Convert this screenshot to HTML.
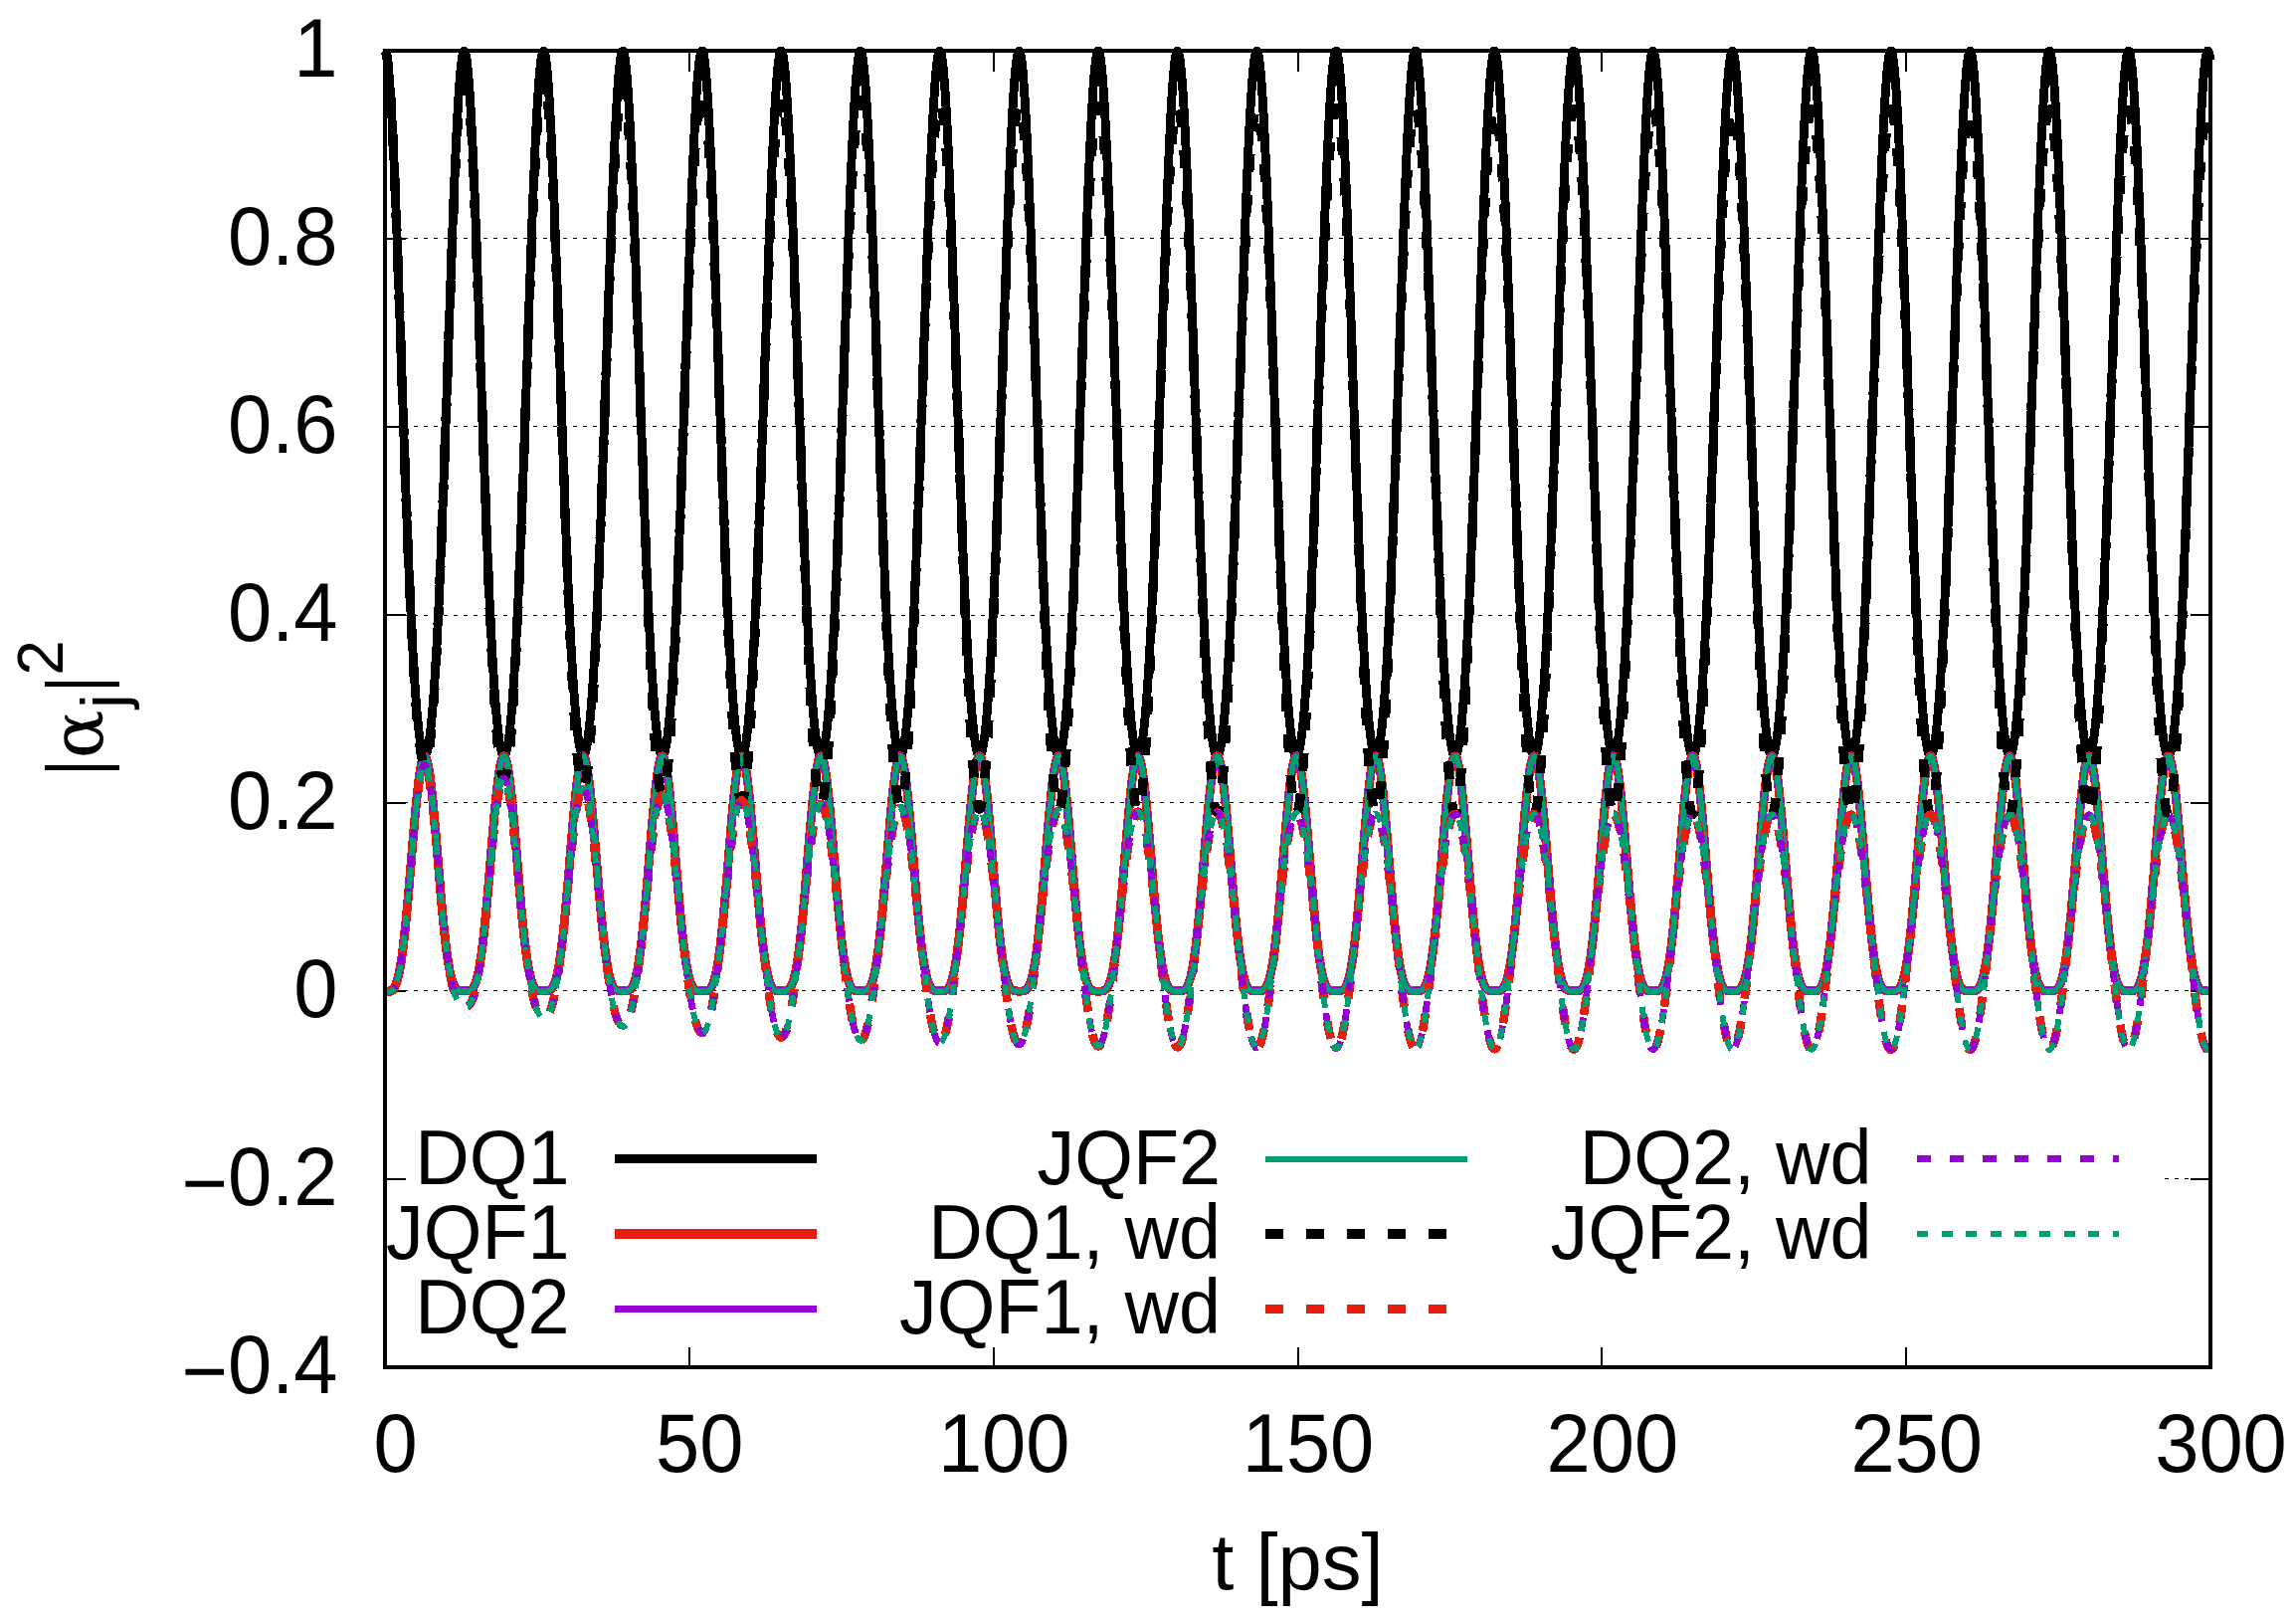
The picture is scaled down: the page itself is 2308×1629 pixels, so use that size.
<!DOCTYPE html>
<html lang="en">
<head>
<meta charset="utf-8">
<title>|alpha_j|^2 vs t [ps]</title>
<style>
html,body{margin:0;padding:0;background:#fff;overflow:hidden}
svg{display:block}
text{font-family:"Liberation Sans",sans-serif;fill:#000}
.ax{font-size:79.5px}
.lg{font-size:75.5px}
.c{fill:none;stroke-linejoin:round;stroke-linecap:butt}
</style>
</head>
<body>
<svg width="2308" height="1629" viewBox="0 0 2308 1629">
<rect x="0" y="0" width="2308" height="1629" fill="#fff"/>
<g stroke="#000" stroke-width="1" stroke-dasharray="4 6" stroke-dashoffset="1" fill="none" shape-rendering="crispEdges">
<line x1="387.0" y1="239.5" x2="2222.0" y2="239.5"/>
<line x1="387.0" y1="428.5" x2="2222.0" y2="428.5"/>
<line x1="387.0" y1="618.5" x2="2222.0" y2="618.5"/>
<line x1="387.0" y1="806.5" x2="2222.0" y2="806.5"/>
<line x1="387.0" y1="995.5" x2="2222.0" y2="995.5"/>
<line x1="2174" y1="1184.5" x2="2201" y2="1184.5" stroke-dashoffset="8"/>
</g>
<g stroke="#000" stroke-width="2" fill="none" shape-rendering="crispEdges">
<line x1="692.8" y1="1374.0" x2="692.8" y2="1353.5"/><line x1="692.8" y1="51.0" x2="692.8" y2="71.5"/>
<line x1="998.7" y1="1374.0" x2="998.7" y2="1353.5"/><line x1="998.7" y1="51.0" x2="998.7" y2="71.5"/>
<line x1="1304.5" y1="1374.0" x2="1304.5" y2="1353.5"/><line x1="1304.5" y1="51.0" x2="1304.5" y2="71.5"/>
<line x1="1610.3" y1="1374.0" x2="1610.3" y2="1353.5"/><line x1="1610.3" y1="51.0" x2="1610.3" y2="71.5"/>
<line x1="1916.2" y1="1374.0" x2="1916.2" y2="1353.5"/><line x1="1916.2" y1="51.0" x2="1916.2" y2="71.5"/>
<line x1="387.0" y1="240.0" x2="407.5" y2="240.0"/><line x1="2222.0" y1="240.0" x2="2201.5" y2="240.0"/>
<line x1="387.0" y1="429.0" x2="407.5" y2="429.0"/><line x1="2222.0" y1="429.0" x2="2201.5" y2="429.0"/>
<line x1="387.0" y1="618.0" x2="407.5" y2="618.0"/><line x1="2222.0" y1="618.0" x2="2201.5" y2="618.0"/>
<line x1="387.0" y1="807.0" x2="407.5" y2="807.0"/><line x1="2222.0" y1="807.0" x2="2201.5" y2="807.0"/>
<line x1="387.0" y1="996.0" x2="407.5" y2="996.0"/><line x1="2222.0" y1="996.0" x2="2201.5" y2="996.0"/>
<line x1="387.0" y1="1185.0" x2="407.5" y2="1185.0"/><line x1="2222.0" y1="1185.0" x2="2201.5" y2="1185.0"/>
</g>
<g class="c" shape-rendering="crispEdges">
<path d="M387.0 51.0l1 1.5 1 4.3 1 7.2 1 10 1 12.7 1 15.2 1 17.6 1 19.8 1 21.8 1 23.6 1 25.1 1 26.4 1 27.5 1 28.2 1 28.9 1 29.2 1 29.2 1 29.1 .9 28.7 1 28.2 1 27.5 1 26.5 1 25.6 1 24.3 1 23.1 1 21.7 1 20.3 1 18.8 1 17.4 1 15.7 1 14.2 1 12.7 1 11.1 1 9.6 1 8.1 1 6.5 1 5.1 1 3.6 1 2.1 1 .6 1-.8 1-2.2 1-3.8 1-5.2 1-6.7 1-8.3 1-9.7 1-11.3 1-12.9 1-14.4 1-15.9 1-17.5 1-19 1-20.5 1-21.9 .9-23.2 1-24.5 1-25.6 1-26.7 1-27.5 1-28.3 1-28.8 1-29.1 1-29.3 1-29.1 1-28.8 1-28.2 1-27.4 1-26.2 1-25 1-23.4 1-21.5 1-19.6 1-17.3 1-14.9 1-12.4 1-9.7 1-6.9 1-4.1 1-1.1 1 1.8 1 4.7 1 7.5 1 10.4 1 12.9 1 15.5 1 17.9 1 20 1 22 1 23.7 1 25.3 1 26.6 .9 27.5 1 28.4 1 28.9 1 29.2 1 29.2 1 29.1 1 28.7 1 28.1 1 27.3 1 26.5 1 25.4 1 24.2 1 22.9 1 21.6 1 20.1 1 18.7 1 17.1 1 15.6 1 14.1 1 12.5 1 10.9 1 9.4 1 7.9 1 6.4 1 4.9 1 3.4 1 1.9 1 .5 1-1 1-2.4 1-3.9 1-5.4 1-6.9 1-8.4 1-9.9 1-11.5 .9-13 1-14.6 1-16.1 1-17.7 1-19.2 1-20.6 1-22 1-23.4 1-24.6 1-25.8 1-26.8 1-27.6 1-28.3 1-28.9 1-29.1 1-29.3 1-29.1 1-28.7 1-28.1 1-27.3 1-26.1 1-24.8 1-23.2 1-21.3 1-19.4 1-17 1-14.7 1-12.1 1-9.3 1-6.6 1-3.7 1-.8 1 2.1 1 5 1 7.9 1 10.6 1 13.3 .9 15.7 1 18.1 1 20.3 1 22.2 1 23.9 1 25.5 1 26.6 1 27.7 1 28.4 1 29 1 29.2 1 29.2 1 29 1 28.7 1 28 1 27.3 1 26.3 1 25.3 1 24.1 1 22.7 1 21.5 1 19.9 1 18.5 1 17 1 15.4 1 13.9 1 12.3 1 10.7 1 9.3 1 7.7 1 6.2 1 4.7 1 3.3 1 1.8 1 .3 1-1.2 1-2.6 .9-4 1-5.6 1-7.1 1-8.6 1-10.1 1-11.6 1-13.2 1-14.8 1-16.3 1-17.8 1-19.3 1-20.8 1-22.2 1-23.5 1-24.8 1-25.9 1-26.9 1-27.7 1-28.4 1-28.9 1-29.1 1-29.3 1-29.1 1-28.6 1-28.1 1-27.1 1-26 1-24.6 1-23 1-21.1 1-19.1 1-16.8 1-14.4 1-11.8 1-9 1-6.3 1-3.4 .9-.4 1 2.4 1 5.4 1 8.1 1 11 1 13.5 1 16.1 1 18.3 1 20.5 1 22.4 1 24.1 1 25.6 1 26.8 1 27.8 1 28.5 1 29 1 29.2 1 29.2 1 29 1 28.6 1 28 1 27.1 1 26.2 1 25.2 1 23.9 1 22.6 1 21.3 1 19.8 1 18.3 1 16.8 1 15.2 1 13.7 1 12.2 1 10.6 1 9 1 7.6 .9 6 1 4.6 1 3.1 1 1.6 1 .1 1-1.3 1-2.8 1-4.2 1-5.7 1-7.3 1-8.7 1-10.3 1-11.8 1-13.4 1-14.9 1-16.5 1-18 1-19.5 1-21 1-22.3 1-23.7 1-24.9 1-26 1-27 1-27.8 1-28.4 1-29 1-29.2 1-29.2 1-29 1-28.7 1-27.9 1-27 1-25.9 1-24.4 1-22.8 1-20.9 .9-18.8 1-16.6 1-14 1-11.5 1-8.8 1-5.9 1-3.1 1-.1 1 2.8 1 5.6 1 8.5 1 11.3 1 13.8 1 16.3 1 18.6 1 20.8 1 22.6 1 24.3 1 25.7 1 26.9 1 27.9 1 28.6 1 29 1 29.2 1 29.2 1 29 1 28.5 1 27.9 1 27 1 26.1 1 25.1 1 23.7 1 22.5 1 21.1 1 19.6 1 18.2 1 16.6 .9 15.1 1 13.5 1 12 1 10.4 1 8.9 1 7.3 1 5.9 1 4.4 1 2.9 1 1.5 1 0 1-1.5 1-3 1-4.4 1-5.9 1-7.4 1-8.9 1-10.5 1-12 1-13.5 1-15.1 1-16.7 1-18.1 1-19.7 1-21.1 1-22.5 1-23.8 1-25.1 1-26.1 1-27.1 1-27.9 1-28.5 1-29 1-29.2 1-29.2 1-29 1-28.6 .9-27.8 1-26.9 1-25.7 1-24.3 1-22.6 1-20.7 1-18.5 1-16.3 1-13.8 1-11.2 1-8.4 1-5.6 1-2.7 1 .2 1 3.1 1 6 1 8.8 1 11.5 1 14.1 1 16.6 1 18.9 1 20.9 1 22.9 1 24.4 1 25.9 1 27 1 28 1 28.6 1 29.1 1 29.2 1 29.2 1 28.9 1 28.5 1 27.8 1 27 1 25.9 1 24.9 .9 23.7 1 22.3 1 20.9 1 19.5 1 17.9 1 16.5 1 14.9 1 13.3 1 11.8 1 10.3 1 8.7 1 7.2 1 5.7 1 4.2 1 2.8 1 1.2 1-.1 1-1.7 1-3.1 1-4.6 1-6.1 1-7.5 1-9.1 1-10.7 1-12.1 1-13.8 1-15.2 1-16.8 1-18.4 1-19.8 1-21.3 1-22.7 1-23.9 1-25.2 1-26.2 1-27.2 1-28 .9-28.6 1-29 1-29.2 1-29.2 1-29 1-28.5 1-27.7 1-26.8 1-25.6 1-24 1-22.4 1-20.5 1-18.3 1-16 1-13.5 1-10.9 1-8.1 1-5.3 1-2.4 1 .6 1 3.4 1 6.3 1 9.2 1 11.8 1 14.4 1 16.9 1 19.1 1 21.1 1 23.1 1 24.6 1 26 1 27.2 1 28 1 28.7 1 29.1 1 29.2 .9 29.2 1 28.9 1 28.4 1 27.7 1 26.8 1 25.9 1 24.8 1 23.5 1 22.1 1 20.8 1 19.3 1 17.8 1 16.2 1 14.8 1 13.1 1 11.6 1 10.1 1 8.6 1 7 1 5.5 1 4.1 1 2.6 1 1.1 1-.3 1-1.9 1-3.2 1-4.8 1-6.2 1-7.8 1-9.3 1-10.8 1-12.3 1-13.9 1-15.5 1-17 1-18.5 1-20 .9-21.4 1-22.8 1-24.1 1-25.3 1-26.4 1-27.2 1-28.1 1-28.6 1-29.1 1-29.2 1-29.2 1-28.9 1-28.4 1-27.7 1-26.7 1-25.4 1-23.9 1-22.1 1-20.3 1-18 1-15.7 1-13.2 1-10.6 1-7.8 1-5 1-2 1 .8 1 3.8 1 6.6 1 9.5 1 12.1 1 14.7 1 17.1 1 19.4 1 21.4 1 23.2 1 24.8 .9 26.1 1 27.3 1 28.1 1 28.8 1 29.1 1 29.3 1 29.1 1 28.8 1 28.4 1 27.6 1 26.7 1 25.8 1 24.6 1 23.3 1 22 1 20.6 1 19.2 1 17.6 1 16.1 1 14.5 1 13 1 11.5 1 9.9 1 8.3 1 6.9 1 5.4 1 3.9 1 2.4 1 .9 1-.5 1-2 1-3.4 1-4.9 1-6.4 1-8 1-9.4 1-11 .9-12.5 1-14.1 1-15.6 1-17.2 1-18.7 1-20.1 1-21.6 1-23 1-24.2 1-25.4 1-26.5 1-27.4 1-28.1 1-28.7 1-29.1 1-29.2 1-29.2 1-28.9 1-28.3 1-27.6 1-26.5 1-25.2 1-23.8 1-21.9 1-20 1-17.8 1-15.5 1-12.9 1-10.2 1-7.5 1-4.7 1-1.7 1 1.2 1 4.1 1 7 1 9.7 .9 12.4 1 15 1 17.4 1 19.6 1 21.6 1 23.4 1 25 1 26.3 1 27.4 1 28.2 1 28.8 1 29.1 1 29.3 1 29.1 1 28.8 1 28.2 1 27.6 1 26.6 1 25.6 1 24.5 1 23.2 1 21.9 1 20.4 1 19 1 17.4 1 15.9 1 14.4 1 12.8 1 11.3 1 9.7 1 8.2 1 6.7 1 5.2 1 3.7 1 2.3 1 .7 1-.6 .9-2.2 1-3.6 1-5.1 1-6.6 1-8.1 1-9.6 1-11.1 1-12.7 1-14.3 1-15.8 1-17.3 1-18.9 1-20.3 1-21.8 1-23.1 1-24.3 1-25.6 1-26.6 1-27.4 1-28.2 1-28.8 1-29.1 1-29.2 1-29.2 1-28.8 1-28.3 1-27.4 1-26.4 1-25.1 1-23.5 1-21.8 1-19.7 1-17.6 1-15.2 1-12.6 1-9.9 1-7.2 .9-4.3 1-1.4 1 1.5 1 4.4 1 7.3 1 10.1 1 12.7 1 15.3 1 17.6 1 19.8 1 21.9 1 23.6 1 25.1 1 26.4 1 27.5 1 28.3 1 28.9 1 29.1 1 29.3 1 29.1 1 28.7 1 28.2 1 27.4 1 26.6 1 25.5 1 24.3 1 23 1 21.7 1 20.3 1 18.8 1 17.3 1 15.7 1 14.2 1 12.7 1 11 1 9.6 1 8 .9 6.6 1 5 1 3.5 1 2.1 1 .6 1-.8 1-2.3 1-3.8 1-5.2 1-6.8 1-8.3 1-9.8 1-11.3 1-12.9 1-14.4 1-16 1-17.5 1-19 1-20.5 1-21.9 1-23.3 1-24.5 1-25.6 1-26.7 1-27.6 1-28.3 1-28.8 1-29.1 1-29.2 1-29.2 1-28.8 1-28.1 1-27.4 1-26.2 1-25 1-23.3 1-21.5 .9-19.5 1-17.3 1-14.9 1-12.3 1-9.7 1-6.8 1-4 1-1.1 1 1.9 1 4.7 1 7.6 1 10.4 1 13 1 15.5 1 17.9 1 20.1 1 22.1 1 23.7 1 25.3 1 26.6 1 27.6 1 28.4 1 28.9 1 29.2 1 29.2 1 29.1 1 28.6 1 28.1 1 27.4 1 26.4 1 25.4 1 24.2 1 22.9 1 21.5 1 20.1 1 18.6 1 17.1 .9 15.6 1 14 1 12.5 1 10.9 1 9.4 1 7.8 1 6.4 1 4.9 1 3.4 1 1.9 1 .4 1-1 1-2.5 1-3.9 1-5.4 1-7 1-8.4 1-10 1-11.5 1-13 1-14.6 1-16.2 1-17.7 1-19.1 1-20.7 1-22.1 1-23.4 1-24.6 1-25.8 1-26.8 1-27.7 1-28.3 1-28.9 1-29.1 1-29.3 1-29.1 .9-28.7 1-28.1 1-27.2 1-26.1 1-24.8 1-23.1 1-21.4 1-19.2 1-17 1-14.6 1-12.1 1-9.3 1-6.5 1-3.7 1-.7 1 2.2 1 5 1 8 1 10.6 1 13.3 1 15.9 1 18.1 1 20.3 1 22.3 1 23.9 1 25.5 1 26.7 1 27.7 1 28.4 1 29 1 29.2 1 29.2 1 29 1 28.6 1 28.1 1 27.2 1 26.3 .9 25.3 1 24 1 22.8 1 21.4 1 19.9 1 18.5 1 16.9 1 15.4 1 13.8 1 12.3 1 10.7 1 9.3 1 7.6 1 6.2 1 4.7 1 3.2 1 1.8 1 .3 1-1.2 1-2.6 1-4.1 1-5.6 1-7.1 1-8.6 1-10.2 1-11.7 1-13.2 1-14.8 1-16.3 1-17.9 1-19.3 1-20.8 1-22.3 1-23.5 1-24.8 1-25.9 1-26.9 .9-27.7 1-28.5 1-28.9 1-29.1 1-29.3 1-29 1-28.7 1-28 1-27.1 1-26 1-24.6 1-23 1-21 1-19.1 1-16.7 1-14.3 1-11.8 1-9 1-6.2 1-3.3 1-.4 1 2.5 1 5.4 1 8.2 1 11 1 13.6 1 16.1 1 18.4 1 20.5 1 22.5 1 24.1 1 25.7 1 26.8 1 27.8 1 28.5 1 29 1 29.2 .9 29.2 1 29 1 28.6 1 27.9 1 27.2 1 26.2 1 25.1 1 23.9 1 22.6 1 21.2 1 19.8 1 18.3 1 16.7 1 15.2 1 13.7 1 12.1 1 10.6 1 9 1 7.5 1 6 1 4.6 1 3 1 1.6 1 .1 1-1.3 1-2.8 1-4.3 1-5.8 1-7.2 1-8.8 1-10.3 1-11.9 1-13.4 1-14.9 1-16.5 1-18.1 .9-19.5 1-21 1-22.4 1-23.7 1-24.9 1-26 1-27 1-27.8 1-28.5 1-28.9 1-29.2 1-29.3 1-29 1-28.6 1-28 1-27 1-25.8 1-24.4 1-22.7 1-20.9 1-18.8 1-16.5 1-14 1-11.4 1-8.7 1-5.9 1-3 1-.1 1 2.9 1 5.7 1 8.5 1 11.3 1 13.9 1 16.4 1 18.6 1 20.8 1 22.7 .9 24.3 1 25.7 1 27 1 27.9 1 28.5 1 29.1 1 29.2 1 29.2 1 29 1 28.5 1 27.8 1 27.1 1 26.1 1 24.9 1 23.8 1 22.5 1 21 1 19.6 1 18.1 1 16.6 1 15.1 1 13.4 1 12 1 10.4 1 8.8 1 7.4 1 5.8 1 4.4 1 2.9 1 1.4 1-.1 1-1.5 1-2.9 1-4.5 1-5.9 1-7.5 1-8.9 .9-10.5 1-12 1-13.6 1-15.1 1-16.7 1-18.2 1-19.7 1-21.2 1-22.5 1-23.8 1-25.1 1-26.1 1-27.1 1-27.9 1-28.6 1-28.9 1-29.3 1-29.2 1-29 1-28.5 1-27.9 1-26.8 1-25.7 1-24.3 1-22.5 1-20.6 1-18.6 1-16.2 1-13.7 1-11.2 1-8.3 1-5.6 1-2.7 1 .3 1 3.2 1 6 1 8.9 .9 11.6 1 14.2 1 16.6 1 18.9 1 21 1 22.8 1 24.5 1 25.9 1 27.1 1 28 1 28.6 1 29.1 1 29.2 1 29.2 1 28.9 1 28.5 1 27.7 1 27 1 25.9 1 24.9 1 23.6 1 22.3 1 20.9 1 19.4 1 18 1 16.4 1 14.9 1 13.3 1 11.7 1 10.2 1 8.7 1 7.2 1 5.7 1 4.2 1 2.7 1 1.3 1-.3 .9-1.6 1-3.2 1-4.6 1-6.1 1-7.6 1-9.1 1-10.7 1-12.2 1-13.7 1-15.4 1-16.8 1-18.4 1-19.8 1-21.3 1-22.7 1-24 1-25.2 1-26.2 1-27.3 1-27.9 1-28.6 1-29.1 1-29.2 1-29.2 1-28.9 1-28.5 1-27.8 1-26.7 1-25.5 1-24.1 1-22.3 1-20.5 1-18.2 1-16 1-13.4 1-10.8 1-8.1 .9-5.2 1-2.4 1 .6 1 3.5 1 6.4 1 9.2 1 11.8 1 14.5 1 16.9 1 19.2 1 21.2 1 23 1 24.7 1 26 1 27.2 1 28.1 1 28.7 1 29.1 1 29.2 1 29.2 1 28.9 1 28.3 1 27.7 1 26.9 1 25.8 1 24.7 1 23.5 1 22.2 1 20.7 1 19.3 1 17.7 1 16.3 1 14.6 1 13.2 1 11.6 1 10 .9 8.5 1 7 1 5.5 1 4.1 1 2.5 1 1.1 1-.4 1-1.8 1-3.3 1-4.8 1-6.3 1-7.8 1-9.3 1-10.8 1-12.4 1-13.9 1-15.5 1-17 1-18.5 1-20.1 1-21.4 1-22.9 1-24.1 1-25.3 1-26.4 1-27.3 1-28.1 1-28.6 1-29.1 1-29.2 1-29.2 1-28.9 1-28.4 1-27.7 1-26.6 1-25.4 1-23.8 .9-22.2 1-20.1 1-18.1 1-15.6 1-13.2 1-10.5 1-7.7 1-4.9 1-2 1 .9 1 3.8 1 6.7 1 9.5 1 12.2 1 14.7 1 17.2 1 19.4 1 21.4 1 23.2 1 24.9 1 26.2 1 27.3 1 28.1 1 28.8 1 29.1 1 29.2 1 29.2 1 28.8 1 28.3 1 27.6 1 26.8 1 25.7 1 24.6 1 23.3 1 22 1 20.5 1 19.1 .9 17.6 1 16.1 1 14.5 1 13 1 11.4 1 9.9 1 8.3 1 6.8 1 5.4 1 3.8 1 2.4 1 .9 1-.5 1-2 1-3.5 1-4.9 1-6.5 1-7.9 1-9.5 1-11 1-12.6 1-14.1 1-15.6 1-17.2 1-18.7 1-20.2 1-21.7 1-22.9 1-24.3 1-25.5 1-26.4 1-27.4 1-28.2 1-28.7 1-29.1 1-29.2 1-29.2 .9-28.9 1-28.3 1-27.5 1-26.5 1-25.2 1-23.7 1-21.9 1-20 1-17.8 1-15.3 1-12.9 1-10.2 1-7.4 1-4.6 1-1.7 1 1.3 1 4.1 1 7 1 9.8 1 12.5 1 15 1 17.5 1 19.6 1 21.6 1 23.5 1 25 1 26.3 1 27.4 1 28.3 1 28.8 1 29.1 1 29.3 1 29.1 1 28.7 1 28.3 1 27.5 .9 26.6 1 25.6 1 24.5 1 23.1 1 21.9 1 20.4 1 18.9 1 17.4 1 15.9 1 14.4 1 12.7 1 11.3 1 9.7 1 8.1 1 6.7 1 5.2 1 3.7 1 2.2 1 .7 1-.7 1-2.1 1-3.7 1-5.1 1-6.6 1-8.1 1-9.7 1-11.2 1-12.7 1-14.3 1-15.8 1-17.4 1-18.9 1-20.3 1-21.8 1-23.1 1-24.4 1-25.6 .9-26.6 1-27.5 1-28.2 1-28.8 1-29.1 1-29.2 1-29.2 1-28.8 1-28.2 1-27.5 1-26.4 1-25 1-23.5 1-21.7 1-19.7 1-17.5 1-15.1 1-12.6 1-9.9 1-7.1 1-4.3 1-1.3 1 1.6 1 4.5 1 7.3 1 10.1 1 12.8 1 15.3 1 17.7 1 19.9 1 21.8 1 23.6 1 25.2 1 26.5 1 27.5 1 28.3 1 28.9 .9 29.1 1 29.3 1 29.1 1 28.7 1 28.1 1 27.5 1 26.5 1 25.5 1 24.3 1 23 1 21.7 1 20.2 1 18.8 1 17.2 1 15.7 1 14.2 1 12.6 1 11.1 1 9.5 1 8 1 6.5 1 5 1 3.5 1 2.1 1 .5 1-.8 1-2.4 1-3.8 1-5.3 1-6.7 1-8.3 1-9.9 1-11.3 1-12.9 1-14.5 1-16 1-17.5 .9-19.1 1-20.5 1-22 1-23.2 1-24.6 1-25.7 1-26.7 1-27.6 1-28.2 1-28.8 1-29.2 1-29.2 1-29.2 1-28.7 1-28.2 1-27.3 1-26.3 1-24.8 1-23.4 1-21.4 1-19.5 1-17.3 1-14.8 1-12.3 1-9.5 1-6.8 1-4 1-1 1 1.9 1 4.8 1 7.7 1 10.4 1 13.1 1 15.6 1 17.9 1 20.1 1 22.1 .9 23.8 1 25.4 1 26.5 1 27.7 1 28.3 1 28.9 1 29.2 1 29.3 1 29 1 28.7 1 28.1 1 27.3 1 26.4 1 25.4 1 24.1 1 22.9 1 21.5 1 20.1 1 18.6 1 17.1 1 15.5 1 14 1 12.4 1 10.9 1 9.4 1 7.8 1 6.3 1 4.9 1 3.3 1 1.9 1 .4 1-1 1-2.5 1-4 1-5.5 1-6.9 1-8.5 .9-10 1-11.5 1-13.1 1-14.6 1-16.2 1-17.7 1-19.2 1-20.7 1-22.1 1-23.5 1-24.6 1-25.8 1-26.9 1-27.6 1-28.4 1-28.8 1-29.2 1-29.2 1-29.1 1-28.8 1-28 1-27.3 1-26.1 1-24.7 1-23.1 1-21.3 1-19.2 1-17 1-14.5 1-12 1-9.3 1-6.4 1-3.6 1-.7 1 2.2 1 5.2 .9 7.9 1 10.8 1 13.3 1 15.9 1 18.2 1 20.3 1 22.3 1 24 1 25.5 1 26.7 1 27.7 1 28.5 1 28.9 1 29.3 1 29.2 1 29 1 28.6 1 28 1 27.3 1 26.3 1 25.2 1 24 1 22.7 1 21.4 1 19.9 1 18.4 1 16.9 1 15.4 1 13.8 1 12.2 1 10.7 1 9.2 1 7.7 1 6.1 1 4.7 1 3.2 1 1.7 .9 .3 1-1.2 1-2.7 1-4.1 1-5.7 1-7.1 1-8.6 1-10.2 1-11.7 1-13.3 1-14.8 1-16.3 1-17.9 1-19.4 1-20.9 1-22.2 1-23.6 1-24.8 1-25.9 1-27 1-27.7 1-28.4 1-28.9 1-29.2 1-29.3 1-29 1-28.7 1-28 1-27.1 1-25.9 1-24.6 1-22.9 1-21 1-19 1-16.7 1-14.3 1-11.7 .9-8.9 1-6.2 1-3.2 1-.4 1 2.6 1 5.4 1 8.3 1 11.1 1 13.6 1 16.2 1 18.4 1 20.6 1 22.5 1 24.1 1 25.7 1 26.8 1 27.8 1 28.6 1 28.9 1 29.3 1 29.2 1 29 1 28.5 1 28 1 27.1 1 26.2 1 25.1 1 23.8 1 22.6 1 21.2 1 19.8 1 18.2 1 16.7 1 15.2 1 13.6 1 12.1 1 10.6 .9 9 1 7.5 1 5.9 1 4.5 1 3.1 1 1.5 1 .1 1-1.4 1-2.8 1-4.3 1-5.8 1-7.3 1-8.8 1-10.4 1-11.8 1-13.5 1-15 1-16.5 1-18.1 1-19.5 1-21 1-22.4 1-23.7 1-25 1-26 1-27.1 1-27.8 1-28.5 1-28.9 1-29.2 1-29.3 1-29 1-28.6 1-27.9 1-27 1-25.8 .9-24.4 1-22.7 1-20.8 1-18.7 1-16.5 1-14 1-11.3 1-8.7 1-5.8 1-2.9 1 0 1 2.9 1 5.7 1 8.6 1 11.4 1 13.9 1 16.4 1 18.7 1 20.8 1 22.7 1 24.4 1 25.8 1 26.9 1 27.9 1 28.6 1 29.1 1 29.2 1 29.2 1 28.9 1 28.5 1 27.9 1 27 1 26.1 1 24.9 1 23.8 1 22.4 1 21 .9 19.6 1 18.1 1 16.5 1 15 1 13.5 1 11.9 1 10.4 1 8.8 1 7.3 1 5.8 1 4.4 1 2.8 1 1.4 1-.1 1-1.5 1-3 1-4.5 1-6 1-7.4 1-9 1-10.5 1-12.1 1-13.6 1-15.2 1-16.7 1-18.2 1-19.7 1-21.2 1-22.6 1-23.8 1-25.1 1-26.2 1-27.1 1-27.9 1-28.5 1-29 1-29.2 .9-29.3 1-29 1-28.5 1-27.8 1-26.9 1-25.6 1-24.2 1-22.5 1-20.6 1-18.5 1-16.2 1-13.7 1-11 1-8.4 1-5.5 1-2.6 1 .3 1 3.3 1 6.1" stroke="#000" stroke-width="8.9"/>
<path d="M387.0 996.0l1 0 1 0 1 0 1-.1 1-.2 1-.4 1-.6 1-.9 1-1.2 1-1.7 1-2.2 1-2.8 1-3.4 1-4.2 1-4.9 1-5.7 1-6.6 1-7.3 .9-8.2 1-8.9 1-9.7 1-10.3 1-10.9 1-11.4 1-11.7 1-12 1-12.1 1-12 1-11.8 1-11.4 1-10.9 1-10.2 1-9.4 1-8.5 1-7.3 1-6.2 1-4.9 1-3.5 1-2.1 1-.6 1 .8 1 2.2 1 3.7 1 5 1 6.3 1 7.5 1 8.6 1 9.5 1 10.3 1 11 1 11.5 1 11.8 1 12 1 12.1 1 11.9 .9 11.7 1 11.3 1 10.9 1 10.2 1 9.6 1 8.9 1 8 1 7.3 1 6.5 1 5.6 1 4.8 1 4.1 1 3.4 1 2.7 1 2.1 1 1.7 1 1.2 1 .8 1 .5 1 .4 1 .2 1 .1 1 0 1 0 1 0 1 0 1 0 1-.1 1-.1 1-.2 1-.4 1-.6 1-.9 1-1.3 1-1.7 1-2.3 1-2.8 .9-3.6 1-4.2 1-5 1-5.8 1-6.7 1-7.4 1-8.3 1-9 1-9.7 1-10.4 1-11 1-11.4 1-11.8 1-12 1-12 1-12 1-11.8 1-11.4 1-10.8 1-10.1 1-9.3 1-8.4 1-7.2 1-6 1-4.8 1-3.3 1-1.9 1-.5 1 .9 1 2.5 1 3.8 1 5.2 1 6.4 1 7.6 1 8.7 1 9.6 .9 10.4 1 11.1 1 11.5 1 11.8 1 12.1 1 12 1 11.9 1 11.7 1 11.3 1 10.8 1 10.2 1 9.5 1 8.7 1 8 1 7.2 1 6.3 1 5.6 1 4.7 1 4 1 3.3 1 2.7 1 2 1 1.6 1 1.2 1 .8 1 .5 1 .3 1 .2 1 .1 1 0 1 0 1 0 1 0 1 0 1-.1 1-.1 1-.2 .9-.4 1-.7 1-.9 1-1.3 1-1.8 1-2.4 1-2.9 1-3.6 1-4.3 1-5.1 1-5.9 1-6.8 1-7.5 1-8.3 1-9.2 1-9.8 1-10.4 1-11.1 1-11.4 1-11.8 1-12 1-12.1 1-12 1-11.7 1-11.3 1-10.8 1-10 1-9.2 1-8.3 1-7.1 1-5.8 1-4.6 1-3.2 1-1.8 1-.3 1 1.2 1 2.5 .9 4 1 5.3 1 6.6 1 7.8 1 8.8 1 9.7 1 10.4 1 11.1 1 11.6 1 11.9 1 12 1 12.1 1 11.9 1 11.6 1 11.2 1 10.8 1 10.1 1 9.4 1 8.7 1 7.9 1 7 1 6.3 1 5.4 1 4.7 1 3.9 1 3.2 1 2.6 1 2 1 1.6 1 1.1 1 .7 1 .5 1 .3 1 .2 1 .1 1 0 1 0 .9 0 1 0 1 0 1-.1 1-.1 1-.2 1-.5 1-.7 1-.9 1-1.4 1-1.9 1-2.4 1-3 1-3.7 1-4.4 1-5.2 1-6 1-6.8 1-7.6 1-8.4 1-9.2 1-9.9 1-10.6 1-11 1-11.6 1-11.8 1-12 1-12.1 1-11.9 1-11.7 1-11.3 1-10.7 1-9.9 1-9.1 1-8.1 1-7 .9-5.7 1-4.4 1-3.1 1-1.6 1-.1 1 1.3 1 2.7 1 4.2 1 5.4 1 6.7 1 7.9 1 8.9 1 9.8 1 10.6 1 11.1 1 11.6 1 12 1 12 1 12 1 11.9 1 11.6 1 11.2 1 10.6 1 10.1 1 9.3 1 8.6 1 7.8 1 7 1 6.2 1 5.3 1 4.6 1 3.8 1 3.2 1 2.5 1 1.9 1 1.5 1 1.1 .9 .7 1 .5 1 .3 1 .1 1 .1 1 0 1 0 1 0 1 0 1 0 1-.1 1-.1 1-.3 1-.4 1-.7 1-1.1 1-1.4 1-1.9 1-2.5 1-3.1 1-3.7 1-4.5 1-5.3 1-6.1 1-6.9 1-7.7 1-8.5 1-9.3 1-10 1-10.6 1-11.1 1-11.6 1-11.8 1-12.1 1-12 1-12 1-11.6 .9-11.2 1-10.6 1-9.9 1-9 1-8 1-6.8 1-5.6 1-4.3 1-2.8 1-1.5 1 0 1 1.5 1 2.9 1 4.3 1 5.6 1 6.9 1 8 1 9 1 9.9 1 10.6 1 11.2 1 11.7 1 11.9 1 12.1 1 12 1 11.9 1 11.5 1 11.1 1 10.6 1 10 1 9.2 1 8.5 1 7.7 1 6.9 1 6.1 1 5.3 1 4.5 .9 3.7 1 3.1 1 2.4 1 1.9 1 1.4 1 1.1 1 .7 1 .4 1 .3 1 .1 1 .1 1 0 1 0 1 0 1 0 1 0 1-.1 1-.1 1-.3 1-.5 1-.7 1-1.1 1-1.5 1-2 1-2.5 1-3.2 1-3.8 1-4.6 1-5.4 1-6.1 1-7 1-7.9 1-8.6 1-9.3 1-10.1 1-10.6 1-11.2 .9-11.6 1-11.9 1-12 1-12.1 1-11.9 1-11.6 1-11.2 1-10.5 1-9.8 1-8.9 1-7.8 1-6.7 1-5.4 1-4.2 1-2.7 1-1.2 1 .1 1 1.7 1 3 1 4.5 1 5.7 1 7 1 8.1 1 9.2 1 9.9 1 10.7 1 11.3 1 11.7 1 12 1 12 1 12.1 1 11.8 1 11.5 1 11.1 1 10.5 1 9.9 1 9.1 .9 8.4 1 7.7 1 6.8 1 5.9 1 5.2 1 4.4 1 3.7 1 3 1 2.4 1 1.8 1 1.4 1 1 1 .6 1 .5 1 .2 1 .1 1 .1 1 0 1 0 1 0 1 0 1 0 1-.1 1-.2 1-.3 1-.5 1-.7 1-1.2 1-1.5 1-2 1-2.6 1-3.3 1-3.9 1-4.7 1-5.4 1-6.3 .9-7.1 1-7.9 1-8.7 1-9.4 1-10.1 1-10.8 1-11.2 1-11.6 1-12 1-12 1-12 1-11.9 1-11.6 1-11.1 1-10.4 1-9.7 1-8.8 1-7.7 1-6.6 1-5.3 1-3.9 1-2.6 1-1.1 1 .3 1 1.8 1 3.3 1 4.6 1 5.9 1 7.1 1 8.2 1 9.3 1 10 1 10.8 1 11.3 1 11.8 1 11.9 1 12.1 .9 12 1 11.8 1 11.5 1 11 1 10.4 1 9.8 1 9.1 1 8.4 1 7.5 1 6.7 1 5.9 1 5 1 4.4 1 3.6 1 2.9 1 2.3 1 1.8 1 1.3 1 1 1 .6 1 .4 1 .2 1 .1 1 .1 1 0 1 0 1 0 1 0 1 0 1-.1 1-.2 1-.3 1-.5 1-.9 1-1.1 1-1.6 1-2.1 .9-2.7 1-3.3 1-4 1-4.7 1-5.6 1-6.4 1-7.1 1-8 1-8.8 1-9.5 1-10.2 1-10.8 1-11.3 1-11.7 1-11.9 1-12.1 1-12 1-11.9 1-11.5 1-11 1-10.4 1-9.6 1-8.6 1-7.6 1-6.4 1-5.2 1-3.8 1-2.4 1-.9 1 .5 1 1.9 1 3.4 1 4.8 1 6 1 7.3 1 8.3 1 9.4 .9 10.1 1 10.9 1 11.3 1 11.8 1 12 1 12.1 1 12 1 11.7 1 11.4 1 11 1 10.4 1 9.7 1 9 1 8.2 1 7.5 1 6.6 1 5.8 1 5 1 4.2 1 3.5 1 2.9 1 2.2 1 1.8 1 1.2 1 .9 1 .7 1 .3 1 .2 1 .1 1 .1 1 0 1 0 1 0 1 0 1 0 1-.1 .9-.2 1-.4 1-.5 1-.9 1-1.2 1-1.6 1-2.2 1-2.7 1-3.4 1-4.1 1-4.8 1-5.7 1-6.4 1-7.3 1-8.1 1-8.9 1-9.6 1-10.2 1-10.9 1-11.3 1-11.7 1-12 1-12 1-12.1 1-11.8 1-11.4 1-11 1-10.3 1-9.5 1-8.5 1-7.5 1-6.3 1-5 1-3.6 1-2.3 1-.7 1 .6 .9 2.2 1 3.5 1 4.9 1 6.2 1 7.4 1 8.4 1 9.5 1 10.2 1 10.9 1 11.5 1 11.8 1 12 1 12 1 12 1 11.7 1 11.4 1 10.9 1 10.3 1 9.7 1 8.9 1 8.1 1 7.4 1 6.5 1 5.7 1 4.9 1 4.1 1 3.5 1 2.8 1 2.1 1 1.7 1 1.3 1 .8 1 .6 1 .4 1 .2 1 .1 1 0 .9 0 1 0 1 0 1 0 1 0 1-.1 1-.2 1-.4 1-.6 1-.9 1-1.2 1-1.7 1-2.2 1-2.9 1-3.4 1-4.2 1-4.9 1-5.8 1-6.5 1-7.4 1-8.2 1-8.9 1-9.7 1-10.3 1-10.9 1-11.4 1-11.8 1-11.9 1-12.1 1-12 1-11.8 1-11.4 1-10.9 1-10.2 1-9.4 1-8.4 1-7.4 .9-6.1 1-4.9 1-3.5 1-2 1-.6 1 .8 1 2.3 1 3.7 1 5 1 6.4 1 7.5 1 8.6 1 9.5 1 10.3 1 11 1 11.5 1 11.8 1 12 1 12.1 1 11.9 1 11.7 1 11.4 1 10.8 1 10.2 1 9.6 1 8.8 1 8.1 1 7.2 1 6.5 1 5.6 1 4.8 1 4.1 1 3.3 1 2.7 1 2.2 1 1.6 1 1.2 .9 .8 1 .6 1 .3 1 .2 1 .1 1 0 1 0 1 0 1 0 1 0 1-.1 1-.1 1-.2 1-.4 1-.6 1-.9 1-1.3 1-1.8 1-2.2 1-2.9 1-3.5 1-4.3 1-5 1-5.9 1-6.6 1-7.5 1-8.2 1-9.1 1-9.7 1-10.4 1-11 1-11.4 1-11.8 1-12 1-12.1 1-12 1-11.7 .9-11.4 1-10.8 1-10.1 1-9.3 1-8.3 1-7.2 1-6 1-4.7 1-3.4 1-1.9 1-.4 1 1 1 2.4 1 3.9 1 5.2 1 6.5 1 7.6 1 8.7 1 9.6 1 10.4 1 11.1 1 11.5 1 11.9 1 12 1 12.1 1 11.9 1 11.6 1 11.3 1 10.8 1 10.2 1 9.4 1 8.8 1 8 1 7.1 1 6.3 1 5.6 .9 4.7 1 4 1 3.3 1 2.6 1 2.1 1 1.5 1 1.2 1 .8 1 .5 1 .3 1 .2 1 .1 1 0 1 0 1 0 1 0 1 0 1-.1 1-.1 1-.2 1-.4 1-.7 1-.9 1-1.4 1-1.8 1-2.3 1-3 1-3.6 1-4.3 1-5.2 1-5.9 1-6.7 1-7.6 1-8.3 1-9.1 1-9.9 1-10.5 .9-11 1-11.5 1-11.8 1-12 1-12 1-12 1-11.7 1-11.3 1-10.8 1-10 1-9.2 1-8.2 1-7.1 1-5.8 1-4.6 1-3.2 1-1.7 1-.3 1 1.2 1 2.6 1 4 1 5.4 1 6.6 1 7.7 1 8.8 1 9.8 1 10.5 1 11.1 1 11.5 1 11.9 1 12.1 1 12 1 11.9 1 11.6 1 11.3 1 10.7 1 10.1 .9 9.4 1 8.6 1 7.9 1 7.1 1 6.2 1 5.4 1 4.7 1 3.9 1 3.2 1 2.6 1 2 1 1.5 1 1.1 1 .8 1 .4 1 .3 1 .2 1 .1 1 0 1 0 1 0 1 0 1 0 1-.1 1-.1 1-.3 1-.4 1-.7 1-1 1-1.4 1-1.8 1-2.4 1-3.1 1-3.6 1-4.5 1-5.2 1-6 .9-6.8 1-7.7 1-8.4 1-9.2 1-9.9 1-10.6 1-11.1 1-11.5 1-11.8 1-12 1-12.1 1-12 1-11.6 1-11.3 1-10.7 1-9.9 1-9.1 1-8.1 1-6.9 1-5.7 1-4.4 1-3 1-1.6 1-.1 1 1.3 1 2.8 1 4.2 1 5.5 1 6.7 1 7.9 1 8.9 1 9.8 1 10.6 1 11.2 1 11.6 1 11.9 .9 12 1 12.1 1 11.9 1 11.5 1 11.2 1 10.6 1 10.1 1 9.3 1 8.6 1 7.8 1 6.9 1 6.2 1 5.3 1 4.6 1 3.8 1 3.1 1 2.5 1 2 1 1.4 1 1.1 1 .7 1 .5 1 .3 1 .1 1 .1 1 0 1 0 1 0 1 0 1 0 1-.1 1-.1 1-.3 1-.5 1-.7 1-1 1-1.4 .9-2 1-2.4 1-3.1 1-3.8 1-4.5 1-5.3 1-6.1 1-7 1-7.7 1-8.5 1-9.3 1-10 1-10.6 1-11.2 1-11.5 1-11.9 1-12 1-12.1 1-11.9 1-11.6 1-11.2 1-10.6 1-9.9 1-9 1-7.9 1-6.8 1-5.6 1-4.2 1-2.9 1-1.4 1 .1 1 1.5 1 2.9 1 4.3 1 5.7 1 6.8 1 8 .9 9.1 1 9.9 1 10.6 1 11.3 1 11.6 1 12 1 12 1 12 1 11.9 1 11.5 1 11.1 1 10.6 1 10 1 9.2 1 8.5 1 7.7 1 6.9 1 6 1 5.3 1 4.4 1 3.8 1 3 1 2.5 1 1.9 1 1.4 1 1 1 .7 1 .4 1 .3 1 .1 1 .1 1 0 1 0 1 0 1 0 1 0 1-.1 .9-.1 1-.3 1-.5 1-.8 1-1 1-1.5 1-2 1-2.6 1-3.1 1-3.9 1-4.6 1-5.4 1-6.2 1-7 1-7.8 1-8.6 1-9.4 1-10.1 1-10.7 1-11.1 1-11.6 1-11.9 1-12.1 1-12 1-11.9 1-11.6 1-11.2 1-10.5 1-9.8 1-8.8 1-7.8 1-6.7 1-5.4 1-4.1 1-2.7 1-1.3 1 .3 .9 1.6 1 3.1 1 4.5 1 5.8 1 7 1 8.1 1 9.2 1 10 1 10.7 1 11.3 1 11.7 1 11.9 1 12.1 1 12 1 11.8 1 11.5 1 11.1 1 10.5 1 9.8 1 9.2 1 8.4 1 7.6 1 6.8 1 5.9 1 5.2 1 4.4 1 3.6 1 3 1 2.4 1 1.8 1 1.4 1 1 1 .6 1 .5 1 .2 1 .1 1 .1 .9 0 1 0 1 0 1 0 1 0 1-.1 1-.2 1-.3 1-.5 1-.8 1-1.1 1-1.5 1-2.1 1-2.6 1-3.2 1-4 1-4.7 1-5.4 1-6.3 1-7.1 1-8 1-8.7 1-9.4 1-10.2 1-10.7 1-11.2 1-11.7 1-11.9 1-12 1-12.1 1-11.9 1-11.5 1-11.1 1-10.4 1-9.7 1-8.8 .9-7.7 1-6.5 1-5.3 1-3.9 1-2.5 1-1.1 1 .4 1 1.8 1 3.2 1 4.7 1 5.9 1 7.2 1 8.2 1 9.2 1 10.1 1 10.8 1 11.4 1 11.7 1 12 1 12 1 12 1 11.8 1 11.5 1 11 1 10.4 1 9.8 1 9.1 1 8.3 1 7.5 1 6.7 1 5.9 1 5 1 4.3 1 3.6 1 2.9 1 2.3 1 1.8 .9 1.3 1 1 1 .6 1 .4 1 .2 1 .1 1 .1 1 0 1 0 1 0 1 0 1 0 1-.1 1-.2 1-.3 1-.6 1-.8 1-1.1 1-1.6 1-2.1 1-2.7 1-3.3 1-4.1 1-4.7 1-5.6 1-6.4 1-7.2 1-8 1-8.8 1-9.5 1-10.2 1-10.8 1-11.3 1-11.7 1-12 1-12 1-12 .9-11.9 1-11.5 1-11 1-10.4 1-9.6 1-8.6 1-7.6 1-6.4 1-5.1 1-3.8 1-2.3 1-.9 1 .5 1 2 1 3.4 1 4.8 1 6.1 1 7.2 1 8.4 1 9.3 1 10.2 1 10.9 1 11.4 1 11.8 1 11.9 1 12.1 1 12 1 11.8 1 11.4 1 10.9 1 10.4 1 9.7 1 9 1 8.2 1 7.4 1 6.6 1 5.8 .9 5 1 4.2 1 3.5 1 2.8 1 2.3 1 1.7 1 1.3 1 .9 1 .6 1 .3 1 .2 1 .2 1 0 1 0 1 0 1 0 1 0 1 0 1-.1 1-.2 1-.4 1-.5 1-.9 1-1.2 1-1.7 1-2.1 1-2.8 1-3.4 1-4.1 1-4.8 1-5.7 1-6.5 1-7.3 1-8.1 1-8.8 1-9.7 .9-10.2 1-10.9 1-11.4 1-11.7 1-11.9 1-12.1 1-12 1-11.8 1-11.5 1-10.9 1-10.3 1-9.5 1-8.5 1-7.4 1-6.3 1-5 1-3.6 1-2.2 1-.7 1 .7 1 2.1 1 3.6 1 4.9 1 6.2 1 7.4 1 8.5 1 9.5 1 10.2 1 11 1 11.4 1 11.8 1 12 1 12.1 1 11.9 1 11.8 1 11.3 1 10.9 .9 10.3 1 9.6 1 9 1 8.1 1 7.3 1 6.5 1 5.7 1 4.9 1 4.1 1 3.4 1 2.8 1 2.2 1 1.6 1 1.3 1 .8 1 .6 1 .4 1 .2 1 .1 1 0 1 0 1 0 1 0 1 0 1 0 1-.1 1-.3 1-.3 1-.6 1-.9 1-1.3 1-1.7 1-2.2 1-2.8 1-3.5 1-4.2 1-4.9 .9-5.8 1-6.6 1-7.3 1-8.2 1-9 1-9.7 1-10.3 1-11 1-11.4 1-11.7 1-12 1-12.1 1-12 1-11.7 1-11.4 1-10.9 1-10.2 1-9.4 1-8.4 1-7.3 1-6.1 1-4.9 1-3.4 1-2.1 1-.5 1 .8 1 2.3 1 3.8 1 5.1 1 6.3 1 7.5 1 8.6 1 9.6 1 10.3 1 11 1 11.5 1 11.9 .9 12 1 12 1 12 1 11.7 1 11.3 1 10.8 1 10.2 1 9.6 1 8.8 1 8.1 1 7.2 1 6.4 1 5.6 1 4.8 1 4 1 3.4 1 2.7 1 2.1 1 1.6 1 1.2 1 .8 1 .6 1 .3 1 .2 1 .1 1 0 1 0 1 0 1 0 1 0 1-.1 1-.1 1-.2 1-.4 1-.6 1-.9 1-1.3 .9-1.8 1-2.3 1-2.9 1-3.5 1-4.3 1-5 1-5.9 1-6.6 1-7.5 1-8.3 1-9.1 1-9.7 1-10.5 1-10.9 1-11.5 1-11.8 1-12 1-12 1-12 1-11.7 1-11.4 1-10.8 1-10.1 1-9.3 1-8.3 1-7.2 1-5.9 1-4.7 1-3.3 1-1.9 1-.4 1 1 1 2.5 1 3.9 1 5.2 1 6.5 1 7.7 .9 8.7 1 9.6 1 10.4 1 11.1 1 11.5 1 11.9 1 12 1 12.1 1 11.9 1 11.7 1 11.2 1 10.8 1 10.2 1 9.4 1 8.8 1 7.9 1 7.2 1 6.3 1 5.5 1 4.7 1 4 1 3.2 1 2.6 1 2.1 1 1.6 1 1.1 1 .8 1 .5 1 .3 1 .2 1 .1 1 0 1 0 1 0 1 0 1 0 .9-.1 1-.1 1-.2 1-.4 1-.7 1-1 1-1.3 1-1.8 1-2.4 1-2.9 1-3.7 1-4.3 1-5.2 1-5.9 1-6.8 1-7.5 1-8.4 1-9.1 1-9.9 1-10.5 1-11 1-11.5 1-11.8 1-12 1-12.1 1-11.9 1-11.8 1-11.3 1-10.7 1-10 1-9.2 1-8.2 1-7 1-5.8 1-4.6 1-3.1 1-1.7 .9-.3 1 1.2 1 2.7 1 4 1 5.4 1 6.6 1 7.8 1 8.8 1 9.8 1 10.5 1 11.1 1 11.6 1 11.9 1 12 1 12.1 1 11.9 1 11.6 1 11.2 1 10.7 1 10.1 1 9.4 1 8.6 1 7.9 1 7 1 6.2 1 5.4 1 4.7 1 3.9 1 3.1 1 2.6 1 2 1 1.5 1 1.1 1 .8 1 .5 1 .2 1 .2 .9 .1 1 0 1 0 1 0 1 0 1 0 1-.1 1-.1 1-.3 1-.4 1-.7 1-1 1-1.4 1-1.9 1-2.4 1-3 1-3.7 1-4.5 1-5.2 1-6 1-6.9 1-7.6 1-8.5 1-9.2 1-9.9 1-10.6 1-11.1 1-11.5 1-11.9 1-12 1-12 1-12 1-11.7 1-11.2 1-10.7 1-9.9 1-9.1 .9-8 1-6.9 1-5.7 1-4.4 1-3 1-1.5 1-.1 1 1.4 1 2.8 1 4.2 1 5.5 1 6.7 1 8 1 8.9 1 9.8 1 10.6 1 11.2 1 11.6 1 11.9 1 12.1 1 12 1 11.9 1 11.6 1 11.1 1 10.7 1 10 1 9.3 1 8.5 1 7.8 1 7 1 6.1 1 5.3 1 4.5 1 3.9 1 3.1 1 2.5 .9 1.9 1 1.5 1 1 1 .7 1 .5 1 .3 1 .1 1 .1 1 0 1 0 1 0 1 0 1 0 1-.1 1-.1 1-.3 1-.5 1-.7 1-1 1-1.5 1-1.9 1-2.5 1-3.1 1-3.8 1-4.5 1-5.3 1-6.2 1-6.9 1-7.8 1-8.5 1-9.3 1-10 1-10.6 1-11.2 1-11.6 1-11.8 1-12.1 .9-12 1-11.9 1-11.7 1-11.2 1-10.5 1-9.9 1-8.9 1-8 1-6.7 1-5.6 1-4.2 1-2.8 1-1.4 1 .1 1 1.5 1 3 1 4.3 1 5.7 1 6.9 1 8 1 9.1 1 9.9 1 10.6 1 11.3 1 11.7 1 11.9 1 12.1 1 12 1 11.8 1 11.6 1 11.1 1 10.5 1 10 1 9.2 1 8.5 1 7.6 1 6.9 .9 6 1 5.3 1 4.4 1 3.7 1 3.1 1 2.4 1 1.9 1 1.4 1 1 1 .7 1 .4 1 .3 1 .1 1 .1 1 0 1 0 1 0 1 0 1 0" stroke="#e51e10" stroke-width="9.0"/>
<path d="M387.0 996.0l1 0 1 0 1 0 1-.1 1-.2 1-.4 1-.6 1-.9 1-1.2 1-1.7 1-2.2 1-2.8 1-3.4 1-4.2 1-4.9 1-5.7 1-6.6 1-7.3 .9-8.2 1-8.9 1-9.7 1-10.3 1-10.9 1-11.4 1-11.7 1-12 1-12.1 1-12 1-11.8 1-11.4 1-10.9 1-10.2 1-9.4 1-8.5 1-7.3 1-6.2 1-4.9 1-3.5 1-2.1 1-.6 1 .8 1 2.2 1 3.7 1 5 1 6.3 1 7.5 1 8.6 1 9.5 1 10.3 1 11 1 11.5 1 11.8 1 12 1 12.1 1 11.9 .9 11.7 1 11.3 1 10.9 1 10.2 1 9.6 1 8.9 1 8 1 7.3 1 6.5 1 5.6 1 4.8 1 4.1 1 3.4 1 2.7 1 2.1 1 1.7 1 1.2 1 .8 1 .5 1 .4 1 .2 1 .1 1 0 1 0 1 0 1 0 1 0 1-.1 1-.1 1-.2 1-.4 1-.6 1-.9 1-1.3 1-1.7 1-2.3 1-2.8 .9-3.6 1-4.2 1-5 1-5.8 1-6.7 1-7.4 1-8.3 1-9 1-9.7 1-10.4 1-11 1-11.4 1-11.8 1-12 1-12 1-12 1-11.8 1-11.4 1-10.8 1-10.1 1-9.3 1-8.4 1-7.2 1-6 1-4.8 1-3.3 1-1.9 1-.5 1 .9 1 2.5 1 3.8 1 5.2 1 6.4 1 7.6 1 8.7 1 9.6 .9 10.4 1 11.1 1 11.5 1 11.8 1 12.1 1 12 1 11.9 1 11.7 1 11.3 1 10.8 1 10.2 1 9.5 1 8.7 1 8 1 7.2 1 6.3 1 5.6 1 4.7 1 4 1 3.3 1 2.7 1 2 1 1.6 1 1.2 1 .8 1 .5 1 .3 1 .2 1 .1 1 0 1 0 1 0 1 0 1 0 1-.1 1-.1 1-.2 .9-.4 1-.7 1-.9 1-1.3 1-1.8 1-2.4 1-2.9 1-3.6 1-4.3 1-5.1 1-5.9 1-6.8 1-7.5 1-8.3 1-9.2 1-9.8 1-10.4 1-11.1 1-11.4 1-11.8 1-12 1-12.1 1-12 1-11.7 1-11.3 1-10.8 1-10 1-9.2 1-8.3 1-7.1 1-5.8 1-4.6 1-3.2 1-1.8 1-.3 1 1.2 1 2.5 .9 4 1 5.3 1 6.6 1 7.8 1 8.8 1 9.7 1 10.4 1 11.1 1 11.6 1 11.9 1 12 1 12.1 1 11.9 1 11.6 1 11.2 1 10.8 1 10.1 1 9.4 1 8.7 1 7.9 1 7 1 6.3 1 5.4 1 4.7 1 3.9 1 3.2 1 2.6 1 2 1 1.6 1 1.1 1 .7 1 .5 1 .3 1 .2 1 .1 1 0 1 0 .9 0 1 0 1 0 1-.1 1-.1 1-.2 1-.5 1-.7 1-.9 1-1.4 1-1.9 1-2.4 1-3 1-3.7 1-4.4 1-5.2 1-6 1-6.8 1-7.6 1-8.4 1-9.2 1-9.9 1-10.6 1-11 1-11.6 1-11.8 1-12 1-12.1 1-11.9 1-11.7 1-11.3 1-10.7 1-9.9 1-9.1 1-8.1 1-7 .9-5.7 1-4.4 1-3.1 1-1.6 1-.1 1 1.3 1 2.7 1 4.2 1 5.4 1 6.7 1 7.9 1 8.9 1 9.8 1 10.6 1 11.1 1 11.6 1 12 1 12 1 12 1 11.9 1 11.6 1 11.2 1 10.6 1 10.1 1 9.3 1 8.6 1 7.8 1 7 1 6.2 1 5.3 1 4.6 1 3.8 1 3.2 1 2.5 1 1.9 1 1.5 1 1.1 .9 .7 1 .5 1 .3 1 .1 1 .1 1 0 1 0 1 0 1 0 1 0 1-.1 1-.1 1-.3 1-.4 1-.7 1-1.1 1-1.4 1-1.9 1-2.5 1-3.1 1-3.7 1-4.5 1-5.3 1-6.1 1-6.9 1-7.7 1-8.5 1-9.3 1-10 1-10.6 1-11.1 1-11.6 1-11.8 1-12.1 1-12 1-12 1-11.6 .9-11.2 1-10.6 1-9.9 1-9 1-8 1-6.8 1-5.6 1-4.3 1-2.8 1-1.5 1 0 1 1.5 1 2.9 1 4.3 1 5.6 1 6.9 1 8 1 9 1 9.9 1 10.6 1 11.2 1 11.7 1 11.9 1 12.1 1 12 1 11.9 1 11.5 1 11.1 1 10.6 1 10 1 9.2 1 8.5 1 7.7 1 6.9 1 6.1 1 5.3 1 4.5 .9 3.7 1 3.1 1 2.4 1 1.9 1 1.4 1 1.1 1 .7 1 .4 1 .3 1 .1 1 .1 1 0 1 0 1 0 1 0 1 0 1-.1 1-.1 1-.3 1-.5 1-.7 1-1.1 1-1.5 1-2 1-2.5 1-3.2 1-3.8 1-4.6 1-5.4 1-6.1 1-7 1-7.9 1-8.6 1-9.3 1-10.1 1-10.6 1-11.2 .9-11.6 1-11.9 1-12 1-12.1 1-11.9 1-11.6 1-11.2 1-10.5 1-9.8 1-8.9 1-7.8 1-6.7 1-5.4 1-4.2 1-2.7 1-1.2 1 .1 1 1.7 1 3 1 4.5 1 5.7 1 7 1 8.1 1 9.2 1 9.9 1 10.7 1 11.3 1 11.7 1 12 1 12 1 12.1 1 11.8 1 11.5 1 11.1 1 10.5 1 9.9 1 9.1 .9 8.4 1 7.7 1 6.8 1 5.9 1 5.2 1 4.4 1 3.7 1 3 1 2.4 1 1.8 1 1.4 1 1 1 .6 1 .5 1 .2 1 .1 1 .1 1 0 1 0 1 0 1 0 1 0 1-.1 1-.2 1-.3 1-.5 1-.7 1-1.2 1-1.5 1-2 1-2.6 1-3.3 1-3.9 1-4.7 1-5.4 1-6.3 .9-7.1 1-7.9 1-8.7 1-9.4 1-10.1 1-10.8 1-11.2 1-11.6 1-12 1-12 1-12 1-11.9 1-11.6 1-11.1 1-10.4 1-9.7 1-8.8 1-7.7 1-6.6 1-5.3 1-3.9 1-2.6 1-1.1 1 .3 1 1.8 1 3.3 1 4.6 1 5.9 1 7.1 1 8.2 1 9.3 1 10 1 10.8 1 11.3 1 11.8 1 11.9 1 12.1 .9 12 1 11.8 1 11.5 1 11 1 10.4 1 9.8 1 9.1 1 8.4 1 7.5 1 6.7 1 5.9 1 5 1 4.4 1 3.6 1 2.9 1 2.3 1 1.8 1 1.3 1 1 1 .6 1 .4 1 .2 1 .1 1 .1 1 0 1 0 1 0 1 0 1 0 1-.1 1-.2 1-.3 1-.5 1-.9 1-1.1 1-1.6 1-2.1 .9-2.7 1-3.3 1-4 1-4.7 1-5.6 1-6.4 1-7.1 1-8 1-8.8 1-9.5 1-10.2 1-10.8 1-11.3 1-11.7 1-11.9 1-12.1 1-12 1-11.9 1-11.5 1-11 1-10.4 1-9.6 1-8.6 1-7.6 1-6.4 1-5.2 1-3.8 1-2.4 1-.9 1 .5 1 1.9 1 3.4 1 4.8 1 6 1 7.3 1 8.3 1 9.4 .9 10.1 1 10.9 1 11.3 1 11.8 1 12 1 12.1 1 12 1 11.7 1 11.4 1 11 1 10.4 1 9.7 1 9 1 8.2 1 7.5 1 6.6 1 5.8 1 5 1 4.2 1 3.5 1 2.9 1 2.2 1 1.8 1 1.2 1 .9 1 .7 1 .3 1 .2 1 .1 1 .1 1 0 1 0 1 0 1 0 1 0 1-.1 .9-.2 1-.4 1-.5 1-.9 1-1.2 1-1.6 1-2.2 1-2.7 1-3.4 1-4.1 1-4.8 1-5.7 1-6.4 1-7.3 1-8.1 1-8.9 1-9.6 1-10.2 1-10.9 1-11.3 1-11.7 1-12 1-12 1-12.1 1-11.8 1-11.4 1-11 1-10.3 1-9.5 1-8.5 1-7.5 1-6.3 1-5 1-3.6 1-2.3 1-.7 1 .6 .9 2.2 1 3.5 1 4.9 1 6.2 1 7.4 1 8.4 1 9.5 1 10.2 1 10.9 1 11.5 1 11.8 1 12 1 12 1 12 1 11.7 1 11.4 1 10.9 1 10.3 1 9.7 1 8.9 1 8.1 1 7.4 1 6.5 1 5.7 1 4.9 1 4.1 1 3.5 1 2.8 1 2.1 1 1.7 1 1.3 1 .8 1 .6 1 .4 1 .2 1 .1 1 0 .9 0 1 0 1 0 1 0 1 0 1-.1 1-.2 1-.4 1-.6 1-.9 1-1.2 1-1.7 1-2.2 1-2.9 1-3.4 1-4.2 1-4.9 1-5.8 1-6.5 1-7.4 1-8.2 1-8.9 1-9.7 1-10.3 1-10.9 1-11.4 1-11.8 1-11.9 1-12.1 1-12 1-11.8 1-11.4 1-10.9 1-10.2 1-9.4 1-8.4 1-7.4 .9-6.1 1-4.9 1-3.5 1-2 1-.6 1 .8 1 2.3 1 3.7 1 5 1 6.4 1 7.5 1 8.6 1 9.5 1 10.3 1 11 1 11.5 1 11.8 1 12 1 12.1 1 11.9 1 11.7 1 11.4 1 10.8 1 10.2 1 9.6 1 8.8 1 8.1 1 7.2 1 6.5 1 5.6 1 4.8 1 4.1 1 3.3 1 2.7 1 2.2 1 1.6 1 1.2 .9 .8 1 .6 1 .3 1 .2 1 .1 1 0 1 0 1 0 1 0 1 0 1-.1 1-.1 1-.2 1-.4 1-.6 1-.9 1-1.3 1-1.8 1-2.2 1-2.9 1-3.5 1-4.3 1-5 1-5.9 1-6.6 1-7.5 1-8.2 1-9.1 1-9.7 1-10.4 1-11 1-11.4 1-11.8 1-12 1-12.1 1-12 1-11.7 .9-11.4 1-10.8 1-10.1 1-9.3 1-8.3 1-7.2 1-6 1-4.7 1-3.4 1-1.9 1-.4 1 1 1 2.4 1 3.9 1 5.2 1 6.5 1 7.6 1 8.7 1 9.6 1 10.4 1 11.1 1 11.5 1 11.9 1 12 1 12.1 1 11.9 1 11.6 1 11.3 1 10.8 1 10.2 1 9.4 1 8.8 1 8 1 7.1 1 6.3 1 5.6 .9 4.7 1 4 1 3.3 1 2.6 1 2.1 1 1.5 1 1.2 1 .8 1 .5 1 .3 1 .2 1 .1 1 0 1 0 1 0 1 0 1 0 1-.1 1-.1 1-.2 1-.4 1-.7 1-.9 1-1.4 1-1.8 1-2.3 1-3 1-3.6 1-4.3 1-5.2 1-5.9 1-6.7 1-7.6 1-8.3 1-9.1 1-9.9 1-10.5 .9-11 1-11.5 1-11.8 1-12 1-12 1-12 1-11.7 1-11.3 1-10.8 1-10 1-9.2 1-8.2 1-7.1 1-5.8 1-4.6 1-3.2 1-1.7 1-.3 1 1.2 1 2.6 1 4 1 5.4 1 6.6 1 7.7 1 8.8 1 9.8 1 10.5 1 11.1 1 11.5 1 11.9 1 12.1 1 12 1 11.9 1 11.6 1 11.3 1 10.7 1 10.1 .9 9.4 1 8.6 1 7.9 1 7.1 1 6.2 1 5.4 1 4.7 1 3.9 1 3.2 1 2.6 1 2 1 1.5 1 1.1 1 .8 1 .4 1 .3 1 .2 1 .1 1 0 1 0 1 0 1 0 1 0 1-.1 1-.1 1-.3 1-.4 1-.7 1-1 1-1.4 1-1.8 1-2.4 1-3.1 1-3.6 1-4.5 1-5.2 1-6 .9-6.8 1-7.7 1-8.4 1-9.2 1-9.9 1-10.6 1-11.1 1-11.5 1-11.8 1-12 1-12.1 1-12 1-11.6 1-11.3 1-10.7 1-9.9 1-9.1 1-8.1 1-6.9 1-5.7 1-4.4 1-3 1-1.6 1-.1 1 1.3 1 2.8 1 4.2 1 5.5 1 6.7 1 7.9 1 8.9 1 9.8 1 10.6 1 11.2 1 11.6 1 11.9 .9 12 1 12.1 1 11.9 1 11.5 1 11.2 1 10.6 1 10.1 1 9.3 1 8.6 1 7.8 1 6.9 1 6.2 1 5.3 1 4.6 1 3.8 1 3.1 1 2.5 1 2 1 1.4 1 1.1 1 .7 1 .5 1 .3 1 .1 1 .1 1 0 1 0 1 0 1 0 1 0 1-.1 1-.1 1-.3 1-.5 1-.7 1-1 1-1.4 .9-2 1-2.4 1-3.1 1-3.8 1-4.5 1-5.3 1-6.1 1-7 1-7.7 1-8.5 1-9.3 1-10 1-10.6 1-11.2 1-11.5 1-11.9 1-12 1-12.1 1-11.9 1-11.6 1-11.2 1-10.6 1-9.9 1-9 1-7.9 1-6.8 1-5.6 1-4.2 1-2.9 1-1.4 1 .1 1 1.5 1 2.9 1 4.3 1 5.7 1 6.8 1 8 .9 9.1 1 9.9 1 10.6 1 11.3 1 11.6 1 12 1 12 1 12 1 11.9 1 11.5 1 11.1 1 10.6 1 10 1 9.2 1 8.5 1 7.7 1 6.9 1 6 1 5.3 1 4.4 1 3.8 1 3 1 2.5 1 1.9 1 1.4 1 1 1 .7 1 .4 1 .3 1 .1 1 .1 1 0 1 0 1 0 1 0 1 0 1-.1 .9-.1 1-.3 1-.5 1-.8 1-1 1-1.5 1-2 1-2.6 1-3.1 1-3.9 1-4.6 1-5.4 1-6.2 1-7 1-7.8 1-8.6 1-9.4 1-10.1 1-10.7 1-11.1 1-11.6 1-11.9 1-12.1 1-12 1-11.9 1-11.6 1-11.2 1-10.5 1-9.8 1-8.8 1-7.8 1-6.7 1-5.4 1-4.1 1-2.7 1-1.3 1 .3 .9 1.6 1 3.1 1 4.5 1 5.8 1 7 1 8.1 1 9.2 1 10 1 10.7 1 11.3 1 11.7 1 11.9 1 12.1 1 12 1 11.8 1 11.5 1 11.1 1 10.5 1 9.8 1 9.2 1 8.4 1 7.6 1 6.8 1 5.9 1 5.2 1 4.4 1 3.6 1 3 1 2.4 1 1.8 1 1.4 1 1 1 .6 1 .5 1 .2 1 .1 1 .1 .9 0 1 0 1 0 1 0 1 0 1-.1 1-.2 1-.3 1-.5 1-.8 1-1.1 1-1.5 1-2.1 1-2.6 1-3.2 1-4 1-4.7 1-5.4 1-6.3 1-7.1 1-8 1-8.7 1-9.4 1-10.2 1-10.7 1-11.2 1-11.7 1-11.9 1-12 1-12.1 1-11.9 1-11.5 1-11.1 1-10.4 1-9.7 1-8.8 .9-7.7 1-6.5 1-5.3 1-3.9 1-2.5 1-1.1 1 .4 1 1.8 1 3.2 1 4.7 1 5.9 1 7.2 1 8.2 1 9.2 1 10.1 1 10.8 1 11.4 1 11.7 1 12 1 12 1 12 1 11.8 1 11.5 1 11 1 10.4 1 9.8 1 9.1 1 8.3 1 7.5 1 6.7 1 5.9 1 5 1 4.3 1 3.6 1 2.9 1 2.3 1 1.8 .9 1.3 1 1 1 .6 1 .4 1 .2 1 .1 1 .1 1 0 1 0 1 0 1 0 1 0 1-.1 1-.2 1-.3 1-.6 1-.8 1-1.1 1-1.6 1-2.1 1-2.7 1-3.3 1-4.1 1-4.7 1-5.6 1-6.4 1-7.2 1-8 1-8.8 1-9.5 1-10.2 1-10.8 1-11.3 1-11.7 1-12 1-12 1-12 .9-11.9 1-11.5 1-11 1-10.4 1-9.6 1-8.6 1-7.6 1-6.4 1-5.1 1-3.8 1-2.3 1-.9 1 .5 1 2 1 3.4 1 4.8 1 6.1 1 7.2 1 8.4 1 9.3 1 10.2 1 10.9 1 11.4 1 11.8 1 11.9 1 12.1 1 12 1 11.8 1 11.4 1 10.9 1 10.4 1 9.7 1 9 1 8.2 1 7.4 1 6.6 1 5.8 .9 5 1 4.2 1 3.5 1 2.8 1 2.3 1 1.7 1 1.3 1 .9 1 .6 1 .3 1 .2 1 .2 1 0 1 0 1 0 1 0 1 0 1 0 1-.1 1-.2 1-.4 1-.5 1-.9 1-1.2 1-1.7 1-2.1 1-2.8 1-3.4 1-4.1 1-4.8 1-5.7 1-6.5 1-7.3 1-8.1 1-8.8 1-9.7 .9-10.2 1-10.9 1-11.4 1-11.7 1-11.9 1-12.1 1-12 1-11.8 1-11.5 1-10.9 1-10.3 1-9.5 1-8.5 1-7.4 1-6.3 1-5 1-3.6 1-2.2 1-.7 1 .7 1 2.1 1 3.6 1 4.9 1 6.2 1 7.4 1 8.5 1 9.5 1 10.2 1 11 1 11.4 1 11.8 1 12 1 12.1 1 11.9 1 11.8 1 11.3 1 10.9 .9 10.3 1 9.6 1 9 1 8.1 1 7.3 1 6.5 1 5.7 1 4.9 1 4.1 1 3.4 1 2.8 1 2.2 1 1.6 1 1.3 1 .8 1 .6 1 .4 1 .2 1 .1 1 0 1 0 1 0 1 0 1 0 1 0 1-.1 1-.3 1-.3 1-.6 1-.9 1-1.3 1-1.7 1-2.2 1-2.8 1-3.5 1-4.2 1-4.9 .9-5.8 1-6.6 1-7.3 1-8.2 1-9 1-9.7 1-10.3 1-11 1-11.4 1-11.7 1-12 1-12.1 1-12 1-11.7 1-11.4 1-10.9 1-10.2 1-9.4 1-8.4 1-7.3 1-6.1 1-4.9 1-3.4 1-2.1 1-.5 1 .8 1 2.3 1 3.8 1 5.1 1 6.3 1 7.5 1 8.6 1 9.6 1 10.3 1 11 1 11.5 1 11.9 .9 12 1 12 1 12 1 11.7 1 11.3 1 10.8 1 10.2 1 9.6 1 8.8 1 8.1 1 7.2 1 6.4 1 5.6 1 4.8 1 4 1 3.4 1 2.7 1 2.1 1 1.6 1 1.2 1 .8 1 .6 1 .3 1 .2 1 .1 1 0 1 0 1 0 1 0 1 0 1-.1 1-.1 1-.2 1-.4 1-.6 1-.9 1-1.3 .9-1.8 1-2.3 1-2.9 1-3.5 1-4.3 1-5 1-5.9 1-6.6 1-7.5 1-8.3 1-9.1 1-9.7 1-10.5 1-10.9 1-11.5 1-11.8 1-12 1-12 1-12 1-11.7 1-11.4 1-10.8 1-10.1 1-9.3 1-8.3 1-7.2 1-5.9 1-4.7 1-3.3 1-1.9 1-.4 1 1 1 2.5 1 3.9 1 5.2 1 6.5 1 7.7 .9 8.7 1 9.6 1 10.4 1 11.1 1 11.5 1 11.9 1 12 1 12.1 1 11.9 1 11.7 1 11.2 1 10.8 1 10.2 1 9.4 1 8.8 1 7.9 1 7.2 1 6.3 1 5.5 1 4.7 1 4 1 3.2 1 2.6 1 2.1 1 1.6 1 1.1 1 .8 1 .5 1 .3 1 .2 1 .1 1 0 1 0 1 0 1 0 1 0 .9-.1 1-.1 1-.2 1-.4 1-.7 1-1 1-1.3 1-1.8 1-2.4 1-2.9 1-3.7 1-4.3 1-5.2 1-5.9 1-6.8 1-7.5 1-8.4 1-9.1 1-9.9 1-10.5 1-11 1-11.5 1-11.8 1-12 1-12.1 1-11.9 1-11.8 1-11.3 1-10.7 1-10 1-9.2 1-8.2 1-7 1-5.8 1-4.6 1-3.1 1-1.7 .9-.3 1 1.2 1 2.7 1 4 1 5.4 1 6.6 1 7.8 1 8.8 1 9.8 1 10.5 1 11.1 1 11.6 1 11.9 1 12 1 12.1 1 11.9 1 11.6 1 11.2 1 10.7 1 10.1 1 9.4 1 8.6 1 7.9 1 7 1 6.2 1 5.4 1 4.7 1 3.9 1 3.1 1 2.6 1 2 1 1.5 1 1.1 1 .8 1 .5 1 .2 1 .2 .9 .1 1 0 1 0 1 0 1 0 1 0 1-.1 1-.1 1-.3 1-.4 1-.7 1-1 1-1.4 1-1.9 1-2.4 1-3 1-3.7 1-4.5 1-5.2 1-6 1-6.9 1-7.6 1-8.5 1-9.2 1-9.9 1-10.6 1-11.1 1-11.5 1-11.9 1-12 1-12 1-12 1-11.7 1-11.2 1-10.7 1-9.9 1-9.1 .9-8 1-6.9 1-5.7 1-4.4 1-3 1-1.5 1-.1 1 1.4 1 2.8 1 4.2 1 5.5 1 6.7 1 8 1 8.9 1 9.8 1 10.6 1 11.2 1 11.6 1 11.9 1 12.1 1 12 1 11.9 1 11.6 1 11.1 1 10.7 1 10 1 9.3 1 8.5 1 7.8 1 7 1 6.1 1 5.3 1 4.5 1 3.9 1 3.1 1 2.5 .9 1.9 1 1.5 1 1 1 .7 1 .5 1 .3 1 .1 1 .1 1 0 1 0 1 0 1 0 1 0 1-.1 1-.1 1-.3 1-.5 1-.7 1-1 1-1.5 1-1.9 1-2.5 1-3.1 1-3.8 1-4.5 1-5.3 1-6.2 1-6.9 1-7.8 1-8.5 1-9.3 1-10 1-10.6 1-11.2 1-11.6 1-11.8 1-12.1 .9-12 1-11.9 1-11.7 1-11.2 1-10.5 1-9.9 1-8.9 1-8 1-6.7 1-5.6 1-4.2 1-2.8 1-1.4 1 .1 1 1.5 1 3 1 4.3 1 5.7 1 6.9 1 8 1 9.1 1 9.9 1 10.6 1 11.3 1 11.7 1 11.9 1 12.1 1 12 1 11.8 1 11.6 1 11.1 1 10.5 1 10 1 9.2 1 8.5 1 7.6 1 6.9 .9 6 1 5.3 1 4.4 1 3.7 1 3.1 1 2.4 1 1.9 1 1.4 1 1 1 .7 1 .4 1 .3 1 .1 1 .1 1 0 1 0 1 0 1 0 1 0" stroke="#9400d3" stroke-width="7.0"/>
<path d="M387.0 996.0l1 0 1 0 1 0 1-.1 1-.2 1-.4 1-.6 1-.9 1-1.2 1-1.7 1-2.2 1-2.8 1-3.4 1-4.2 1-4.9 1-5.7 1-6.6 1-7.3 .9-8.2 1-8.9 1-9.7 1-10.3 1-10.9 1-11.4 1-11.7 1-12 1-12.1 1-12 1-11.8 1-11.4 1-10.9 1-10.2 1-9.4 1-8.5 1-7.3 1-6.2 1-4.9 1-3.5 1-2.1 1-.6 1 .8 1 2.2 1 3.7 1 5 1 6.3 1 7.5 1 8.6 1 9.5 1 10.3 1 11 1 11.5 1 11.8 1 12 1 12.1 1 11.9 .9 11.7 1 11.3 1 10.9 1 10.2 1 9.6 1 8.9 1 8 1 7.3 1 6.5 1 5.6 1 4.8 1 4.1 1 3.4 1 2.7 1 2.1 1 1.7 1 1.2 1 .8 1 .5 1 .4 1 .2 1 .1 1 0 1 0 1 0 1 0 1 0 1-.1 1-.1 1-.2 1-.4 1-.6 1-.9 1-1.3 1-1.7 1-2.3 1-2.8 .9-3.6 1-4.2 1-5 1-5.8 1-6.7 1-7.4 1-8.3 1-9 1-9.7 1-10.4 1-11 1-11.4 1-11.8 1-12 1-12 1-12 1-11.8 1-11.4 1-10.8 1-10.1 1-9.3 1-8.4 1-7.2 1-6 1-4.8 1-3.3 1-1.9 1-.5 1 .9 1 2.5 1 3.8 1 5.2 1 6.4 1 7.6 1 8.7 1 9.6 .9 10.4 1 11.1 1 11.5 1 11.8 1 12.1 1 12 1 11.9 1 11.7 1 11.3 1 10.8 1 10.2 1 9.5 1 8.7 1 8 1 7.2 1 6.3 1 5.6 1 4.7 1 4 1 3.3 1 2.7 1 2 1 1.6 1 1.2 1 .8 1 .5 1 .3 1 .2 1 .1 1 0 1 0 1 0 1 0 1 0 1-.1 1-.1 1-.2 .9-.4 1-.7 1-.9 1-1.3 1-1.8 1-2.4 1-2.9 1-3.6 1-4.3 1-5.1 1-5.9 1-6.8 1-7.5 1-8.3 1-9.2 1-9.8 1-10.4 1-11.1 1-11.4 1-11.8 1-12 1-12.1 1-12 1-11.7 1-11.3 1-10.8 1-10 1-9.2 1-8.3 1-7.1 1-5.8 1-4.6 1-3.2 1-1.8 1-.3 1 1.2 1 2.5 .9 4 1 5.3 1 6.6 1 7.8 1 8.8 1 9.7 1 10.4 1 11.1 1 11.6 1 11.9 1 12 1 12.1 1 11.9 1 11.6 1 11.2 1 10.8 1 10.1 1 9.4 1 8.7 1 7.9 1 7 1 6.3 1 5.4 1 4.7 1 3.9 1 3.2 1 2.6 1 2 1 1.6 1 1.1 1 .7 1 .5 1 .3 1 .2 1 .1 1 0 1 0 .9 0 1 0 1 0 1-.1 1-.1 1-.2 1-.5 1-.7 1-.9 1-1.4 1-1.9 1-2.4 1-3 1-3.7 1-4.4 1-5.2 1-6 1-6.8 1-7.6 1-8.4 1-9.2 1-9.9 1-10.6 1-11 1-11.6 1-11.8 1-12 1-12.1 1-11.9 1-11.7 1-11.3 1-10.7 1-9.9 1-9.1 1-8.1 1-7 .9-5.7 1-4.4 1-3.1 1-1.6 1-.1 1 1.3 1 2.7 1 4.2 1 5.4 1 6.7 1 7.9 1 8.9 1 9.8 1 10.6 1 11.1 1 11.6 1 12 1 12 1 12 1 11.9 1 11.6 1 11.2 1 10.6 1 10.1 1 9.3 1 8.6 1 7.8 1 7 1 6.2 1 5.3 1 4.6 1 3.8 1 3.2 1 2.5 1 1.9 1 1.5 1 1.1 .9 .7 1 .5 1 .3 1 .1 1 .1 1 0 1 0 1 0 1 0 1 0 1-.1 1-.1 1-.3 1-.4 1-.7 1-1.1 1-1.4 1-1.9 1-2.5 1-3.1 1-3.7 1-4.5 1-5.3 1-6.1 1-6.9 1-7.7 1-8.5 1-9.3 1-10 1-10.6 1-11.1 1-11.6 1-11.8 1-12.1 1-12 1-12 1-11.6 .9-11.2 1-10.6 1-9.9 1-9 1-8 1-6.8 1-5.6 1-4.3 1-2.8 1-1.5 1 0 1 1.5 1 2.9 1 4.3 1 5.6 1 6.9 1 8 1 9 1 9.9 1 10.6 1 11.2 1 11.7 1 11.9 1 12.1 1 12 1 11.9 1 11.5 1 11.1 1 10.6 1 10 1 9.2 1 8.5 1 7.7 1 6.9 1 6.1 1 5.3 1 4.5 .9 3.7 1 3.1 1 2.4 1 1.9 1 1.4 1 1.1 1 .7 1 .4 1 .3 1 .1 1 .1 1 0 1 0 1 0 1 0 1 0 1-.1 1-.1 1-.3 1-.5 1-.7 1-1.1 1-1.5 1-2 1-2.5 1-3.2 1-3.8 1-4.6 1-5.4 1-6.1 1-7 1-7.9 1-8.6 1-9.3 1-10.1 1-10.6 1-11.2 .9-11.6 1-11.9 1-12 1-12.1 1-11.9 1-11.6 1-11.2 1-10.5 1-9.8 1-8.9 1-7.8 1-6.7 1-5.4 1-4.2 1-2.7 1-1.2 1 .1 1 1.7 1 3 1 4.5 1 5.7 1 7 1 8.1 1 9.2 1 9.9 1 10.7 1 11.3 1 11.7 1 12 1 12 1 12.1 1 11.8 1 11.5 1 11.1 1 10.5 1 9.9 1 9.1 .9 8.4 1 7.7 1 6.8 1 5.9 1 5.2 1 4.4 1 3.7 1 3 1 2.4 1 1.8 1 1.4 1 1 1 .6 1 .5 1 .2 1 .1 1 .1 1 0 1 0 1 0 1 0 1 0 1-.1 1-.2 1-.3 1-.5 1-.7 1-1.2 1-1.5 1-2 1-2.6 1-3.3 1-3.9 1-4.7 1-5.4 1-6.3 .9-7.1 1-7.9 1-8.7 1-9.4 1-10.1 1-10.8 1-11.2 1-11.6 1-12 1-12 1-12 1-11.9 1-11.6 1-11.1 1-10.4 1-9.7 1-8.8 1-7.7 1-6.6 1-5.3 1-3.9 1-2.6 1-1.1 1 .3 1 1.8 1 3.3 1 4.6 1 5.9 1 7.1 1 8.2 1 9.3 1 10 1 10.8 1 11.3 1 11.8 1 11.9 1 12.1 .9 12 1 11.8 1 11.5 1 11 1 10.4 1 9.8 1 9.1 1 8.4 1 7.5 1 6.7 1 5.9 1 5 1 4.4 1 3.6 1 2.9 1 2.3 1 1.8 1 1.3 1 1 1 .6 1 .4 1 .2 1 .1 1 .1 1 0 1 0 1 0 1 0 1 0 1-.1 1-.2 1-.3 1-.5 1-.9 1-1.1 1-1.6 1-2.1 .9-2.7 1-3.3 1-4 1-4.7 1-5.6 1-6.4 1-7.1 1-8 1-8.8 1-9.5 1-10.2 1-10.8 1-11.3 1-11.7 1-11.9 1-12.1 1-12 1-11.9 1-11.5 1-11 1-10.4 1-9.6 1-8.6 1-7.6 1-6.4 1-5.2 1-3.8 1-2.4 1-.9 1 .5 1 1.9 1 3.4 1 4.8 1 6 1 7.3 1 8.3 1 9.4 .9 10.1 1 10.9 1 11.3 1 11.8 1 12 1 12.1 1 12 1 11.7 1 11.4 1 11 1 10.4 1 9.7 1 9 1 8.2 1 7.5 1 6.6 1 5.8 1 5 1 4.2 1 3.5 1 2.9 1 2.2 1 1.8 1 1.2 1 .9 1 .7 1 .3 1 .2 1 .1 1 .1 1 0 1 0 1 0 1 0 1 0 1-.1 .9-.2 1-.4 1-.5 1-.9 1-1.2 1-1.6 1-2.2 1-2.7 1-3.4 1-4.1 1-4.8 1-5.7 1-6.4 1-7.3 1-8.1 1-8.9 1-9.6 1-10.2 1-10.9 1-11.3 1-11.7 1-12 1-12 1-12.1 1-11.8 1-11.4 1-11 1-10.3 1-9.5 1-8.5 1-7.5 1-6.3 1-5 1-3.6 1-2.3 1-.7 1 .6 .9 2.2 1 3.5 1 4.9 1 6.2 1 7.4 1 8.4 1 9.5 1 10.2 1 10.9 1 11.5 1 11.8 1 12 1 12 1 12 1 11.7 1 11.4 1 10.9 1 10.3 1 9.7 1 8.9 1 8.1 1 7.4 1 6.5 1 5.7 1 4.9 1 4.1 1 3.5 1 2.8 1 2.1 1 1.7 1 1.3 1 .8 1 .6 1 .4 1 .2 1 .1 1 0 .9 0 1 0 1 0 1 0 1 0 1-.1 1-.2 1-.4 1-.6 1-.9 1-1.2 1-1.7 1-2.2 1-2.9 1-3.4 1-4.2 1-4.9 1-5.8 1-6.5 1-7.4 1-8.2 1-8.9 1-9.7 1-10.3 1-10.9 1-11.4 1-11.8 1-11.9 1-12.1 1-12 1-11.8 1-11.4 1-10.9 1-10.2 1-9.4 1-8.4 1-7.4 .9-6.1 1-4.9 1-3.5 1-2 1-.6 1 .8 1 2.3 1 3.7 1 5 1 6.4 1 7.5 1 8.6 1 9.5 1 10.3 1 11 1 11.5 1 11.8 1 12 1 12.1 1 11.9 1 11.7 1 11.4 1 10.8 1 10.2 1 9.6 1 8.8 1 8.1 1 7.2 1 6.5 1 5.6 1 4.8 1 4.1 1 3.3 1 2.7 1 2.2 1 1.6 1 1.2 .9 .8 1 .6 1 .3 1 .2 1 .1 1 0 1 0 1 0 1 0 1 0 1-.1 1-.1 1-.2 1-.4 1-.6 1-.9 1-1.3 1-1.8 1-2.2 1-2.9 1-3.5 1-4.3 1-5 1-5.9 1-6.6 1-7.5 1-8.2 1-9.1 1-9.7 1-10.4 1-11 1-11.4 1-11.8 1-12 1-12.1 1-12 1-11.7 .9-11.4 1-10.8 1-10.1 1-9.3 1-8.3 1-7.2 1-6 1-4.7 1-3.4 1-1.9 1-.4 1 1 1 2.4 1 3.9 1 5.2 1 6.5 1 7.6 1 8.7 1 9.6 1 10.4 1 11.1 1 11.5 1 11.9 1 12 1 12.1 1 11.9 1 11.6 1 11.3 1 10.8 1 10.2 1 9.4 1 8.8 1 8 1 7.1 1 6.3 1 5.6 .9 4.7 1 4 1 3.3 1 2.6 1 2.1 1 1.5 1 1.2 1 .8 1 .5 1 .3 1 .2 1 .1 1 0 1 0 1 0 1 0 1 0 1-.1 1-.1 1-.2 1-.4 1-.7 1-.9 1-1.4 1-1.8 1-2.3 1-3 1-3.6 1-4.3 1-5.2 1-5.9 1-6.7 1-7.6 1-8.3 1-9.1 1-9.9 1-10.5 .9-11 1-11.5 1-11.8 1-12 1-12 1-12 1-11.7 1-11.3 1-10.8 1-10 1-9.2 1-8.2 1-7.1 1-5.8 1-4.6 1-3.2 1-1.7 1-.3 1 1.2 1 2.6 1 4 1 5.4 1 6.6 1 7.7 1 8.8 1 9.8 1 10.5 1 11.1 1 11.5 1 11.9 1 12.1 1 12 1 11.9 1 11.6 1 11.3 1 10.7 1 10.1 .9 9.4 1 8.6 1 7.9 1 7.1 1 6.2 1 5.4 1 4.7 1 3.9 1 3.2 1 2.6 1 2 1 1.5 1 1.1 1 .8 1 .4 1 .3 1 .2 1 .1 1 0 1 0 1 0 1 0 1 0 1-.1 1-.1 1-.3 1-.4 1-.7 1-1 1-1.4 1-1.8 1-2.4 1-3.1 1-3.6 1-4.5 1-5.2 1-6 .9-6.8 1-7.7 1-8.4 1-9.2 1-9.9 1-10.6 1-11.1 1-11.5 1-11.8 1-12 1-12.1 1-12 1-11.6 1-11.3 1-10.7 1-9.9 1-9.1 1-8.1 1-6.9 1-5.7 1-4.4 1-3 1-1.6 1-.1 1 1.3 1 2.8 1 4.2 1 5.5 1 6.7 1 7.9 1 8.9 1 9.8 1 10.6 1 11.2 1 11.6 1 11.9 .9 12 1 12.1 1 11.9 1 11.5 1 11.2 1 10.6 1 10.1 1 9.3 1 8.6 1 7.8 1 6.9 1 6.2 1 5.3 1 4.6 1 3.8 1 3.1 1 2.5 1 2 1 1.4 1 1.1 1 .7 1 .5 1 .3 1 .1 1 .1 1 0 1 0 1 0 1 0 1 0 1-.1 1-.1 1-.3 1-.5 1-.7 1-1 1-1.4 .9-2 1-2.4 1-3.1 1-3.8 1-4.5 1-5.3 1-6.1 1-7 1-7.7 1-8.5 1-9.3 1-10 1-10.6 1-11.2 1-11.5 1-11.9 1-12 1-12.1 1-11.9 1-11.6 1-11.2 1-10.6 1-9.9 1-9 1-7.9 1-6.8 1-5.6 1-4.2 1-2.9 1-1.4 1 .1 1 1.5 1 2.9 1 4.3 1 5.7 1 6.8 1 8 .9 9.1 1 9.9 1 10.6 1 11.3 1 11.6 1 12 1 12 1 12 1 11.9 1 11.5 1 11.1 1 10.6 1 10 1 9.2 1 8.5 1 7.7 1 6.9 1 6 1 5.3 1 4.4 1 3.8 1 3 1 2.5 1 1.9 1 1.4 1 1 1 .7 1 .4 1 .3 1 .1 1 .1 1 0 1 0 1 0 1 0 1 0 1-.1 .9-.1 1-.3 1-.5 1-.8 1-1 1-1.5 1-2 1-2.6 1-3.1 1-3.9 1-4.6 1-5.4 1-6.2 1-7 1-7.8 1-8.6 1-9.4 1-10.1 1-10.7 1-11.1 1-11.6 1-11.9 1-12.1 1-12 1-11.9 1-11.6 1-11.2 1-10.5 1-9.8 1-8.8 1-7.8 1-6.7 1-5.4 1-4.1 1-2.7 1-1.3 1 .3 .9 1.6 1 3.1 1 4.5 1 5.8 1 7 1 8.1 1 9.2 1 10 1 10.7 1 11.3 1 11.7 1 11.9 1 12.1 1 12 1 11.8 1 11.5 1 11.1 1 10.5 1 9.8 1 9.2 1 8.4 1 7.6 1 6.8 1 5.9 1 5.2 1 4.4 1 3.6 1 3 1 2.4 1 1.8 1 1.4 1 1 1 .6 1 .5 1 .2 1 .1 1 .1 .9 0 1 0 1 0 1 0 1 0 1-.1 1-.2 1-.3 1-.5 1-.8 1-1.1 1-1.5 1-2.1 1-2.6 1-3.2 1-4 1-4.7 1-5.4 1-6.3 1-7.1 1-8 1-8.7 1-9.4 1-10.2 1-10.7 1-11.2 1-11.7 1-11.9 1-12 1-12.1 1-11.9 1-11.5 1-11.1 1-10.4 1-9.7 1-8.8 .9-7.7 1-6.5 1-5.3 1-3.9 1-2.5 1-1.1 1 .4 1 1.8 1 3.2 1 4.7 1 5.9 1 7.2 1 8.2 1 9.2 1 10.1 1 10.8 1 11.4 1 11.7 1 12 1 12 1 12 1 11.8 1 11.5 1 11 1 10.4 1 9.8 1 9.1 1 8.3 1 7.5 1 6.7 1 5.9 1 5 1 4.3 1 3.6 1 2.9 1 2.3 1 1.8 .9 1.3 1 1 1 .6 1 .4 1 .2 1 .1 1 .1 1 0 1 0 1 0 1 0 1 0 1-.1 1-.2 1-.3 1-.6 1-.8 1-1.1 1-1.6 1-2.1 1-2.7 1-3.3 1-4.1 1-4.7 1-5.6 1-6.4 1-7.2 1-8 1-8.8 1-9.5 1-10.2 1-10.8 1-11.3 1-11.7 1-12 1-12 1-12 .9-11.9 1-11.5 1-11 1-10.4 1-9.6 1-8.6 1-7.6 1-6.4 1-5.1 1-3.8 1-2.3 1-.9 1 .5 1 2 1 3.4 1 4.8 1 6.1 1 7.2 1 8.4 1 9.3 1 10.2 1 10.9 1 11.4 1 11.8 1 11.9 1 12.1 1 12 1 11.8 1 11.4 1 10.9 1 10.4 1 9.7 1 9 1 8.2 1 7.4 1 6.6 1 5.8 .9 5 1 4.2 1 3.5 1 2.8 1 2.3 1 1.7 1 1.3 1 .9 1 .6 1 .3 1 .2 1 .2 1 0 1 0 1 0 1 0 1 0 1 0 1-.1 1-.2 1-.4 1-.5 1-.9 1-1.2 1-1.7 1-2.1 1-2.8 1-3.4 1-4.1 1-4.8 1-5.7 1-6.5 1-7.3 1-8.1 1-8.8 1-9.7 .9-10.2 1-10.9 1-11.4 1-11.7 1-11.9 1-12.1 1-12 1-11.8 1-11.5 1-10.9 1-10.3 1-9.5 1-8.5 1-7.4 1-6.3 1-5 1-3.6 1-2.2 1-.7 1 .7 1 2.1 1 3.6 1 4.9 1 6.2 1 7.4 1 8.5 1 9.5 1 10.2 1 11 1 11.4 1 11.8 1 12 1 12.1 1 11.9 1 11.8 1 11.3 1 10.9 .9 10.3 1 9.6 1 9 1 8.1 1 7.3 1 6.5 1 5.7 1 4.9 1 4.1 1 3.4 1 2.8 1 2.2 1 1.6 1 1.3 1 .8 1 .6 1 .4 1 .2 1 .1 1 0 1 0 1 0 1 0 1 0 1 0 1-.1 1-.3 1-.3 1-.6 1-.9 1-1.3 1-1.7 1-2.2 1-2.8 1-3.5 1-4.2 1-4.9 .9-5.8 1-6.6 1-7.3 1-8.2 1-9 1-9.7 1-10.3 1-11 1-11.4 1-11.7 1-12 1-12.1 1-12 1-11.7 1-11.4 1-10.9 1-10.2 1-9.4 1-8.4 1-7.3 1-6.1 1-4.9 1-3.4 1-2.1 1-.5 1 .8 1 2.3 1 3.8 1 5.1 1 6.3 1 7.5 1 8.6 1 9.6 1 10.3 1 11 1 11.5 1 11.9 .9 12 1 12 1 12 1 11.7 1 11.3 1 10.8 1 10.2 1 9.6 1 8.8 1 8.1 1 7.2 1 6.4 1 5.6 1 4.8 1 4 1 3.4 1 2.7 1 2.1 1 1.6 1 1.2 1 .8 1 .6 1 .3 1 .2 1 .1 1 0 1 0 1 0 1 0 1 0 1-.1 1-.1 1-.2 1-.4 1-.6 1-.9 1-1.3 .9-1.8 1-2.3 1-2.9 1-3.5 1-4.3 1-5 1-5.9 1-6.6 1-7.5 1-8.3 1-9.1 1-9.7 1-10.5 1-10.9 1-11.5 1-11.8 1-12 1-12 1-12 1-11.7 1-11.4 1-10.8 1-10.1 1-9.3 1-8.3 1-7.2 1-5.9 1-4.7 1-3.3 1-1.9 1-.4 1 1 1 2.5 1 3.9 1 5.2 1 6.5 1 7.7 .9 8.7 1 9.6 1 10.4 1 11.1 1 11.5 1 11.9 1 12 1 12.1 1 11.9 1 11.7 1 11.2 1 10.8 1 10.2 1 9.4 1 8.8 1 7.9 1 7.2 1 6.3 1 5.5 1 4.7 1 4 1 3.2 1 2.6 1 2.1 1 1.6 1 1.1 1 .8 1 .5 1 .3 1 .2 1 .1 1 0 1 0 1 0 1 0 1 0 .9-.1 1-.1 1-.2 1-.4 1-.7 1-1 1-1.3 1-1.8 1-2.4 1-2.9 1-3.7 1-4.3 1-5.2 1-5.9 1-6.8 1-7.5 1-8.4 1-9.1 1-9.9 1-10.5 1-11 1-11.5 1-11.8 1-12 1-12.1 1-11.9 1-11.8 1-11.3 1-10.7 1-10 1-9.2 1-8.2 1-7 1-5.8 1-4.6 1-3.1 1-1.7 .9-.3 1 1.2 1 2.7 1 4 1 5.4 1 6.6 1 7.8 1 8.8 1 9.8 1 10.5 1 11.1 1 11.6 1 11.9 1 12 1 12.1 1 11.9 1 11.6 1 11.2 1 10.7 1 10.1 1 9.4 1 8.6 1 7.9 1 7 1 6.2 1 5.4 1 4.7 1 3.9 1 3.1 1 2.6 1 2 1 1.5 1 1.1 1 .8 1 .5 1 .2 1 .2 .9 .1 1 0 1 0 1 0 1 0 1 0 1-.1 1-.1 1-.3 1-.4 1-.7 1-1 1-1.4 1-1.9 1-2.4 1-3 1-3.7 1-4.5 1-5.2 1-6 1-6.9 1-7.6 1-8.5 1-9.2 1-9.9 1-10.6 1-11.1 1-11.5 1-11.9 1-12 1-12 1-12 1-11.7 1-11.2 1-10.7 1-9.9 1-9.1 .9-8 1-6.9 1-5.7 1-4.4 1-3 1-1.5 1-.1 1 1.4 1 2.8 1 4.2 1 5.5 1 6.7 1 8 1 8.9 1 9.8 1 10.6 1 11.2 1 11.6 1 11.9 1 12.1 1 12 1 11.9 1 11.6 1 11.1 1 10.7 1 10 1 9.3 1 8.5 1 7.8 1 7 1 6.1 1 5.3 1 4.5 1 3.9 1 3.1 1 2.5 .9 1.9 1 1.5 1 1 1 .7 1 .5 1 .3 1 .1 1 .1 1 0 1 0 1 0 1 0 1 0 1-.1 1-.1 1-.3 1-.5 1-.7 1-1 1-1.5 1-1.9 1-2.5 1-3.1 1-3.8 1-4.5 1-5.3 1-6.2 1-6.9 1-7.8 1-8.5 1-9.3 1-10 1-10.6 1-11.2 1-11.6 1-11.8 1-12.1 .9-12 1-11.9 1-11.7 1-11.2 1-10.5 1-9.9 1-8.9 1-8 1-6.7 1-5.6 1-4.2 1-2.8 1-1.4 1 .1 1 1.5 1 3 1 4.3 1 5.7 1 6.9 1 8 1 9.1 1 9.9 1 10.6 1 11.3 1 11.7 1 11.9 1 12.1 1 12 1 11.8 1 11.6 1 11.1 1 10.5 1 10 1 9.2 1 8.5 1 7.6 1 6.9 .9 6 1 5.3 1 4.4 1 3.7 1 3.1 1 2.4 1 1.9 1 1.4 1 1 1 .7 1 .4 1 .3 1 .1 1 .1 1 0 1 0 1 0 1 0 1 0" stroke="#009e73" stroke-width="5.8"/>
<path d="M387.0 51.0l1 1.7 1 4.6 1 7.4 1 10.2 1 12.8 1 15.3 1 17.7 1 19.8 1 21.8 1 23.5 1 25 1 26.3 1 27.4 1 28.1 1 28.7 1 29 1 29.1 1 29 .9 28.7 1 28.1 1 27.5 1 26.7 1 25.6 1 24.6 1 23.4 1 22.1 1 20.7 1 19.4 1 17.8 1 16.4 1 14.8 1 13.4 1 11.7 1 10.2 1 8.7 1 7.1 1 5.6 1 4 1 2.5 1 .8 1-.6 1-2.3 1-3.8 1-5.5 1-7 1-8.7 1-10.2 1-11.9 1-13.5 1-15.1 1-16.7 1-18.2 1-19.8 1-21.1 1-22.5 .9-23.8 1-25 1-26 1-26.8 1-27.6 1-28.2 1-28.6 1-28.7 1-28.7 1-28.4 1-28 1-27.2 1-26.3 1-25.2 1-23.7 1-22.2 1-20.4 1-18.4 1-16.2 1-13.9 1-11.5 1-8.9 1-6.3 1-3.6 1-.9 1 1.8 1 4.6 1 7.2 1 9.7 1 12.3 1 14.6 1 16.8 1 18.9 1 20.8 1 22.5 1 24 1 25.2 .9 26.4 1 27.2 1 27.8 1 28.3 1 28.5 1 28.6 1 28.3 1 28.1 1 27.5 1 26.8 1 26 1 25.1 1 24 1 22.8 1 21.5 1 20.2 1 18.8 1 17.2 1 15.8 1 14.1 1 12.6 1 10.9 1 9.3 1 7.5 1 5.9 1 4.2 1 2.4 1 .7 1-1 1-2.8 1-4.5 1-6.2 1-8 1-9.6 1-11.4 1-13.1 .9-14.7 1-16.3 1-17.9 1-19.4 1-20.9 1-22.1 1-23.4 1-24.6 1-25.6 1-26.4 1-27.2 1-27.7 1-28.1 1-28.3 1-28.4 1-28.1 1-27.8 1-27.1 1-26.4 1-25.3 1-24.1 1-22.6 1-21.1 1-19.3 1-17.3 1-15.3 1-13 1-10.6 1-8.2 1-5.8 1-3.1 1-.6 1 2 1 4.5 1 7.1 1 9.5 1 11.9 .9 14.2 1 16.2 1 18.3 1 20.1 1 21.8 1 23.2 1 24.6 1 25.6 1 26.6 1 27.3 1 27.7 1 28.2 1 28.2 1 28.2 1 27.9 1 27.6 1 27 1 26.2 1 25.4 1 24.4 1 23.3 1 22.1 1 20.8 1 19.4 1 17.8 1 16.4 1 14.7 1 13.1 1 11.3 1 9.6 1 7.9 1 6 1 4.2 1 2.4 1 .5 1-1.4 1-3.2 .9-5 1-6.9 1-8.8 1-10.5 1-12.2 1-14 1-15.7 1-17.3 1-18.8 1-20.3 1-21.6 1-23 1-24.1 1-25.1 1-26 1-26.8 1-27.4 1-27.8 1-28 1-28.2 1-28 1-27.7 1-27.2 1-26.5 1-25.6 1-24.6 1-23.3 1-21.8 1-20.2 1-18.4 1-16.5 1-14.5 1-12.3 1-10 1-7.6 1-5.3 1-2.8 .9-.3 1 2.2 1 4.6 1 7.1 1 9.4 1 11.6 1 13.9 1 15.9 1 17.8 1 19.7 1 21.3 1 22.7 1 24.1 1 25.2 1 26.1 1 26.9 1 27.5 1 27.8 1 28 1 28.1 1 27.9 1 27.6 1 27 1 26.5 1 25.6 1 24.7 1 23.7 1 22.4 1 21.2 1 19.8 1 18.3 1 16.7 1 15.1 1 13.4 1 11.6 1 9.8 .9 7.9 1 6.1 1 4.1 1 2.3 1 .2 1-1.6 1-3.6 1-5.6 1-7.4 1-9.4 1-11.1 1-13 1-14.7 1-16.5 1-18 1-19.5 1-21 1-22.3 1-23.5 1-24.6 1-25.6 1-26.3 1-27.1 1-27.5 1-27.8 1-28 1-28 1-27.8 1-27.3 1-26.8 1-26 1-25.1 1-23.9 1-22.7 1-21.1 1-19.6 1-17.7 .9-15.9 1-13.8 1-11.7 1-9.4 1-7.2 1-4.9 1-2.4 1 0 1 2.3 1 4.7 1 7.1 1 9.4 1 11.5 1 13.7 1 15.7 1 17.6 1 19.4 1 20.9 1 22.5 1 23.7 1 24.9 1 25.9 1 26.6 1 27.2 1 27.7 1 27.9 1 28 1 27.8 1 27.6 1 27.2 1 26.5 1 25.8 1 24.9 1 23.9 1 22.7 1 21.4 1 20.1 .9 18.5 1 17 1 15.3 1 13.5 1 11.8 1 9.8 1 8 1 6 1 4.1 1 2 1 .1 1-2 1-4 1-6 1-7.9 1-9.8 1-11.8 1-13.5 1-15.4 1-17 1-18.6 1-20.1 1-21.5 1-22.8 1-24 1-25 1-25.9 1-26.6 1-27.2 1-27.6 1-27.9 1-27.9 1-27.9 1-27.5 1-27.1 1-26.5 1-25.6 .9-24.6 1-23.4 1-22.1 1-20.7 1-18.9 1-17.2 1-15.4 1-13.3 1-11.2 1-9 1-6.8 1-4.4 1-2.2 1 .2 1 2.6 1 4.9 1 7.1 1 9.4 1 11.5 1 13.7 1 15.5 1 17.5 1 19.2 1 20.8 1 22.3 1 23.5 1 24.7 1 25.7 1 26.4 1 27.1 1 27.6 1 27.8 1 27.9 1 27.9 1 27.6 1 27.2 1 26.6 .9 25.9 1 25 1 24 1 22.9 1 21.6 1 20.2 1 18.6 1 17.1 1 15.4 1 13.6 1 11.8 1 9.9 1 7.9 1 5.9 1 3.9 1 1.8 1-.2 1-2.3 1-4.3 1-6.3 1-8.4 1-10.3 1-12.2 1-14 1-15.8 1-17.5 1-19.1 1-20.6 1-21.9 1-23.2 1-24.3 1-25.4 1-26.1 1-26.8 1-27.4 1-27.7 1-27.8 .9-27.9 1-27.8 1-27.3 1-26.9 1-26.1 1-25.3 1-24.3 1-23 1-21.7 1-20.2 1-18.5 1-16.8 1-14.8 1-12.9 1-10.8 1-8.6 1-6.4 1-4.2 1-1.8 1 .4 1 2.8 1 5 1 7.3 1 9.4 1 11.6 1 13.7 1 15.5 1 17.4 1 19.2 1 20.7 1 22.1 1 23.5 1 24.6 1 25.6 1 26.3 1 27 .9 27.5 1 27.8 1 27.9 1 27.8 1 27.7 1 27.2 1 26.6 1 26 1 25.1 1 24.1 1 22.9 1 21.6 1 20.3 1 18.7 1 17.1 1 15.4 1 13.6 1 11.7 1 9.8 1 7.8 1 5.8 1 3.7 1 1.7 1-.5 1-2.6 1-4.6 1-6.7 1-8.7 1-10.7 1-12.6 1-14.4 1-16.3 1-17.9 1-19.4 1-21 1-22.3 1-23.5 .9-24.6 1-25.6 1-26.3 1-27 1-27.5 1-27.7 1-27.9 1-27.8 1-27.7 1-27.2 1-26.6 1-26 1-25 1-23.9 1-22.7 1-21.3 1-19.8 1-18.2 1-16.4 1-14.4 1-12.5 1-10.4 1-8.3 1-6.1 1-3.9 1-1.5 1 .7 1 2.9 1 5.2 1 7.5 1 9.5 1 11.7 1 13.7 1 15.6 1 17.4 1 19.1 1 20.7 .9 22.2 1 23.4 1 24.5 1 25.6 1 26.3 1 27 1 27.4 1 27.8 1 27.9 1 27.8 1 27.6 1 27.2 1 26.7 1 26 1 25.1 1 24.1 1 22.9 1 21.7 1 20.2 1 18.8 1 17 1 15.4 1 13.5 1 11.7 1 9.6 1 7.7 1 5.6 1 3.5 1 1.4 1-.7 1-2.8 1-5 1-7 1-9 1-11.1 1-12.9 1-14.8 .9-16.6 1-18.3 1-19.8 1-21.2 1-22.6 1-23.8 1-24.9 1-25.7 1-26.5 1-27.1 1-27.6 1-27.8 1-27.8 1-27.8 1-27.6 1-27.1 1-26.5 1-25.7 1-24.7 1-23.7 1-22.4 1-21 1-19.5 1-17.8 1-16.1 1-14.1 1-12.2 1-10 1-8 1-5.8 1-3.6 1-1.3 1 1 1 3.1 1 5.4 1 7.6 .9 9.8 1 11.8 1 13.7 1 15.7 1 17.5 1 19.2 1 20.7 1 22.2 1 23.4 1 24.5 1 25.6 1 26.3 1 27 1 27.4 1 27.8 1 27.8 1 27.8 1 27.7 1 27.2 1 26.7 1 25.9 1 25.1 1 24.1 1 22.9 1 21.6 1 20.2 1 18.7 1 17 1 15.3 1 13.4 1 11.5 1 9.5 1 7.5 1 5.4 1 3.3 1 1.2 1-1 .9-3.1 1-5.2 1-7.3 1-9.4 1-11.3 1-13.3 1-15.1 1-16.9 1-18.6 1-20.1 1-21.5 1-22.9 1-24 1-25 1-26 1-26.6 1-27.2 1-27.6 1-27.8 1-27.9 1-27.7 1-27.5 1-27 1-26.3 1-25.5 1-24.6 1-23.4 1-22.2 1-20.7 1-19.2 1-17.5 1-15.8 1-13.8 1-11.9 1-9.7 1-7.7 1-5.5 .9-3.3 1-1.1 1 1.2 1 3.4 1 5.6 1 7.8 1 9.9 1 11.9 1 14 1 15.8 1 17.5 1 19.3 1 20.8 1 22.2 1 23.5 1 24.5 1 25.6 1 26.3 1 27 1 27.5 1 27.7 1 27.9 1 27.8 1 27.6 1 27.2 1 26.7 1 25.9 1 25 1 24.1 1 22.8 1 21.6 1 20.1 1 18.6 1 16.9 1 15.1 1 13.3 1 11.4 .9 9.3 1 7.3 1 5.2 1 3.1 1 .9 1-1.2 1-3.4 1-5.5 1-7.6 1-9.6 1-11.7 1-13.6 1-15.4 1-17.1 1-18.8 1-20.4 1-21.8 1-23.1 1-24.2 1-25.2 1-26.1 1-26.7 1-27.3 1-27.7 1-27.8 1-27.8 1-27.7 1-27.4 1-26.9 1-26.2 1-25.4 1-24.3 1-23.3 1-21.9 1-20.5 1-18.9 1-17.3 .9-15.4 1-13.6 1-11.5 1-9.5 1-7.4 1-5.2 1-3.1 1-.8 1 1.4 1 3.7 1 5.8 1 8 1 10.1 1 12.1 1 14 1 16 1 17.7 1 19.3 1 20.9 1 22.3 1 23.5 1 24.7 1 25.6 1 26.4 1 27 1 27.4 1 27.8 1 27.8 1 27.9 1 27.5 1 27.2 1 26.6 1 25.9 1 25 1 24 1 22.8 1 21.4 .9 20 1 18.5 1 16.8 1 15 1 13.1 1 11.2 1 9.1 1 7.1 1 5 1 2.8 1 .7 1-1.5 1-3.6 1-5.8 1-7.9 1-9.9 1-11.9 1-13.8 1-15.7 1-17.4 1-19.1 1-20.6 1-22 1-23.2 1-24.4 1-25.4 1-26.2 1-26.8 1-27.4 1-27.7 1-27.8 1-27.9 1-27.6 1-27.3 1-26.8 1-26.1 .9-25.2 1-24.2 1-23 1-21.8 1-20.2 1-18.7 1-17 1-15.2 1-13.3 1-11.3 1-9.2 1-7.1 1-5 1-2.8 1-.5 1 1.6 1 3.9 1 6.1 1 8.1 1 10.3 1 12.3 1 14.2 1 16.1 1 17.9 1 19.5 1 20.9 1 22.4 1 23.6 1 24.8 1 25.6 1 26.4 1 27.1 1 27.5 1 27.7 1 27.9 1 27.8 1 27.6 .9 27.1 1 26.6 1 25.8 1 24.9 1 23.9 1 22.7 1 21.4 1 19.8 1 18.4 1 16.6 1 14.8 1 12.9 1 11 1 9 1 6.9 1 4.7 1 2.6 1 .4 1-1.7 1-3.9 1-6 1-8.2 1-10.1 1-12.2 1-14.1 1-15.9 1-17.7 1-19.3 1-20.8 1-22.2 1-23.4 1-24.5 1-25.6 1-26.3 1-26.9 1-27.4 1-27.7 .9-27.9 1-27.8 1-27.6 1-27.3 1-26.6 1-26 1-25.1 1-24 1-22.9 1-21.5 1-20 1-18.5 1-16.8 1-14.9 1-13 1-11.1 1-8.9 1-6.9 1-4.7 1-2.5 1-.3 1 1.9 1 4.1 1 6.3 1 8.3 1 10.5 1 12.5 1 14.4 1 16.3 1 18 1 19.6 1 21.1 1 22.5 1 23.7 1 24.8 1 25.7 1 26.5 .9 27.1 1 27.5 1 27.8 1 27.9 1 27.7 1 27.6 1 27.1 1 26.5 1 25.7 1 24.9 1 23.8 1 22.6 1 21.2 1 19.7 1 18.2 1 16.5 1 14.6 1 12.8 1 10.7 1 8.8 1 6.6 1 4.6 1 2.3 1 .2 1-2 1-4.1 1-6.3 1-8.4 1-10.5 1-12.4 1-14.3 1-16.2 1-17.9 1-19.5 1-21 1-22.3 .9-23.6 1-24.7 1-25.6 1-26.5 1-27 1-27.4 1-27.8 1-27.9 1-27.8 1-27.5 1-27.2 1-26.6 1-25.8 1-25 1-23.8 1-22.7 1-21.4 1-19.8 1-18.3 1-16.5 1-14.7 1-12.8 1-10.8 1-8.7 1-6.6 1-4.4 1-2.3 1 0 1 2.1 1 4.3 1 6.5 1 8.7 1 10.6 1 12.7 1 14.6 1 16.5 1 18.1 .9 19.8 1 21.2 1 22.6 1 23.9 1 24.8 1 25.8 1 26.6 1 27.1 1 27.6 1 27.8 1 27.8 1 27.8 1 27.5 1 27 1 26.5 1 25.7 1 24.7 1 23.7 1 22.5 1 21.1 1 19.6 1 18 1 16.2 1 14.5 1 12.6 1 10.5 1 8.6 1 6.4 1 4.3 1 2.1 1-.1 1-2.2 1-4.4 1-6.6 1-8.6 1-10.7 1-12.7 .9-14.5 1-16.4 1-18.1 1-19.7 1-21.2 1-22.6 1-23.7 1-24.8 1-25.8 1-26.5 1-27.1 1-27.5 1-27.8 1-27.8 1-27.8 1-27.5 1-27.1 1-26.5 1-25.7 1-24.9 1-23.7 1-22.5 1-21.2 1-19.6 1-18 1-16.3 1-14.5 1-12.6 1-10.5 1-8.5 1-6.3 1-4.2 1-2 1 .2 1 2.4 1 4.5 1 6.8 .9 8.8 1 10.9 1 12.9 1 14.8 1 16.6 1 18.3 1 19.9 1 21.4 1 22.8 1 23.9 1 25 1 25.8 1 26.7 1 27.1 1 27.6 1 27.8 1 27.9 1 27.7 1 27.5 1 27 1 26.4 1 25.6 1 24.6 1 23.6 1 22.3 1 21 1 19.4 1 17.9 1 16.1 1 14.2 1 12.4 1 10.3 1 8.3 1 6.2 1 4 1 1.9 1-.3 .9-2.5 1-4.6 1-6.8 1-8.9 1-11 1-12.9 1-14.8 1-16.6 1-18.3 1-19.9 1-21.3 1-22.7 1-23.9 1-25 1-25.8 1-26.6 1-27.1 1-27.6 1-27.8 1-27.9 1-27.7 1-27.5 1-27 1-26.4 1-25.7 1-24.6 1-23.6 1-22.4 1-21 1-19.4 1-17.8 1-16.1 1-14.3 1-12.3 1-10.3 1-8.2 1-6.1 .9-3.9 1-1.8 1 .4 1 2.7 1 4.8 1 7 1 9 1 11.1 1 13.1 1 15 1 16.8 1 18.5 1 20.1 1 21.5 1 22.9 1 24 1 25.1 1 25.9 1 26.7 1 27.2 1 27.6 1 27.9 1 27.8 1 27.8 1 27.4 1 26.9 1 26.3 1 25.6 1 24.5 1 23.5 1 22.1 1 20.9 1 19.2 1 17.7 1 15.9 1 14.1 .9 12.1 1 10.1 1 8.1 1 5.9 1 3.8 1 1.7 1-.6 1-2.7 1-4.9 1-7.1 1-9.1 1-11.2 1-13.1 1-15 1-16.8 1-18.5 1-20.1 1-21.6 1-22.8 1-24.1 1-25 1-26 1-26.6 1-27.3 1-27.6 1-27.8 1-27.8 1-27.8 1-27.4 1-26.9 1-26.4 1-25.5 1-24.5 1-23.5 1-22.2 1-20.8 1-19.2 .9-17.7 1-15.8 1-14 1-12.1 1-10.1 1-8 1-5.8 1-3.7 1-1.5 1 .7 1 2.9 1 5 1 7.2 1 9.3 1 11.3 1 13.3 1 15.2 1 17 1 18.7 1 20.2 1 21.7 1 23 1 24.1 1 25.2 1 26.1 1 26.7 1 27.3 1 27.6 1 27.8 1 27.9 1 27.7 1 27.4 1 26.9 1 26.2 1 25.4 1 24.5 1 23.3 .9 22 1 20.7 1 19.1 1 17.5 1 15.7 1 13.8 1 12 1 9.9 1 7.8 1 5.7 1 3.6 1 1.3 1-.8 1-3 1-5.1 1-7.3 1-9.4 1-11.4 1-13.3 1-15.3 1-17 1-18.7 1-20.2 1-21.7 1-23.1 1-24.1 1-25.2 1-26 1-26.8 1-27.3 1-27.6 1-27.8 1-27.9 1-27.7 1-27.4 1-26.9 1-26.2 .9-25.4 1-24.4 1-23.3 1-22.1 1-20.6 1-19 1-17.5 1-15.6 1-13.8 1-11.9 1-9.8 1-7.7 1-5.6 1-3.5 1-1.2 1 .9 1 3.1 1 5.3 1 7.5 1 9.5 1 11.5 1 13.5 1 15.4 1 17.2 1 18.8 1 20.4 1 21.9 1 23.1 1 24.3 1 25.2 1 26.2 1 26.8 1 27.3 1 27.6 1 27.9 1 27.8 .9 27.7 1 27.3 1 26.9 1 26.1 1 25.4 1 24.3 1 23.2 1 21.9 1 20.5 1 18.9 1 17.3 1 15.5 1 13.7 1 11.7 1 9.6 1 7.6 1 5.5 1 3.3 1 1.2 1-1.1 1-3.2 1-5.4 1-7.6 1-9.6 1-11.6 1-13.6 1-15.4 1-17.3 1-18.9 1-20.4 1-21.9 1-23.1 1-24.3 1-25.3 1-26.1 1-26.8 1-27.4 .9-27.6 1-27.9 1-27.8 1-27.7 1-27.3 1-26.9 1-26.1 1-25.3 1-24.3 1-23.2 1-21.8 1-20.5 1-18.9 1-17.2 1-15.4 1-13.6 1-11.6 1-9.6 1-7.5 1-5.4 1-3.1 1-1.1 1 1.2 1 3.4 1 5.5 1 7.7 1 9.8 1 11.7 1 13.8 1 15.5 1 17.4 1 19 1 20.6 1 22 1 23.2 1 24.4 1 25.4 .9 26.2 1 26.8 1 27.4 1 27.7 1 27.8 1 27.9 1 27.6 1 27.3 1 26.8 1 26.1 1 25.2 1 24.2 1 23.1 1 21.7 1 20.3 1 18.8 1 17.1 1 15.3 1 13.4 1 11.5 1 9.5 1 7.3 1 5.3 1 3 1 .9 1-1.3 1-3.5 1-5.6 1-7.8 1-9.8 1-11.9 1-13.8 1-15.7 1-17.4 1-19.1 1-20.6 1-22 .9-23.3 1-24.4 1-25.4 1-26.2 1-26.9 1-27.4 1-27.7 1-27.8 1-27.9 1-27.6 1-27.3 1-26.7 1-26.1 1-25.2 1-24.2 1-23 1-21.7 1-20.3 1-18.7 1-17 1-15.2 1-13.4 1-11.3 1-9.4 1-7.2 1-5.2 1-2.9 1-.8 1 1.5 1 3.6 1 5.8 1 7.9 1 9.9 1 12 1 14 1 15.8 1 17.5 .9 19.2 1 20.7 1 22.1 1 23.4 1 24.5 1 25.5 1 26.3 1 26.9 1 27.4 1 27.7 1 27.9 1 27.8 1 27.6 1 27.3 1 26.7 1 26 1 25.1 1 24.1 1 22.9 1 21.6 1 20.2 1 18.6 1 16.9 1 15.1 1 13.2 1 11.2 1 9.3 1 7.1 1 5 1 2.8 1 .6 1-1.5 1-3.8 1-5.9 1-8 1-10 1-12.1 .9-14.1 1-15.8 1-17.6 1-19.3 1-20.8 1-22.2 1-23.4 1-24.5 1-25.5 1-26.4 1-26.9 1-27.4 1-27.7 1-27.9 1-27.8 1-27.6 1-27.3 1-26.6 1-26 1-25.1 1-24 1-22.9 1-21.5 1-20.1 1-18.5 1-16.9 1-15 1-13.1 1-11.2 1-9.1 1-7 1-4.9 1-2.7 1-.5 1 1.7 1 3.9 .9 6 1 8.1 1 10.2 1 12.3 1 14.1 1 16 1 17.7 1 19.4 1 20.9 1 22.3 1 23.5 1 24.6 1 25.6 1 26.3 1 27 1 27.5 1 27.7 1 27.9 1 27.8 1 27.6 1 27.1 1 26.7 1 25.9 1 25 1 24 1 22.7 1 21.5 1 20 1 18.4 1 16.7 1 14.9 1 13 1 11 1 9 1 6.9 1 4.7 1 2.6 .9 .4 1-1.8 1-4 1-6.1 1-8.3 1-10.3 1-12.3 1-14.2 1-16.1 1-17.8 1-19.5 1-20.9 1-22.3 1-23.6 1-24.7 1-25.6 1-26.4 1-27 1-27.5 1-27.7 1-27.9 1-27.8 1-27.5 1-27.2 1-26.6 1-25.9 1-24.9 1-24 1-22.7 1-21.4 1-19.9 1-18.3 1-16.6 1-14.8 1-13 1-10.9 1-8.9 .9-6.7 1-4.7 1-2.4 1-.3 1 2 1 4.1 1 6.2 1 8.4 1 10.4 1 12.5 1 14.3 1 16.2 1 18 1 19.5 1 21.1 1 22.4 1 23.6 1 24.7 1 25.7 1 26.5 1 27 1 27.5 1 27.8 1 27.8 1 27.8 1 27.6 1 27.1 1 26.6 1 25.8 1 24.9 1 23.8 1 22.7 1 21.2 1 19.9 1 18.2 1 16.5 1 14.7 .9 12.8 1 10.8 1 8.7 1 6.7 1 4.5 1 2.3 1 .1 1-2 1-4.2 1-6.4 1-8.5 1-10.6 1-12.5 1-14.4 1-16.3 1-18 1-19.7 1-21.1 1-22.4 1-23.8 1-24.7 1-25.7 1-26.5 1-27.1 1-27.5 1-27.8 1-27.8 1-27.8 1-27.5 1-27.2 1-26.5 1-25.7 1-24.9 1-23.8 1-22.6 1-21.2 .9-19.7 1-18.2 1-16.4 1-14.6 1-12.7 1-10.7 1-8.6 1-6.5 1-4.4 1-2.2 1 0 1 2.1 1 4.4 1 6.5 1 8.6 1 10.7 1 12.6 1 14.6 1 16.4 1 18.1 1 19.7 1 21.2 1 22.6 1 23.8 1 24.8 1 25.8 1 26.5 1 27.1 1 27.5 1 27.8 1 27.9 1 27.7 1 27.6 1 27 1 26.5 1 25.7 1 24.8 .9 23.7 1 22.5 1 21.2 1 19.6 1 18.1 1 16.3 1 14.4 1 12.6 1 10.6 1 8.5 1 6.4 1 4.3 1 2 1-.1 1-2.3 1-4.4 1-6.7 1-8.7 1-10.8 1-12.7 1-14.7 1-16.5 1-18.2 1-19.8 1-21.2 1-22.7 1-23.8 1-24.9 1-25.8 1-26.5 1-27.2 1-27.5 1-27.8 1-27.9 1-27.7 1-27.5 1-27.1 .9-26.4 1-25.7 1-24.8 1-23.6 1-22.4 1-21.1 1-19.6 1-17.9 1-16.2 1-14.4 1-12.5 1-10.4 1-8.4 1-6.3 1-4.2 1-1.9 1 .2 1 2.4 1 4.6" stroke="#000" stroke-width="9.6" stroke-dasharray="18 23"/>
<path d="M387.0 996.0l1 .2 1 .2 1 .2 1 .1 1-.1 1-.2 1-.5 1-.9 1-1.2 1-1.8 1-2.3 1-2.9 1-3.5 1-4.4 1-5 1-5.9 1-6.7 1-7.4 .9-8.3 1-8.9 1-9.7 1-10.2 1-10.7 1-11.2 1-11.4 1-11.6 1-11.6 1-11.6 1-11.2 1-10.8 1-10.3 1-9.6 1-8.8 1-7.8 1-6.7 1-5.6 1-4.4 1-3.1 1-1.7 1-.5 1 1 1 2.3 1 3.6 1 4.8 1 6 1 7 1 8.1 1 8.9 1 9.7 1 10.2 1 10.8 1 11.1 1 11.2 1 11.4 1 11.3 .9 11.2 1 10.8 1 10.6 1 10 1 9.5 1 9 1 8.3 1 7.6 1 7 1 6.4 1 5.6 1 5.1 1 4.4 1 3.8 1 3.4 1 2.8 1 2.4 1 2 1 1.7 1 1.3 1 1.1 1 .8 1 .7 1 .4 1 .3 1 0 1-.1 1-.4 1-.7 1-.9 1-1.3 1-1.6 1-2.1 1-2.5 1-3 1-3.5 1-4.2 .9-4.7 1-5.4 1-6.1 1-6.7 1-7.3 1-8 1-8.6 1-9.1 1-9.6 1-10 1-10.3 1-10.6 1-10.7 1-10.8 1-10.6 1-10.5 1-10.1 1-9.7 1-9.2 1-8.5 1-7.7 1-6.8 1-5.9 1-4.8 1-3.7 1-2.7 1-1.4 1-.2 1 .9 1 2.1 1 3.3 1 4.3 1 5.4 1 6.3 1 7.2 1 8 .9 8.7 1 9.3 1 9.8 1 10.1 1 10.4 1 10.5 1 10.5 1 10.5 1 10.4 1 10.1 1 9.8 1 9.4 1 9 1 8.5 1 7.9 1 7.5 1 6.9 1 6.3 1 5.8 1 5.2 1 4.7 1 4.2 1 3.7 1 3.2 1 2.8 1 2.4 1 1.9 1 1.6 1 1.3 1 .8 1 .6 1 .2 1-.1 1-.5 1-.8 1-1.2 1-1.6 .9-2.1 1-2.4 1-3 1-3.4 1-4 1-4.5 1-5.1 1-5.6 1-6.2 1-6.8 1-7.3 1-7.8 1-8.4 1-8.7 1-9.2 1-9.6 1-9.8 1-10 1-10.2 1-10.2 1-10.1 1-9.9 1-9.7 1-9.3 1-8.9 1-8.3 1-7.6 1-6.9 1-6.1 1-5.2 1-4.3 1-3.3 1-2.2 1-1.2 1-.1 1 .9 1 2 .9 3 1 4 1 5 1 5.8 1 6.6 1 7.4 1 8 1 8.5 1 9.1 1 9.4 1 9.7 1 9.9 1 10 1 10.1 1 9.9 1 9.9 1 9.6 1 9.3 1 9 1 8.7 1 8.2 1 7.8 1 7.3 1 6.8 1 6.3 1 5.9 1 5.3 1 4.8 1 4.3 1 3.8 1 3.3 1 2.9 1 2.3 1 2 1 1.5 1 1 1 .6 .9 .2 1-.3 1-.7 1-1.2 1-1.7 1-2.1 1-2.7 1-3.1 1-3.6 1-4.2 1-4.7 1-5.2 1-5.7 1-6.3 1-6.8 1-7.3 1-7.7 1-8.2 1-8.6 1-8.9 1-9.3 1-9.5 1-9.7 1-9.8 1-9.8 1-9.7 1-9.6 1-9.4 1-9.1 1-8.7 1-8.2 1-7.7 1-7 1-6.3 1-5.6 1-4.7 .9-3.8 1-2.9 1-2 1-1 1 0 1 .9 1 1.9 1 2.9 1 3.7 1 4.7 1 5.4 1 6.2 1 6.9 1 7.5 1 8.1 1 8.5 1 9 1 9.2 1 9.5 1 9.6 1 9.7 1 9.7 1 9.7 1 9.5 1 9.3 1 9 1 8.8 1 8.4 1 8 1 7.6 1 7.2 1 6.7 1 6.2 1 5.8 1 5.2 1 4.8 1 4.2 .9 3.7 1 3.2 1 2.6 1 2.2 1 1.6 1 1.2 1 .6 1 .1 1-.5 1-.9 1-1.5 1-2 1-2.6 1-3.1 1-3.6 1-4.1 1-4.7 1-5.3 1-5.7 1-6.3 1-6.7 1-7.2 1-7.7 1-8.1 1-8.4 1-8.8 1-9.1 1-9.3 1-9.4 1-9.6 1-9.5 1-9.6 1-9.4 1-9.3 1-9 1-8.6 1-8.2 .9-7.8 1-7.1 1-6.6 1-5.9 1-5.1 1-4.3 1-3.5 1-2.6 1-1.8 1-.8 1 0 1 1 1 1.9 1 2.7 1 3.6 1 4.4 1 5.2 1 5.9 1 6.6 1 7.2 1 7.7 1 8.2 1 8.6 1 8.9 1 9.1 1 9.4 1 9.5 1 9.5 1 9.5 1 9.4 1 9.3 1 9.1 1 8.8 1 8.6 1 8.2 1 7.8 1 7.4 .9 7 1 6.6 1 6 1 5.6 1 5 1 4.5 1 3.9 1 3.4 1 2.9 1 2.3 1 1.7 1 1.2 1 .6 1 0 1-.6 1-1.1 1-1.8 1-2.3 1-2.8 1-3.5 1-4 1-4.6 1-5.1 1-5.6 1-6.2 1-6.6 1-7.1 1-7.6 1-7.9 1-8.3 1-8.7 1-8.9 1-9.1 1-9.3 1-9.4 1-9.5 1-9.4 .9-9.4 1-9.1 1-9 1-8.7 1-8.3 1-7.8 1-7.4 1-6.8 1-6.2 1-5.5 1-4.8 1-4 1-3.3 1-2.4 1-1.6 1-.7 1 .2 1 1 1 1.8 1 2.7 1 3.5 1 4.3 1 5 1 5.7 1 6.4 1 6.9 1 7.5 1 7.9 1 8.4 1 8.6 1 9 1 9.2 1 9.3 1 9.4 1 9.4 1 9.4 1 9.3 .9 9.1 1 8.9 1 8.6 1 8.3 1 8 1 7.6 1 7.2 1 6.8 1 6.2 1 5.8 1 5.2 1 4.7 1 4.1 1 3.5 1 3 1 2.4 1 1.7 1 1.2 1 .5 1 0 1-.7 1-1.3 1-2 1-2.5 1-3.1 1-3.8 1-4.3 1-4.9 1-5.4 1-5.9 1-6.5 1-6.9 1-7.4 1-7.8 1-8.2 1-8.5 .9-8.8 1-9 1-9.2 1-9.3 1-9.3 1-9.4 1-9.3 1-9.2 1-9 1-8.7 1-8.5 1-8 1-7.6 1-7 1-6.6 1-5.9 1-5.2 1-4.5 1-3.8 1-3.1 1-2.2 1-1.4 1-.6 1 .2 1 1 1 1.9 1 2.7 1 3.4 1 4.2 1 4.9 1 5.6 1 6.2 1 6.8 1 7.3 1 7.7 1 8.2 1 8.5 .9 8.9 1 9 1 9.2 1 9.4 1 9.3 1 9.4 1 9.2 1 9.1 1 9 1 8.7 1 8.4 1 8.1 1 7.7 1 7.4 1 6.8 1 6.4 1 5.9 1 5.4 1 4.8 1 4.2 1 3.6 1 3 1 2.4 1 1.8 1 1.1 1 .5 1-.2 1-.8 1-1.4 1-2.1 1-2.8 1-3.3 1-4 1-4.5 1-5.1 1-5.7 1-6.2 .9-6.7 1-7.2 1-7.6 1-8 1-8.3 1-8.6 1-8.9 1-9.1 1-9.2 1-9.3 1-9.4 1-9.3 1-9.2 1-9 1-8.9 1-8.5 1-8.2 1-7.9 1-7.3 1-6.9 1-6.3 1-5.6 1-5.1 1-4.3 1-3.6 1-2.9 1-2.1 1-1.3 1-.5 1 .4 1 1.1 1 1.8 1 2.7 1 3.4 1 4.2 1 4.8 1 5.5 .9 6.1 1 6.7 1 7.2 1 7.7 1 8 1 8.5 1 8.7 1 9 1 9.1 1 9.3 1 9.3 1 9.3 1 9.3 1 9.1 1 9 1 8.7 1 8.5 1 8.2 1 7.8 1 7.4 1 6.9 1 6.5 1 6 1 5.4 1 4.9 1 4.3 1 3.6 1 3.1 1 2.4 1 1.7 1 1.1 1 .4 1-.2 1-1 1-1.5 1-2.3 .9-2.9 1-3.5 1-4.2 1-4.7 1-5.3 1-5.9 1-6.4 1-6.9 1-7.4 1-7.7 1-8.1 1-8.5 1-8.7 1-9 1-9.1 1-9.3 1-9.3 1-9.3 1-9.2 1-9.2 1-8.9 1-8.7 1-8.4 1-8.1 1-7.7 1-7.1 1-6.7 1-6.1 1-5.5 1-4.8 1-4.2 1-3.5 1-2.7 1-1.9 1-1.2 1-.4 1 .4 .9 1.1 1 1.9 1 2.7 1 3.4 1 4.2 1 4.8 1 5.4 1 6.1 1 6.6 1 7.2 1 7.6 1 8 1 8.3 1 8.7 1 8.9 1 9.1 1 9.3 1 9.3 1 9.3 1 9.2 1 9.2 1 9 1 8.7 1 8.6 1 8.2 1 7.8 1 7.5 1 7 1 6.5 1 6 1 5.5 1 4.9 1 4.3 1 3.7 1 3 1 2.4 1 1.7 .9 1 1 .3 1-.3 1-1 1-1.7 1-2.4 1-3.1 1-3.6 1-4.3 1-5 1-5.5 1-6 1-6.6 1-7 1-7.5 1-7.9 1-8.2 1-8.6 1-8.8 1-9 1-9.1 1-9.3 1-9.3 1-9.3 1-9.2 1-9.1 1-8.8 1-8.6 1-8.3 1-8 1-7.5 1-7 1-6.5 1-6 1-5.3 1-4.7 1-4.1 .9-3.3 1-2.6 1-1.8 1-1.1 1-.3 1 .5 1 1.2 1 2 1 2.7 1 3.4 1 4.2 1 4.8 1 5.4 1 6 1 6.6 1 7.1 1 7.6 1 8 1 8.3 1 8.7 1 8.8 1 9.1 1 9.2 1 9.3 1 9.3 1 9.3 1 9.1 1 9 1 8.8 1 8.6 1 8.2 1 7.9 1 7.5 1 7 1 6.5 1 6.1 1 5.4 .9 4.9 1 4.3 1 3.7 1 3 1 2.3 1 1.7 1 .9 1 .3 1-.4 1-1.2 1-1.8 1-2.5 1-3.1 1-3.9 1-4.4 1-5.1 1-5.6 1-6.2 1-6.6 1-7.2 1-7.6 1-8 1-8.3 1-8.7 1-8.8 1-9.1 1-9.2 1-9.3 1-9.3 1-9.2 1-9.2 1-9 1-8.8 1-8.5 1-8.2 1-7.8 1-7.4 .9-7 1-6.3 1-5.9 1-5.2 1-4.5 1-3.9 1-3.2 1-2.5 1-1.7 1-1 1-.2 1 .5 1 1.3 1 2 1 2.8 1 3.4 1 4.2 1 4.8 1 5.5 1 6 1 6.6 1 7.1 1 7.6 1 7.9 1 8.3 1 8.7 1 8.8 1 9.1 1 9.2 1 9.3 1 9.3 1 9.2 1 9.2 1 9 1 8.8 1 8.5 .9 8.3 1 7.9 1 7.4 1 7.1 1 6.5 1 6.1 1 5.4 1 4.9 1 4.3 1 3.6 1 2.9 1 2.3 1 1.6 1 .9 1 .2 1-.5 1-1.2 1-2 1-2.6 1-3.3 1-3.9 1-4.6 1-5.1 1-5.8 1-6.3 1-6.8 1-7.2 1-7.7 1-8.1 1-8.4 1-8.7 1-8.9 1-9.1 1-9.2 1-9.3 1-9.3 1-9.2 .9-9.2 1-8.9 1-8.8 1-8.4 1-8.1 1-7.8 1-7.3 1-6.8 1-6.3 1-5.7 1-5.1 1-4.4 1-3.8 1-3.1 1-2.4 1-1.6 1-.9 1-.1 1 .6 1 1.3 1 2.1 1 2.9 1 3.5 1 4.2 1 4.8 1 5.5 1 6.1 1 6.6 1 7.1 1 7.5 1 8 1 8.3 1 8.6 1 8.9 1 9.1 1 9.2 1 9.2 .9 9.3 1 9.3 1 9.1 1 9 1 8.8 1 8.6 1 8.2 1 7.9 1 7.5 1 7 1 6.5 1 6 1 5.5 1 4.8 1 4.2 1 3.6 1 2.9 1 2.2 1 1.6 1 .8 1 .1 1-.6 1-1.3 1-2.1 1-2.7 1-3.3 1-4.1 1-4.7 1-5.2 1-5.9 1-6.4 1-6.9 1-7.3 1-7.8 1-8.1 1-8.5 1-8.8 .9-8.9 1-9.2 1-9.2 1-9.3 1-9.3 1-9.2 1-9.1 1-8.9 1-8.7 1-8.3 1-8.1 1-7.6 1-7.3 1-6.7 1-6.1 1-5.7 1-5 1-4.3 1-3.7 1-3 1-2.2 1-1.6 1-.8 1 0 1 .6 1 1.5 1 2.1 1 2.9 1 3.6 1 4.2 1 4.9 1 5.5 1 6.1 1 6.6 1 7.2 1 7.5 .9 8 1 8.3 1 8.7 1 8.9 1 9 1 9.2 1 9.3 1 9.3 1 9.2 1 9.2 1 9 1 8.8 1 8.5 1 8.2 1 7.9 1 7.4 1 7 1 6.5 1 6 1 5.4 1 4.8 1 4.2 1 3.5 1 2.9 1 2.1 1 1.5 1 .7 1 0 1-.7 1-1.4 1-2.1 1-2.8 1-3.5 1-4.1 1-4.8 1-5.3 1-6 .9-6.5 1-6.9 1-7.5 1-7.8 1-8.2 1-8.6 1-8.7 1-9 1-9.2 1-9.2 1-9.3 1-9.3 1-9.2 1-9.1 1-8.8 1-8.7 1-8.3 1-8 1-7.6 1-7.1 1-6.6 1-6.1 1-5.5 1-4.9 1-4.3 1-3.6 1-2.9 1-2.1 1-1.5 1-.7 1 0 1 .8 1 1.5 1 2.2 1 3 1 3.6 1 4.3 .9 4.9 1 5.6 1 6.1 1 6.7 1 7.1 1 7.6 1 8 1 8.4 1 8.6 1 8.9 1 9.1 1 9.2 1 9.2 1 9.3 1 9.3 1 9.1 1 9 1 8.8 1 8.5 1 8.2 1 7.8 1 7.5 1 6.9 1 6.5 1 5.9 1 5.4 1 4.7 1 4.2 1 3.4 1 2.8 1 2.1 1 1.4 1 .6 1 0 1-.8 1-1.5 1-2.2 .9-2.9 1-3.6 1-4.2 1-4.9 1-5.4 1-6 1-6.6 1-7.1 1-7.5 1-7.9 1-8.2 1-8.6 1-8.8 1-9.1 1-9.1 1-9.3 1-9.3 1-9.2 1-9.2 1-9.1 1-8.8 1-8.6 1-8.3 1-7.9 1-7.5 1-7 1-6.6 1-6 1-5.4 1-4.8 1-4.2 1-3.5 1-2.8 1-2.1 1-1.4 1-.6 1 .1 .9 .9 1 1.5 1 2.3 1 3 1 3.7 1 4.4 1 5 1 5.6 1 6.2 1 6.7 1 7.1 1 7.7 1 8 1 8.4 1 8.6 1 8.9 1 9.1 1 9.2 1 9.3 1 9.3 1 9.2 1 9.2 1 8.9 1 8.8 1 8.5 1 8.2 1 7.8 1 7.4 1 6.9 1 6.4 1 5.9 1 5.3 1 4.7 1 4.1 1 3.4 1 2.7 1 2 .9 1.3 1 .6 1-.2 1-.8 1-1.6 1-2.3 1-3 1-3.7 1-4.3 1-4.9 1-5.6 1-6.1 1-6.6 1-7.1 1-7.6 1-7.9 1-8.4 1-8.6 1-8.8 1-9.1 1-9.2 1-9.2 1-9.3 1-9.3 1-9.1 1-9 1-8.9 1-8.5 1-8.2 1-7.9 1-7.4 1-7 1-6.5 1-5.9 1-5.4 1-4.7 .9-4.1 1-3.4 1-2.7 1-2 1-1.3 1-.5 1 .1 1 1 1 1.6 1 2.4 1 3.1 1 3.7 1 4.5 1 5 1 5.7 1 6.2 1 6.7 1 7.2 1 7.7 1 8.1 1 8.4 1 8.6 1 9 1 9 1 9.3 1 9.2 1 9.3 1 9.3 1 9.1 1 8.9 1 8.8 1 8.5 1 8.1 1 7.8 1 7.3 1 6.9 1 6.4 .9 5.8 1 5.3 1 4.6 1 4 1 3.3 1 2.7 1 1.9 1 1.2 1 .5 1-.2 1-.9 1-1.7 1-2.4 1-3.1 1-3.7 1-4.4 1-5 1-5.6 1-6.2 1-6.7 1-7.2 1-7.6 1-8 1-8.4 1-8.7 1-8.8 1-9.1 1-9.2 1-9.3 1-9.3 1-9.2 1-9.2 1-8.9 1-8.8 1-8.5 1-8.2 1-7.8 .9-7.4 1-6.9 1-6.4 1-5.9 1-5.3 1-4.6 1-4 1-3.3 1-2.7 1-1.9 1-1.2 1-.4 1 .2 1 1 1 1.8 1 2.4 1 3.2 1 3.8 1 4.5 1 5.1 1 5.7 1 6.3 1 6.8 1 7.2 1 7.7 1 8.1 1 8.5 1 8.7 1 8.9 1 9.1 1 9.2 1 9.3 1 9.3 1 9.2 1 9.1 1 9 1 8.7 .9 8.4 1 8.1 1 7.8 1 7.3 1 6.8 1 6.4 1 5.7 1 5.2 1 4.6 1 3.9 1 3.3 1 2.5 1 1.9 1 1.1 1 .5 1-.4 1-1 1-1.7 1-2.5 1-3.2 1-3.8 1-4.5 1-5.1 1-5.6 1-6.3 1-6.8 1-7.2 1-7.7 1-8.1 1-8.4 1-8.6 1-9 1-9.1 1-9.2 1-9.2 1-9.3 .9-9.3 1-9.1 1-8.9 1-8.8 1-8.4 1-8.2 1-7.7 1-7.4 1-6.8 1-6.4 1-5.7 1-5.2 1-4.6 1-3.9 1-3.3 1-2.5 1-1.9 1-1.1 1-.3 1 .3 1 1.1 1 1.8 1 2.5 1 3.3 1 3.9 1 4.5 1 5.2 1 5.7 1 6.4 1 6.8 1 7.3 1 7.8 1 8.1 1 8.4 1 8.8 1 8.9 1 9.1 .9 9.3 1 9.2 1 9.3 1 9.2 1 9.1 1 9 1 8.7 1 8.4 1 8.1 1 7.7 1 7.2 1 6.8 1 6.3 1 5.7 1 5.1 1 4.5 1 3.9 1 3.2 1 2.5 1 1.7 1 1.1 1 .3 1-.4 1-1.1 1-1.8 1-2.5 1-3.3 1-3.9 1-4.5 1-5.2 1-5.8 1-6.3 1-6.8 1-7.3 1-7.8 1-8.1 1-8.4 .9-8.7 1-9 1-9.1 1-9.2 1-9.3 1-9.3 1-9.2 1-9.1 1-8.9 1-8.7 1-8.5 1-8.1 1-7.7 1-7.2 1-6.8 1-6.3 1-5.7 1-5.1 1-4.5 1-3.9 1-3.1 1-2.5 1-1.8 1-1 1-.3 1 .5 1 1.1 1 1.9 1 2.6 1 3.3 1 4 1 4.6 1 5.2 1 5.9 1 6.4 1 6.8 1 7.4 .9 7.8 1 8.1 1 8.5 1 8.8 1 8.9 1 9.2 1 9.2 1 9.3 1 9.3 1 9.2 1 9.1 1 8.9 1 8.6 1 8.4 1 8.1 1 7.6 1 7.2 1 6.8 1 6.2 1 5.7 1 5 1 4.5 1 3.7 1 3.1 1 2.5 1 1.7 1 .9 1 .3 1-.5 1-1.2 1-1.9 1-2.6 1-3.3 1-4 1-4.7 1-5.2 1-5.8 .9-6.4 1-6.9 1-7.4 1-7.7 1-8.2 1-8.5 1-8.7 1-9 1-9.1 1-9.3 1-9.3 1-9.2 1-9.2 1-9.1 1-8.9 1-8.7 1-8.4 1-8 1-7.7 1-7.2 1-6.7 1-6.3 1-5.6 1-5 1-4.5 1-3.7 1-3.1 1-2.4 1-1.7 1-.9 1-.2 1 .5 1 1.3 1 1.9 1 2.7 1 3.4 1 4 .9 4.7 1 5.3 1 5.9 1 6.4 1 7 1 7.4 1 7.8 1 8.2 1 8.5 1 8.8 1 9 1 9.1 1 9.3 1 9.3 1 9.2 1 9.2 1 9.1 1 8.9 1 8.6 1 8.4 1 8 1 7.6 1 7.2 1 6.6 1 6.2 1 5.6 1 5 1 4.4 1 3.7 1 3 1 2.3 1 1.6 1 .9 1 .2 1-.5 1-1.3 .9-2 1-2.7 1-3.4 1-4.1 1-4.7 1-5.3 1-5.9 1-6.5 1-6.9 1-7.4 1-7.8 1-8.2 1-8.6 1-8.7 1-9 1-9.2 1-9.2 1-9.3 1-9.3 1-9.2 1-9 1-8.9 1-8.7 1-8.3 1-8 1-7.6 1-7.2 1-6.7 1-6.1 1-5.6 1-4.9 1-4.4 1-3.7 1-3 1-2.3 1-1.6 1-.8 .9-.2 1 .7 1 1.3 1 2 1 2.8 1 3.4 1 4.1 1 4.8 1 5.4 1 5.9 1 6.5 1 7 1 7.5 1 7.8 1 8.3 1 8.5 1 8.8 1 9 1 9.2 1 9.2 1 9.3 1 9.3 1 9.2 1 9 1 8.9 1 8.6 1 8.3 1 8 1 7.5 1 7.2 1 6.6 1 6.1 1 5.5 1 4.9 1 4.3 1 3.7 1 2.9 .9 2.3 1 1.5 1 .8 1 .1 1-.6 1-1.4 1-2.1 1-2.8 1-3.4 1-4.2 1-4.7 1-5.4 1-6 1-6.5 1-7 1-7.5 1-7.8 1-8.3 1-8.5 1-8.8 1-9.1 1-9.1 1-9.3 1-9.3 1-9.2 1-9.2 1-9.1 1-8.8 1-8.6 1-8.3 1-8 1-7.5 1-7.1 1-6.7 1-6 1-5.5 1-5 .9-4.2 1-3.6 1-2.9 1-2.3 1-1.5 1-.7 1-.1 1 .7 1 1.4 1 2.1 1 2.9 1 3.5 1 4.2 1 4.8 1 5.4 1 6 1 6.6 1 7 1 7.5 1 7.9 1 8.3 1 8.6 1 8.8 1 9 1 9.2 1 9.3 1 9.3 1 9.2 1 9.2 1 9 1 8.9 1 8.6 1 8.2 1 8 1 7.5 1 7 .9 6.6 1 6.1 1 5.4 1 4.9 1 4.2 1 3.6 1 2.8 1 2.2 1 1.5 1 .7 1 0 1-.7 1-1.5 1-2.1 1-2.9 1-3.5 1-4.3 1-4.8 1-5.5 1-6 1-6.6 1-7 1-7.5 1-8 1-8.2 1-8.6 1-8.9 1-9 1-9.2 1-9.2 1-9.3 1-9.3 1-9.1 1-9.1 1-8.8 1-8.6 1-8.2 .9-8 1-7.5 1-7 1-6.6 1-6 1-5.4 1-4.9 1-4.1 1-3.6 1-2.8 1-2.2 1-1.4 1-.7 1 .1 1 .7 1 1.5 1 2.2 1 2.9 1 3.6 1 4.3 1 4.9 1 5.5 1 6.1 1 6.6 1 7.1 1 7.5 1 8 1 8.3 1 8.6 1 8.8 1 9.1 1 9.2 1 9.2 1 9.3 1 9.3 1 9.1 1 9 .9 8.9 1 8.5 1 8.3 1 7.8 1 7.5 1 7 1 6.5 1 6 1 5.4 1 4.8 1 4.2 1 3.4 1 2.8 1 2.1 1 1.4 1 .7 1-.1 1-.8 1-1.6" stroke="#e51e10" stroke-width="8.6" stroke-dasharray="18 23"/>
<path d="M387.0 996.0l1 .2 1 .2 1 .2 1 .1 1-.1 1-.2 1-.5 1-.9 1-1.2 1-1.8 1-2.3 1-2.9 1-3.5 1-4.4 1-5 1-5.9 1-6.7 1-7.4 .9-8.3 1-8.9 1-9.7 1-10.2 1-10.7 1-11.2 1-11.4 1-11.6 1-11.6 1-11.6 1-11.2 1-10.8 1-10.3 1-9.6 1-8.8 1-7.8 1-6.7 1-5.6 1-4.4 1-3.1 1-1.7 1-.5 1 1 1 2.3 1 3.6 1 4.8 1 6 1 7 1 8.1 1 8.9 1 9.7 1 10.2 1 10.8 1 11.1 1 11.2 1 11.4 1 11.3 .9 11.2 1 10.8 1 10.6 1 10 1 9.5 1 9 1 8.3 1 7.6 1 7 1 6.4 1 5.6 1 5.1 1 4.4 1 3.8 1 3.4 1 2.8 1 2.4 1 2 1 1.7 1 1.3 1 1.1 1 .8 1 .7 1 .4 1 .3 1 0 1-.1 1-.4 1-.7 1-.9 1-1.3 1-1.6 1-2.1 1-2.5 1-3 1-3.5 1-4.2 .9-4.7 1-5.4 1-6.1 1-6.7 1-7.3 1-8 1-8.6 1-9.1 1-9.6 1-10 1-10.3 1-10.6 1-10.7 1-10.8 1-10.6 1-10.5 1-10.1 1-9.7 1-9.2 1-8.5 1-7.7 1-6.8 1-5.9 1-4.8 1-3.7 1-2.7 1-1.4 1-.2 1 .9 1 2.1 1 3.3 1 4.3 1 5.4 1 6.3 1 7.2 1 8 .9 8.7 1 9.3 1 9.8 1 10.1 1 10.4 1 10.5 1 10.5 1 10.5 1 10.4 1 10.1 1 9.8 1 9.4 1 9 1 8.5 1 7.9 1 7.5 1 6.9 1 6.3 1 5.8 1 5.2 1 4.7 1 4.2 1 3.7 1 3.2 1 2.8 1 2.4 1 1.9 1 1.6 1 1.3 1 .8 1 .6 1 .2 1-.1 1-.5 1-.8 1-1.2 1-1.6 .9-2.1 1-2.4 1-3 1-3.4 1-4 1-4.5 1-5.1 1-5.6 1-6.2 1-6.8 1-7.3 1-7.8 1-8.4 1-8.7 1-9.2 1-9.6 1-9.8 1-10 1-10.2 1-10.2 1-10.1 1-9.9 1-9.7 1-9.3 1-8.9 1-8.3 1-7.6 1-6.9 1-6.1 1-5.2 1-4.3 1-3.3 1-2.2 1-1.2 1-.1 1 .9 1 2 .9 3 1 4 1 5 1 5.8 1 6.6 1 7.4 1 8 1 8.5 1 9.1 1 9.4 1 9.7 1 9.9 1 10 1 10.1 1 9.9 1 9.9 1 9.6 1 9.3 1 9 1 8.7 1 8.2 1 7.8 1 7.3 1 6.8 1 6.3 1 5.9 1 5.3 1 4.8 1 4.3 1 3.8 1 3.3 1 2.9 1 2.3 1 2 1 1.5 1 1 1 .6 .9 .2 1-.3 1-.7 1-1.2 1-1.7 1-2.1 1-2.7 1-3.1 1-3.6 1-4.2 1-4.7 1-5.2 1-5.7 1-6.3 1-6.8 1-7.3 1-7.7 1-8.2 1-8.6 1-8.9 1-9.3 1-9.5 1-9.7 1-9.8 1-9.8 1-9.7 1-9.6 1-9.4 1-9.1 1-8.7 1-8.2 1-7.7 1-7 1-6.3 1-5.6 1-4.7 .9-3.8 1-2.9 1-2 1-1 1 0 1 .9 1 1.9 1 2.9 1 3.7 1 4.7 1 5.4 1 6.2 1 6.9 1 7.5 1 8.1 1 8.5 1 9 1 9.2 1 9.5 1 9.6 1 9.7 1 9.7 1 9.7 1 9.5 1 9.3 1 9 1 8.8 1 8.4 1 8 1 7.6 1 7.2 1 6.7 1 6.2 1 5.8 1 5.2 1 4.8 1 4.2 .9 3.7 1 3.2 1 2.6 1 2.2 1 1.6 1 1.2 1 .6 1 .1 1-.5 1-.9 1-1.5 1-2 1-2.6 1-3.1 1-3.6 1-4.1 1-4.7 1-5.3 1-5.7 1-6.3 1-6.7 1-7.2 1-7.7 1-8.1 1-8.4 1-8.8 1-9.1 1-9.3 1-9.4 1-9.6 1-9.5 1-9.6 1-9.4 1-9.3 1-9 1-8.6 1-8.2 .9-7.8 1-7.1 1-6.6 1-5.9 1-5.1 1-4.3 1-3.5 1-2.6 1-1.8 1-.8 1 0 1 1 1 1.9 1 2.7 1 3.6 1 4.4 1 5.2 1 5.9 1 6.6 1 7.2 1 7.7 1 8.2 1 8.6 1 8.9 1 9.1 1 9.4 1 9.5 1 9.5 1 9.5 1 9.4 1 9.3 1 9.1 1 8.8 1 8.6 1 8.2 1 7.8 1 7.4 .9 7 1 6.6 1 6 1 5.6 1 5 1 4.5 1 3.9 1 3.4 1 2.9 1 2.3 1 1.7 1 1.2 1 .6 1 0 1-.6 1-1.1 1-1.8 1-2.3 1-2.8 1-3.5 1-4 1-4.6 1-5.1 1-5.6 1-6.2 1-6.6 1-7.1 1-7.6 1-7.9 1-8.3 1-8.7 1-8.9 1-9.1 1-9.3 1-9.4 1-9.5 1-9.4 .9-9.4 1-9.1 1-9 1-8.7 1-8.3 1-7.8 1-7.4 1-6.8 1-6.2 1-5.5 1-4.8 1-4 1-3.3 1-2.4 1-1.6 1-.7 1 .2 1 1 1 1.8 1 2.7 1 3.5 1 4.3 1 5 1 5.7 1 6.4 1 6.9 1 7.5 1 7.9 1 8.4 1 8.6 1 9 1 9.2 1 9.3 1 9.4 1 9.4 1 9.4 1 9.3 .9 9.1 1 8.9 1 8.6 1 8.3 1 8 1 7.6 1 7.2 1 6.8 1 6.2 1 5.8 1 5.2 1 4.7 1 4.1 1 3.5 1 3 1 2.4 1 1.7 1 1.2 1 .5 1 0 1-.7 1-1.3 1-2 1-2.5 1-3.1 1-3.8 1-4.3 1-4.9 1-5.4 1-5.9 1-6.5 1-6.9 1-7.4 1-7.8 1-8.2 1-8.5 .9-8.8 1-9 1-9.2 1-9.3 1-9.3 1-9.4 1-9.3 1-9.2 1-9 1-8.7 1-8.5 1-8 1-7.6 1-7 1-6.6 1-5.9 1-5.2 1-4.5 1-3.8 1-3.1 1-2.2 1-1.4 1-.6 1 .2 1 1 1 1.9 1 2.7 1 3.4 1 4.2 1 4.9 1 5.6 1 6.2 1 6.8 1 7.3 1 7.7 1 8.2 1 8.5 .9 8.9 1 9 1 9.2 1 9.4 1 9.3 1 9.4 1 9.2 1 9.1 1 9 1 8.7 1 8.4 1 8.1 1 7.7 1 7.4 1 6.8 1 6.4 1 5.9 1 5.4 1 4.8 1 4.2 1 3.6 1 3 1 2.4 1 1.8 1 1.1 1 .5 1-.2 1-.8 1-1.4 1-2.1 1-2.8 1-3.3 1-4 1-4.5 1-5.1 1-5.7 1-6.2 .9-6.7 1-7.2 1-7.6 1-8 1-8.3 1-8.6 1-8.9 1-9.1 1-9.2 1-9.3 1-9.4 1-9.3 1-9.2 1-9 1-8.9 1-8.5 1-8.2 1-7.9 1-7.3 1-6.9 1-6.3 1-5.6 1-5.1 1-4.3 1-3.6 1-2.9 1-2.1 1-1.3 1-.5 1 .4 1 1.1 1 1.8 1 2.7 1 3.4 1 4.2 1 4.8 1 5.5 .9 6.1 1 6.7 1 7.2 1 7.7 1 8 1 8.5 1 8.7 1 9 1 9.1 1 9.3 1 9.3 1 9.3 1 9.3 1 9.1 1 9 1 8.7 1 8.5 1 8.2 1 7.8 1 7.4 1 6.9 1 6.5 1 6 1 5.4 1 4.9 1 4.3 1 3.6 1 3.1 1 2.4 1 1.7 1 1.1 1 .4 1-.2 1-1 1-1.5 1-2.3 .9-2.9 1-3.5 1-4.2 1-4.7 1-5.3 1-5.9 1-6.4 1-6.9 1-7.4 1-7.7 1-8.1 1-8.5 1-8.7 1-9 1-9.1 1-9.3 1-9.3 1-9.3 1-9.2 1-9.2 1-8.9 1-8.7 1-8.4 1-8.1 1-7.7 1-7.1 1-6.7 1-6.1 1-5.5 1-4.8 1-4.2 1-3.5 1-2.7 1-1.9 1-1.2 1-.4 1 .4 .9 1.1 1 1.9 1 2.7 1 3.4 1 4.2 1 4.8 1 5.4 1 6.1 1 6.6 1 7.2 1 7.6 1 8 1 8.3 1 8.7 1 8.9 1 9.1 1 9.3 1 9.3 1 9.3 1 9.2 1 9.2 1 9 1 8.7 1 8.6 1 8.2 1 7.8 1 7.5 1 7 1 6.5 1 6 1 5.5 1 4.9 1 4.3 1 3.7 1 3 1 2.4 1 1.7 .9 1 1 .3 1-.3 1-1 1-1.7 1-2.4 1-3.1 1-3.6 1-4.3 1-5 1-5.5 1-6 1-6.6 1-7 1-7.5 1-7.9 1-8.2 1-8.6 1-8.8 1-9 1-9.1 1-9.3 1-9.3 1-9.3 1-9.2 1-9.1 1-8.8 1-8.6 1-8.3 1-8 1-7.5 1-7 1-6.5 1-6 1-5.3 1-4.7 1-4.1 .9-3.3 1-2.6 1-1.8 1-1.1 1-.3 1 .5 1 1.2 1 2 1 2.7 1 3.4 1 4.2 1 4.8 1 5.4 1 6 1 6.6 1 7.1 1 7.6 1 8 1 8.3 1 8.7 1 8.8 1 9.1 1 9.2 1 9.3 1 9.3 1 9.3 1 9.1 1 9 1 8.8 1 8.6 1 8.2 1 7.9 1 7.5 1 7 1 6.5 1 6.1 1 5.4 .9 4.9 1 4.3 1 3.7 1 3 1 2.3 1 1.7 1 .9 1 .3 1-.4 1-1.2 1-1.8 1-2.5 1-3.1 1-3.9 1-4.4 1-5.1 1-5.6 1-6.2 1-6.6 1-7.2 1-7.6 1-8 1-8.3 1-8.7 1-8.8 1-9.1 1-9.2 1-9.3 1-9.3 1-9.2 1-9.2 1-9 1-8.8 1-8.5 1-8.2 1-7.8 1-7.4 .9-7 1-6.3 1-5.9 1-5.2 1-4.5 1-3.9 1-3.2 1-2.5 1-1.7 1-1 1-.2 1 .5 1 1.3 1 2 1 2.8 1 3.4 1 4.2 1 4.8 1 5.5 1 6 1 6.6 1 7.1 1 7.6 1 7.9 1 8.3 1 8.7 1 8.8 1 9.1 1 9.2 1 9.3 1 9.3 1 9.2 1 9.2 1 9 1 8.8 1 8.5 .9 8.3 1 7.9 1 7.4 1 7.1 1 6.5 1 6.1 1 5.4 1 4.9 1 4.3 1 3.6 1 2.9 1 2.3 1 1.6 1 .9 1 .2 1-.5 1-1.2 1-2 1-2.6 1-3.3 1-3.9 1-4.6 1-5.1 1-5.8 1-6.3 1-6.8 1-7.2 1-7.7 1-8.1 1-8.4 1-8.7 1-8.9 1-9.1 1-9.2 1-9.3 1-9.3 1-9.2 .9-9.2 1-8.9 1-8.8 1-8.4 1-8.1 1-7.8 1-7.3 1-6.8 1-6.3 1-5.7 1-5.1 1-4.4 1-3.8 1-3.1 1-2.4 1-1.6 1-.9 1-.1 1 .6 1 1.3 1 2.1 1 2.9 1 3.5 1 4.2 1 4.8 1 5.5 1 6.1 1 6.6 1 7.1 1 7.5 1 8 1 8.3 1 8.6 1 8.9 1 9.1 1 9.2 1 9.2 .9 9.3 1 9.3 1 9.1 1 9 1 8.8 1 8.6 1 8.2 1 7.9 1 7.5 1 7 1 6.5 1 6 1 5.5 1 4.8 1 4.2 1 3.6 1 2.9 1 2.2 1 1.6 1 .8 1 .1 1-.6 1-1.3 1-2.1 1-2.7 1-3.3 1-4.1 1-4.7 1-5.2 1-5.9 1-6.4 1-6.9 1-7.3 1-7.8 1-8.1 1-8.5 1-8.8 .9-8.9 1-9.2 1-9.2 1-9.3 1-9.3 1-9.2 1-9.1 1-8.9 1-8.7 1-8.3 1-8.1 1-7.6 1-7.3 1-6.7 1-6.1 1-5.7 1-5 1-4.3 1-3.7 1-3 1-2.2 1-1.6 1-.8 1 0 1 .6 1 1.5 1 2.1 1 2.9 1 3.6 1 4.2 1 4.9 1 5.5 1 6.1 1 6.6 1 7.2 1 7.5 .9 8 1 8.3 1 8.7 1 8.9 1 9 1 9.2 1 9.3 1 9.3 1 9.2 1 9.2 1 9 1 8.8 1 8.5 1 8.2 1 7.9 1 7.4 1 7 1 6.5 1 6 1 5.4 1 4.8 1 4.2 1 3.5 1 2.9 1 2.1 1 1.5 1 .7 1 0 1-.7 1-1.4 1-2.1 1-2.8 1-3.5 1-4.1 1-4.8 1-5.3 1-6 .9-6.5 1-6.9 1-7.5 1-7.8 1-8.2 1-8.6 1-8.7 1-9 1-9.2 1-9.2 1-9.3 1-9.3 1-9.2 1-9.1 1-8.8 1-8.7 1-8.3 1-8 1-7.6 1-7.1 1-6.6 1-6.1 1-5.5 1-4.9 1-4.3 1-3.6 1-2.9 1-2.1 1-1.5 1-.7 1 0 1 .8 1 1.5 1 2.2 1 3 1 3.6 1 4.3 .9 4.9 1 5.6 1 6.1 1 6.7 1 7.1 1 7.6 1 8 1 8.4 1 8.6 1 8.9 1 9.1 1 9.2 1 9.2 1 9.3 1 9.3 1 9.1 1 9 1 8.8 1 8.5 1 8.2 1 7.8 1 7.5 1 6.9 1 6.5 1 5.9 1 5.4 1 4.7 1 4.2 1 3.4 1 2.8 1 2.1 1 1.4 1 .6 1 0 1-.8 1-1.5 1-2.2 .9-2.9 1-3.6 1-4.2 1-4.9 1-5.4 1-6 1-6.6 1-7.1 1-7.5 1-7.9 1-8.2 1-8.6 1-8.8 1-9.1 1-9.1 1-9.3 1-9.3 1-9.2 1-9.2 1-9.1 1-8.8 1-8.6 1-8.3 1-7.9 1-7.5 1-7 1-6.6 1-6 1-5.4 1-4.8 1-4.2 1-3.5 1-2.8 1-2.1 1-1.4 1-.6 1 .1 .9 .9 1 1.5 1 2.3 1 3 1 3.7 1 4.4 1 5 1 5.6 1 6.2 1 6.7 1 7.1 1 7.7 1 8 1 8.4 1 8.6 1 8.9 1 9.1 1 9.2 1 9.3 1 9.3 1 9.2 1 9.2 1 8.9 1 8.8 1 8.5 1 8.2 1 7.8 1 7.4 1 6.9 1 6.4 1 5.9 1 5.3 1 4.7 1 4.1 1 3.4 1 2.7 1 2 .9 1.3 1 .6 1-.2 1-.8 1-1.6 1-2.3 1-3 1-3.7 1-4.3 1-4.9 1-5.6 1-6.1 1-6.6 1-7.1 1-7.6 1-7.9 1-8.4 1-8.6 1-8.8 1-9.1 1-9.2 1-9.2 1-9.3 1-9.3 1-9.1 1-9 1-8.9 1-8.5 1-8.2 1-7.9 1-7.4 1-7 1-6.5 1-5.9 1-5.4 1-4.7 .9-4.1 1-3.4 1-2.7 1-2 1-1.3 1-.5 1 .1 1 1 1 1.6 1 2.4 1 3.1 1 3.7 1 4.5 1 5 1 5.7 1 6.2 1 6.7 1 7.2 1 7.7 1 8.1 1 8.4 1 8.6 1 9 1 9 1 9.3 1 9.2 1 9.3 1 9.3 1 9.1 1 8.9 1 8.8 1 8.5 1 8.1 1 7.8 1 7.3 1 6.9 1 6.4 .9 5.8 1 5.3 1 4.6 1 4 1 3.3 1 2.7 1 1.9 1 1.2 1 .5 1-.2 1-.9 1-1.7 1-2.4 1-3.1 1-3.7 1-4.4 1-5 1-5.6 1-6.2 1-6.7 1-7.2 1-7.6 1-8 1-8.4 1-8.7 1-8.8 1-9.1 1-9.2 1-9.3 1-9.3 1-9.2 1-9.2 1-8.9 1-8.8 1-8.5 1-8.2 1-7.8 .9-7.4 1-6.9 1-6.4 1-5.9 1-5.3 1-4.6 1-4 1-3.3 1-2.7 1-1.9 1-1.2 1-.4 1 .2 1 1 1 1.8 1 2.4 1 3.2 1 3.8 1 4.5 1 5.1 1 5.7 1 6.3 1 6.8 1 7.2 1 7.7 1 8.1 1 8.5 1 8.7 1 8.9 1 9.1 1 9.2 1 9.3 1 9.3 1 9.2 1 9.1 1 9 1 8.7 .9 8.4 1 8.1 1 7.8 1 7.3 1 6.8 1 6.4 1 5.7 1 5.2 1 4.6 1 3.9 1 3.3 1 2.5 1 1.9 1 1.1 1 .5 1-.4 1-1 1-1.7 1-2.5 1-3.2 1-3.8 1-4.5 1-5.1 1-5.6 1-6.3 1-6.8 1-7.2 1-7.7 1-8.1 1-8.4 1-8.6 1-9 1-9.1 1-9.2 1-9.2 1-9.3 .9-9.3 1-9.1 1-8.9 1-8.8 1-8.4 1-8.2 1-7.7 1-7.4 1-6.8 1-6.4 1-5.7 1-5.2 1-4.6 1-3.9 1-3.3 1-2.5 1-1.9 1-1.1 1-.3 1 .3 1 1.1 1 1.8 1 2.5 1 3.3 1 3.9 1 4.5 1 5.2 1 5.7 1 6.4 1 6.8 1 7.3 1 7.8 1 8.1 1 8.4 1 8.8 1 8.9 1 9.1 .9 9.3 1 9.2 1 9.3 1 9.2 1 9.1 1 9 1 8.7 1 8.4 1 8.1 1 7.7 1 7.2 1 6.8 1 6.3 1 5.7 1 5.1 1 4.5 1 3.9 1 3.2 1 2.5 1 1.7 1 1.1 1 .3 1-.4 1-1.1 1-1.8 1-2.5 1-3.3 1-3.9 1-4.5 1-5.2 1-5.8 1-6.3 1-6.8 1-7.3 1-7.8 1-8.1 1-8.4 .9-8.7 1-9 1-9.1 1-9.2 1-9.3 1-9.3 1-9.2 1-9.1 1-8.9 1-8.7 1-8.5 1-8.1 1-7.7 1-7.2 1-6.8 1-6.3 1-5.7 1-5.1 1-4.5 1-3.9 1-3.1 1-2.5 1-1.8 1-1 1-.3 1 .5 1 1.1 1 1.9 1 2.6 1 3.3 1 4 1 4.6 1 5.2 1 5.9 1 6.4 1 6.8 1 7.4 .9 7.8 1 8.1 1 8.5 1 8.8 1 8.9 1 9.2 1 9.2 1 9.3 1 9.3 1 9.2 1 9.1 1 8.9 1 8.6 1 8.4 1 8.1 1 7.6 1 7.2 1 6.8 1 6.2 1 5.7 1 5 1 4.5 1 3.7 1 3.1 1 2.5 1 1.7 1 .9 1 .3 1-.5 1-1.2 1-1.9 1-2.6 1-3.3 1-4 1-4.7 1-5.2 1-5.8 .9-6.4 1-6.9 1-7.4 1-7.7 1-8.2 1-8.5 1-8.7 1-9 1-9.1 1-9.3 1-9.3 1-9.2 1-9.2 1-9.1 1-8.9 1-8.7 1-8.4 1-8 1-7.7 1-7.2 1-6.7 1-6.3 1-5.6 1-5 1-4.5 1-3.7 1-3.1 1-2.4 1-1.7 1-.9 1-.2 1 .5 1 1.3 1 1.9 1 2.7 1 3.4 1 4 .9 4.7 1 5.3 1 5.9 1 6.4 1 7 1 7.4 1 7.8 1 8.2 1 8.5 1 8.8 1 9 1 9.1 1 9.3 1 9.3 1 9.2 1 9.2 1 9.1 1 8.9 1 8.6 1 8.4 1 8 1 7.6 1 7.2 1 6.6 1 6.2 1 5.6 1 5 1 4.4 1 3.7 1 3 1 2.3 1 1.6 1 .9 1 .2 1-.5 1-1.3 .9-2 1-2.7 1-3.4 1-4.1 1-4.7 1-5.3 1-5.9 1-6.5 1-6.9 1-7.4 1-7.8 1-8.2 1-8.6 1-8.7 1-9 1-9.2 1-9.2 1-9.3 1-9.3 1-9.2 1-9 1-8.9 1-8.7 1-8.3 1-8 1-7.6 1-7.2 1-6.7 1-6.1 1-5.6 1-4.9 1-4.4 1-3.7 1-3 1-2.3 1-1.6 1-.8 .9-.2 1 .7 1 1.3 1 2 1 2.8 1 3.4 1 4.1 1 4.8 1 5.4 1 5.9 1 6.5 1 7 1 7.5 1 7.8 1 8.3 1 8.5 1 8.8 1 9 1 9.2 1 9.2 1 9.3 1 9.3 1 9.2 1 9 1 8.9 1 8.6 1 8.3 1 8 1 7.5 1 7.2 1 6.6 1 6.1 1 5.5 1 4.9 1 4.3 1 3.7 1 2.9 .9 2.3 1 1.5 1 .8 1 .1 1-.6 1-1.4 1-2.1 1-2.8 1-3.4 1-4.2 1-4.7 1-5.4 1-6 1-6.5 1-7 1-7.5 1-7.8 1-8.3 1-8.5 1-8.8 1-9.1 1-9.1 1-9.3 1-9.3 1-9.2 1-9.2 1-9.1 1-8.8 1-8.6 1-8.3 1-8 1-7.5 1-7.1 1-6.7 1-6 1-5.5 1-5 .9-4.2 1-3.6 1-2.9 1-2.3 1-1.5 1-.7 1-.1 1 .7 1 1.4 1 2.1 1 2.9 1 3.5 1 4.2 1 4.8 1 5.4 1 6 1 6.6 1 7 1 7.5 1 7.9 1 8.3 1 8.6 1 8.8 1 9 1 9.2 1 9.3 1 9.3 1 9.2 1 9.2 1 9 1 8.9 1 8.6 1 8.2 1 8 1 7.5 1 7 .9 6.6 1 6.1 1 5.4 1 4.9 1 4.2 1 3.6 1 2.8 1 2.2 1 1.5 1 .7 1 0 1-.7 1-1.5 1-2.1 1-2.9 1-3.5 1-4.3 1-4.8 1-5.5 1-6 1-6.6 1-7 1-7.5 1-8 1-8.2 1-8.6 1-8.9 1-9 1-9.2 1-9.2 1-9.3 1-9.3 1-9.1 1-9.1 1-8.8 1-8.6 1-8.2 .9-8 1-7.5 1-7 1-6.6 1-6 1-5.4 1-4.9 1-4.1 1-3.6 1-2.8 1-2.2 1-1.4 1-.7 1 .1 1 .7 1 1.5 1 2.2 1 2.9 1 3.6 1 4.3 1 4.9 1 5.5 1 6.1 1 6.6 1 7.1 1 7.5 1 8 1 8.3 1 8.6 1 8.8 1 9.1 1 9.2 1 9.2 1 9.3 1 9.3 1 9.1 1 9 .9 8.9 1 8.5 1 8.3 1 7.8 1 7.5 1 7 1 6.5 1 6 1 5.4 1 4.8 1 4.2 1 3.4 1 2.8 1 2.1 1 1.4 1 .7 1-.1 1-.8 1-1.6" stroke="#9400d3" stroke-width="6.8" stroke-dasharray="14 18.8"/>
<path d="M387.0 996.0l1 .2 1 .2 1 .2 1 .1 1-.1 1-.2 1-.5 1-.9 1-1.2 1-1.8 1-2.3 1-2.9 1-3.5 1-4.4 1-5 1-5.9 1-6.7 1-7.4 .9-8.3 1-8.9 1-9.7 1-10.2 1-10.7 1-11.2 1-11.4 1-11.6 1-11.6 1-11.6 1-11.2 1-10.8 1-10.3 1-9.6 1-8.8 1-7.8 1-6.7 1-5.6 1-4.4 1-3.1 1-1.7 1-.5 1 1 1 2.3 1 3.6 1 4.8 1 6 1 7 1 8.1 1 8.9 1 9.7 1 10.2 1 10.8 1 11.1 1 11.2 1 11.4 1 11.3 .9 11.2 1 10.8 1 10.6 1 10 1 9.5 1 9 1 8.3 1 7.6 1 7 1 6.4 1 5.6 1 5.1 1 4.4 1 3.8 1 3.4 1 2.8 1 2.4 1 2 1 1.7 1 1.3 1 1.1 1 .8 1 .7 1 .4 1 .3 1 0 1-.1 1-.4 1-.7 1-.9 1-1.3 1-1.6 1-2.1 1-2.5 1-3 1-3.5 1-4.2 .9-4.7 1-5.4 1-6.1 1-6.7 1-7.3 1-8 1-8.6 1-9.1 1-9.6 1-10 1-10.3 1-10.6 1-10.7 1-10.8 1-10.6 1-10.5 1-10.1 1-9.7 1-9.2 1-8.5 1-7.7 1-6.8 1-5.9 1-4.8 1-3.7 1-2.7 1-1.4 1-.2 1 .9 1 2.1 1 3.3 1 4.3 1 5.4 1 6.3 1 7.2 1 8 .9 8.7 1 9.3 1 9.8 1 10.1 1 10.4 1 10.5 1 10.5 1 10.5 1 10.4 1 10.1 1 9.8 1 9.4 1 9 1 8.5 1 7.9 1 7.5 1 6.9 1 6.3 1 5.8 1 5.2 1 4.7 1 4.2 1 3.7 1 3.2 1 2.8 1 2.4 1 1.9 1 1.6 1 1.3 1 .8 1 .6 1 .2 1-.1 1-.5 1-.8 1-1.2 1-1.6 .9-2.1 1-2.4 1-3 1-3.4 1-4 1-4.5 1-5.1 1-5.6 1-6.2 1-6.8 1-7.3 1-7.8 1-8.4 1-8.7 1-9.2 1-9.6 1-9.8 1-10 1-10.2 1-10.2 1-10.1 1-9.9 1-9.7 1-9.3 1-8.9 1-8.3 1-7.6 1-6.9 1-6.1 1-5.2 1-4.3 1-3.3 1-2.2 1-1.2 1-.1 1 .9 1 2 .9 3 1 4 1 5 1 5.8 1 6.6 1 7.4 1 8 1 8.5 1 9.1 1 9.4 1 9.7 1 9.9 1 10 1 10.1 1 9.9 1 9.9 1 9.6 1 9.3 1 9 1 8.7 1 8.2 1 7.8 1 7.3 1 6.8 1 6.3 1 5.9 1 5.3 1 4.8 1 4.3 1 3.8 1 3.3 1 2.9 1 2.3 1 2 1 1.5 1 1 1 .6 .9 .2 1-.3 1-.7 1-1.2 1-1.7 1-2.1 1-2.7 1-3.1 1-3.6 1-4.2 1-4.7 1-5.2 1-5.7 1-6.3 1-6.8 1-7.3 1-7.7 1-8.2 1-8.6 1-8.9 1-9.3 1-9.5 1-9.7 1-9.8 1-9.8 1-9.7 1-9.6 1-9.4 1-9.1 1-8.7 1-8.2 1-7.7 1-7 1-6.3 1-5.6 1-4.7 .9-3.8 1-2.9 1-2 1-1 1 0 1 .9 1 1.9 1 2.9 1 3.7 1 4.7 1 5.4 1 6.2 1 6.9 1 7.5 1 8.1 1 8.5 1 9 1 9.2 1 9.5 1 9.6 1 9.7 1 9.7 1 9.7 1 9.5 1 9.3 1 9 1 8.8 1 8.4 1 8 1 7.6 1 7.2 1 6.7 1 6.2 1 5.8 1 5.2 1 4.8 1 4.2 .9 3.7 1 3.2 1 2.6 1 2.2 1 1.6 1 1.2 1 .6 1 .1 1-.5 1-.9 1-1.5 1-2 1-2.6 1-3.1 1-3.6 1-4.1 1-4.7 1-5.3 1-5.7 1-6.3 1-6.7 1-7.2 1-7.7 1-8.1 1-8.4 1-8.8 1-9.1 1-9.3 1-9.4 1-9.6 1-9.5 1-9.6 1-9.4 1-9.3 1-9 1-8.6 1-8.2 .9-7.8 1-7.1 1-6.6 1-5.9 1-5.1 1-4.3 1-3.5 1-2.6 1-1.8 1-.8 1 0 1 1 1 1.9 1 2.7 1 3.6 1 4.4 1 5.2 1 5.9 1 6.6 1 7.2 1 7.7 1 8.2 1 8.6 1 8.9 1 9.1 1 9.4 1 9.5 1 9.5 1 9.5 1 9.4 1 9.3 1 9.1 1 8.8 1 8.6 1 8.2 1 7.8 1 7.4 .9 7 1 6.6 1 6 1 5.6 1 5 1 4.5 1 3.9 1 3.4 1 2.9 1 2.3 1 1.7 1 1.2 1 .6 1 0 1-.6 1-1.1 1-1.8 1-2.3 1-2.8 1-3.5 1-4 1-4.6 1-5.1 1-5.6 1-6.2 1-6.6 1-7.1 1-7.6 1-7.9 1-8.3 1-8.7 1-8.9 1-9.1 1-9.3 1-9.4 1-9.5 1-9.4 .9-9.4 1-9.1 1-9 1-8.7 1-8.3 1-7.8 1-7.4 1-6.8 1-6.2 1-5.5 1-4.8 1-4 1-3.3 1-2.4 1-1.6 1-.7 1 .2 1 1 1 1.8 1 2.7 1 3.5 1 4.3 1 5 1 5.7 1 6.4 1 6.9 1 7.5 1 7.9 1 8.4 1 8.6 1 9 1 9.2 1 9.3 1 9.4 1 9.4 1 9.4 1 9.3 .9 9.1 1 8.9 1 8.6 1 8.3 1 8 1 7.6 1 7.2 1 6.8 1 6.2 1 5.8 1 5.2 1 4.7 1 4.1 1 3.5 1 3 1 2.4 1 1.7 1 1.2 1 .5 1 0 1-.7 1-1.3 1-2 1-2.5 1-3.1 1-3.8 1-4.3 1-4.9 1-5.4 1-5.9 1-6.5 1-6.9 1-7.4 1-7.8 1-8.2 1-8.5 .9-8.8 1-9 1-9.2 1-9.3 1-9.3 1-9.4 1-9.3 1-9.2 1-9 1-8.7 1-8.5 1-8 1-7.6 1-7 1-6.6 1-5.9 1-5.2 1-4.5 1-3.8 1-3.1 1-2.2 1-1.4 1-.6 1 .2 1 1 1 1.9 1 2.7 1 3.4 1 4.2 1 4.9 1 5.6 1 6.2 1 6.8 1 7.3 1 7.7 1 8.2 1 8.5 .9 8.9 1 9 1 9.2 1 9.4 1 9.3 1 9.4 1 9.2 1 9.1 1 9 1 8.7 1 8.4 1 8.1 1 7.7 1 7.4 1 6.8 1 6.4 1 5.9 1 5.4 1 4.8 1 4.2 1 3.6 1 3 1 2.4 1 1.8 1 1.1 1 .5 1-.2 1-.8 1-1.4 1-2.1 1-2.8 1-3.3 1-4 1-4.5 1-5.1 1-5.7 1-6.2 .9-6.7 1-7.2 1-7.6 1-8 1-8.3 1-8.6 1-8.9 1-9.1 1-9.2 1-9.3 1-9.4 1-9.3 1-9.2 1-9 1-8.9 1-8.5 1-8.2 1-7.9 1-7.3 1-6.9 1-6.3 1-5.6 1-5.1 1-4.3 1-3.6 1-2.9 1-2.1 1-1.3 1-.5 1 .4 1 1.1 1 1.8 1 2.7 1 3.4 1 4.2 1 4.8 1 5.5 .9 6.1 1 6.7 1 7.2 1 7.7 1 8 1 8.5 1 8.7 1 9 1 9.1 1 9.3 1 9.3 1 9.3 1 9.3 1 9.1 1 9 1 8.7 1 8.5 1 8.2 1 7.8 1 7.4 1 6.9 1 6.5 1 6 1 5.4 1 4.9 1 4.3 1 3.6 1 3.1 1 2.4 1 1.7 1 1.1 1 .4 1-.2 1-1 1-1.5 1-2.3 .9-2.9 1-3.5 1-4.2 1-4.7 1-5.3 1-5.9 1-6.4 1-6.9 1-7.4 1-7.7 1-8.1 1-8.5 1-8.7 1-9 1-9.1 1-9.3 1-9.3 1-9.3 1-9.2 1-9.2 1-8.9 1-8.7 1-8.4 1-8.1 1-7.7 1-7.1 1-6.7 1-6.1 1-5.5 1-4.8 1-4.2 1-3.5 1-2.7 1-1.9 1-1.2 1-.4 1 .4 .9 1.1 1 1.9 1 2.7 1 3.4 1 4.2 1 4.8 1 5.4 1 6.1 1 6.6 1 7.2 1 7.6 1 8 1 8.3 1 8.7 1 8.9 1 9.1 1 9.3 1 9.3 1 9.3 1 9.2 1 9.2 1 9 1 8.7 1 8.6 1 8.2 1 7.8 1 7.5 1 7 1 6.5 1 6 1 5.5 1 4.9 1 4.3 1 3.7 1 3 1 2.4 1 1.7 .9 1 1 .3 1-.3 1-1 1-1.7 1-2.4 1-3.1 1-3.6 1-4.3 1-5 1-5.5 1-6 1-6.6 1-7 1-7.5 1-7.9 1-8.2 1-8.6 1-8.8 1-9 1-9.1 1-9.3 1-9.3 1-9.3 1-9.2 1-9.1 1-8.8 1-8.6 1-8.3 1-8 1-7.5 1-7 1-6.5 1-6 1-5.3 1-4.7 1-4.1 .9-3.3 1-2.6 1-1.8 1-1.1 1-.3 1 .5 1 1.2 1 2 1 2.7 1 3.4 1 4.2 1 4.8 1 5.4 1 6 1 6.6 1 7.1 1 7.6 1 8 1 8.3 1 8.7 1 8.8 1 9.1 1 9.2 1 9.3 1 9.3 1 9.3 1 9.1 1 9 1 8.8 1 8.6 1 8.2 1 7.9 1 7.5 1 7 1 6.5 1 6.1 1 5.4 .9 4.9 1 4.3 1 3.7 1 3 1 2.3 1 1.7 1 .9 1 .3 1-.4 1-1.2 1-1.8 1-2.5 1-3.1 1-3.9 1-4.4 1-5.1 1-5.6 1-6.2 1-6.6 1-7.2 1-7.6 1-8 1-8.3 1-8.7 1-8.8 1-9.1 1-9.2 1-9.3 1-9.3 1-9.2 1-9.2 1-9 1-8.8 1-8.5 1-8.2 1-7.8 1-7.4 .9-7 1-6.3 1-5.9 1-5.2 1-4.5 1-3.9 1-3.2 1-2.5 1-1.7 1-1 1-.2 1 .5 1 1.3 1 2 1 2.8 1 3.4 1 4.2 1 4.8 1 5.5 1 6 1 6.6 1 7.1 1 7.6 1 7.9 1 8.3 1 8.7 1 8.8 1 9.1 1 9.2 1 9.3 1 9.3 1 9.2 1 9.2 1 9 1 8.8 1 8.5 .9 8.3 1 7.9 1 7.4 1 7.1 1 6.5 1 6.1 1 5.4 1 4.9 1 4.3 1 3.6 1 2.9 1 2.3 1 1.6 1 .9 1 .2 1-.5 1-1.2 1-2 1-2.6 1-3.3 1-3.9 1-4.6 1-5.1 1-5.8 1-6.3 1-6.8 1-7.2 1-7.7 1-8.1 1-8.4 1-8.7 1-8.9 1-9.1 1-9.2 1-9.3 1-9.3 1-9.2 .9-9.2 1-8.9 1-8.8 1-8.4 1-8.1 1-7.8 1-7.3 1-6.8 1-6.3 1-5.7 1-5.1 1-4.4 1-3.8 1-3.1 1-2.4 1-1.6 1-.9 1-.1 1 .6 1 1.3 1 2.1 1 2.9 1 3.5 1 4.2 1 4.8 1 5.5 1 6.1 1 6.6 1 7.1 1 7.5 1 8 1 8.3 1 8.6 1 8.9 1 9.1 1 9.2 1 9.2 .9 9.3 1 9.3 1 9.1 1 9 1 8.8 1 8.6 1 8.2 1 7.9 1 7.5 1 7 1 6.5 1 6 1 5.5 1 4.8 1 4.2 1 3.6 1 2.9 1 2.2 1 1.6 1 .8 1 .1 1-.6 1-1.3 1-2.1 1-2.7 1-3.3 1-4.1 1-4.7 1-5.2 1-5.9 1-6.4 1-6.9 1-7.3 1-7.8 1-8.1 1-8.5 1-8.8 .9-8.9 1-9.2 1-9.2 1-9.3 1-9.3 1-9.2 1-9.1 1-8.9 1-8.7 1-8.3 1-8.1 1-7.6 1-7.3 1-6.7 1-6.1 1-5.7 1-5 1-4.3 1-3.7 1-3 1-2.2 1-1.6 1-.8 1 0 1 .6 1 1.5 1 2.1 1 2.9 1 3.6 1 4.2 1 4.9 1 5.5 1 6.1 1 6.6 1 7.2 1 7.5 .9 8 1 8.3 1 8.7 1 8.9 1 9 1 9.2 1 9.3 1 9.3 1 9.2 1 9.2 1 9 1 8.8 1 8.5 1 8.2 1 7.9 1 7.4 1 7 1 6.5 1 6 1 5.4 1 4.8 1 4.2 1 3.5 1 2.9 1 2.1 1 1.5 1 .7 1 0 1-.7 1-1.4 1-2.1 1-2.8 1-3.5 1-4.1 1-4.8 1-5.3 1-6 .9-6.5 1-6.9 1-7.5 1-7.8 1-8.2 1-8.6 1-8.7 1-9 1-9.2 1-9.2 1-9.3 1-9.3 1-9.2 1-9.1 1-8.8 1-8.7 1-8.3 1-8 1-7.6 1-7.1 1-6.6 1-6.1 1-5.5 1-4.9 1-4.3 1-3.6 1-2.9 1-2.1 1-1.5 1-.7 1 0 1 .8 1 1.5 1 2.2 1 3 1 3.6 1 4.3 .9 4.9 1 5.6 1 6.1 1 6.7 1 7.1 1 7.6 1 8 1 8.4 1 8.6 1 8.9 1 9.1 1 9.2 1 9.2 1 9.3 1 9.3 1 9.1 1 9 1 8.8 1 8.5 1 8.2 1 7.8 1 7.5 1 6.9 1 6.5 1 5.9 1 5.4 1 4.7 1 4.2 1 3.4 1 2.8 1 2.1 1 1.4 1 .6 1 0 1-.8 1-1.5 1-2.2 .9-2.9 1-3.6 1-4.2 1-4.9 1-5.4 1-6 1-6.6 1-7.1 1-7.5 1-7.9 1-8.2 1-8.6 1-8.8 1-9.1 1-9.1 1-9.3 1-9.3 1-9.2 1-9.2 1-9.1 1-8.8 1-8.6 1-8.3 1-7.9 1-7.5 1-7 1-6.6 1-6 1-5.4 1-4.8 1-4.2 1-3.5 1-2.8 1-2.1 1-1.4 1-.6 1 .1 .9 .9 1 1.5 1 2.3 1 3 1 3.7 1 4.4 1 5 1 5.6 1 6.2 1 6.7 1 7.1 1 7.7 1 8 1 8.4 1 8.6 1 8.9 1 9.1 1 9.2 1 9.3 1 9.3 1 9.2 1 9.2 1 8.9 1 8.8 1 8.5 1 8.2 1 7.8 1 7.4 1 6.9 1 6.4 1 5.9 1 5.3 1 4.7 1 4.1 1 3.4 1 2.7 1 2 .9 1.3 1 .6 1-.2 1-.8 1-1.6 1-2.3 1-3 1-3.7 1-4.3 1-4.9 1-5.6 1-6.1 1-6.6 1-7.1 1-7.6 1-7.9 1-8.4 1-8.6 1-8.8 1-9.1 1-9.2 1-9.2 1-9.3 1-9.3 1-9.1 1-9 1-8.9 1-8.5 1-8.2 1-7.9 1-7.4 1-7 1-6.5 1-5.9 1-5.4 1-4.7 .9-4.1 1-3.4 1-2.7 1-2 1-1.3 1-.5 1 .1 1 1 1 1.6 1 2.4 1 3.1 1 3.7 1 4.5 1 5 1 5.7 1 6.2 1 6.7 1 7.2 1 7.7 1 8.1 1 8.4 1 8.6 1 9 1 9 1 9.3 1 9.2 1 9.3 1 9.3 1 9.1 1 8.9 1 8.8 1 8.5 1 8.1 1 7.8 1 7.3 1 6.9 1 6.4 .9 5.8 1 5.3 1 4.6 1 4 1 3.3 1 2.7 1 1.9 1 1.2 1 .5 1-.2 1-.9 1-1.7 1-2.4 1-3.1 1-3.7 1-4.4 1-5 1-5.6 1-6.2 1-6.7 1-7.2 1-7.6 1-8 1-8.4 1-8.7 1-8.8 1-9.1 1-9.2 1-9.3 1-9.3 1-9.2 1-9.2 1-8.9 1-8.8 1-8.5 1-8.2 1-7.8 .9-7.4 1-6.9 1-6.4 1-5.9 1-5.3 1-4.6 1-4 1-3.3 1-2.7 1-1.9 1-1.2 1-.4 1 .2 1 1 1 1.8 1 2.4 1 3.2 1 3.8 1 4.5 1 5.1 1 5.7 1 6.3 1 6.8 1 7.2 1 7.7 1 8.1 1 8.5 1 8.7 1 8.9 1 9.1 1 9.2 1 9.3 1 9.3 1 9.2 1 9.1 1 9 1 8.7 .9 8.4 1 8.1 1 7.8 1 7.3 1 6.8 1 6.4 1 5.7 1 5.2 1 4.6 1 3.9 1 3.3 1 2.5 1 1.9 1 1.1 1 .5 1-.4 1-1 1-1.7 1-2.5 1-3.2 1-3.8 1-4.5 1-5.1 1-5.6 1-6.3 1-6.8 1-7.2 1-7.7 1-8.1 1-8.4 1-8.6 1-9 1-9.1 1-9.2 1-9.2 1-9.3 .9-9.3 1-9.1 1-8.9 1-8.8 1-8.4 1-8.2 1-7.7 1-7.4 1-6.8 1-6.4 1-5.7 1-5.2 1-4.6 1-3.9 1-3.3 1-2.5 1-1.9 1-1.1 1-.3 1 .3 1 1.1 1 1.8 1 2.5 1 3.3 1 3.9 1 4.5 1 5.2 1 5.7 1 6.4 1 6.8 1 7.3 1 7.8 1 8.1 1 8.4 1 8.8 1 8.9 1 9.1 .9 9.3 1 9.2 1 9.3 1 9.2 1 9.1 1 9 1 8.7 1 8.4 1 8.1 1 7.7 1 7.2 1 6.8 1 6.3 1 5.7 1 5.1 1 4.5 1 3.9 1 3.2 1 2.5 1 1.7 1 1.1 1 .3 1-.4 1-1.1 1-1.8 1-2.5 1-3.3 1-3.9 1-4.5 1-5.2 1-5.8 1-6.3 1-6.8 1-7.3 1-7.8 1-8.1 1-8.4 .9-8.7 1-9 1-9.1 1-9.2 1-9.3 1-9.3 1-9.2 1-9.1 1-8.9 1-8.7 1-8.5 1-8.1 1-7.7 1-7.2 1-6.8 1-6.3 1-5.7 1-5.1 1-4.5 1-3.9 1-3.1 1-2.5 1-1.8 1-1 1-.3 1 .5 1 1.1 1 1.9 1 2.6 1 3.3 1 4 1 4.6 1 5.2 1 5.9 1 6.4 1 6.8 1 7.4 .9 7.8 1 8.1 1 8.5 1 8.8 1 8.9 1 9.2 1 9.2 1 9.3 1 9.3 1 9.2 1 9.1 1 8.9 1 8.6 1 8.4 1 8.1 1 7.6 1 7.2 1 6.8 1 6.2 1 5.7 1 5 1 4.5 1 3.7 1 3.1 1 2.5 1 1.7 1 .9 1 .3 1-.5 1-1.2 1-1.9 1-2.6 1-3.3 1-4 1-4.7 1-5.2 1-5.8 .9-6.4 1-6.9 1-7.4 1-7.7 1-8.2 1-8.5 1-8.7 1-9 1-9.1 1-9.3 1-9.3 1-9.2 1-9.2 1-9.1 1-8.9 1-8.7 1-8.4 1-8 1-7.7 1-7.2 1-6.7 1-6.3 1-5.6 1-5 1-4.5 1-3.7 1-3.1 1-2.4 1-1.7 1-.9 1-.2 1 .5 1 1.3 1 1.9 1 2.7 1 3.4 1 4 .9 4.7 1 5.3 1 5.9 1 6.4 1 7 1 7.4 1 7.8 1 8.2 1 8.5 1 8.8 1 9 1 9.1 1 9.3 1 9.3 1 9.2 1 9.2 1 9.1 1 8.9 1 8.6 1 8.4 1 8 1 7.6 1 7.2 1 6.6 1 6.2 1 5.6 1 5 1 4.4 1 3.7 1 3 1 2.3 1 1.6 1 .9 1 .2 1-.5 1-1.3 .9-2 1-2.7 1-3.4 1-4.1 1-4.7 1-5.3 1-5.9 1-6.5 1-6.9 1-7.4 1-7.8 1-8.2 1-8.6 1-8.7 1-9 1-9.2 1-9.2 1-9.3 1-9.3 1-9.2 1-9 1-8.9 1-8.7 1-8.3 1-8 1-7.6 1-7.2 1-6.7 1-6.1 1-5.6 1-4.9 1-4.4 1-3.7 1-3 1-2.3 1-1.6 1-.8 .9-.2 1 .7 1 1.3 1 2 1 2.8 1 3.4 1 4.1 1 4.8 1 5.4 1 5.9 1 6.5 1 7 1 7.5 1 7.8 1 8.3 1 8.5 1 8.8 1 9 1 9.2 1 9.2 1 9.3 1 9.3 1 9.2 1 9 1 8.9 1 8.6 1 8.3 1 8 1 7.5 1 7.2 1 6.6 1 6.1 1 5.5 1 4.9 1 4.3 1 3.7 1 2.9 .9 2.3 1 1.5 1 .8 1 .1 1-.6 1-1.4 1-2.1 1-2.8 1-3.4 1-4.2 1-4.7 1-5.4 1-6 1-6.5 1-7 1-7.5 1-7.8 1-8.3 1-8.5 1-8.8 1-9.1 1-9.1 1-9.3 1-9.3 1-9.2 1-9.2 1-9.1 1-8.8 1-8.6 1-8.3 1-8 1-7.5 1-7.1 1-6.7 1-6 1-5.5 1-5 .9-4.2 1-3.6 1-2.9 1-2.3 1-1.5 1-.7 1-.1 1 .7 1 1.4 1 2.1 1 2.9 1 3.5 1 4.2 1 4.8 1 5.4 1 6 1 6.6 1 7 1 7.5 1 7.9 1 8.3 1 8.6 1 8.8 1 9 1 9.2 1 9.3 1 9.3 1 9.2 1 9.2 1 9 1 8.9 1 8.6 1 8.2 1 8 1 7.5 1 7 .9 6.6 1 6.1 1 5.4 1 4.9 1 4.2 1 3.6 1 2.8 1 2.2 1 1.5 1 .7 1 0 1-.7 1-1.5 1-2.1 1-2.9 1-3.5 1-4.3 1-4.8 1-5.5 1-6 1-6.6 1-7 1-7.5 1-8 1-8.2 1-8.6 1-8.9 1-9 1-9.2 1-9.2 1-9.3 1-9.3 1-9.1 1-9.1 1-8.8 1-8.6 1-8.2 .9-8 1-7.5 1-7 1-6.6 1-6 1-5.4 1-4.9 1-4.1 1-3.6 1-2.8 1-2.2 1-1.4 1-.7 1 .1 1 .7 1 1.5 1 2.2 1 2.9 1 3.6 1 4.3 1 4.9 1 5.5 1 6.1 1 6.6 1 7.1 1 7.5 1 8 1 8.3 1 8.6 1 8.8 1 9.1 1 9.2 1 9.2 1 9.3 1 9.3 1 9.1 1 9 .9 8.9 1 8.5 1 8.3 1 7.8 1 7.5 1 7 1 6.5 1 6 1 5.4 1 4.8 1 4.2 1 3.4 1 2.8 1 2.1 1 1.4 1 .7 1-.1 1-.8 1-1.6" stroke="#009e73" stroke-width="5.9" stroke-dasharray="11.1 13.5"/>
</g>
<rect x="387.0" y="51.0" width="1835.0" height="1323.0" fill="none" stroke="#000" stroke-width="4" shape-rendering="crispEdges"/>
<text class="ax" transform="translate(339.5 77.0) scale(1 1.04)" text-anchor="end">1</text>
<text class="ax" transform="translate(339.5 266.0) scale(1 1.04)" text-anchor="end">0.8</text>
<text class="ax" transform="translate(339.5 455.0) scale(1 1.04)" text-anchor="end">0.6</text>
<text class="ax" transform="translate(339.5 644.0) scale(1 1.04)" text-anchor="end">0.4</text>
<text class="ax" transform="translate(339.5 833.0) scale(1 1.04)" text-anchor="end">0.2</text>
<text class="ax" transform="translate(339.5 1022.0) scale(1 1.04)" text-anchor="end">0</text>
<text class="ax" transform="translate(339.5 1211.0) scale(1 1.04)" text-anchor="end"><tspan dy="6">−</tspan><tspan dy="-6">0.2</tspan></text>
<text class="ax" transform="translate(339.5 1400.0) scale(1 1.04)" text-anchor="end"><tspan dy="6">−</tspan><tspan dy="-6">0.4</tspan></text>
<text class="ax" transform="translate(397.5 1479) scale(1 1.04)" text-anchor="middle">0</text>
<text class="ax" transform="translate(703.3 1479) scale(1 1.04)" text-anchor="middle">50</text>
<text class="ax" transform="translate(1009.2 1479) scale(1 1.04)" text-anchor="middle">100</text>
<text class="ax" transform="translate(1315.0 1479) scale(1 1.04)" text-anchor="middle">150</text>
<text class="ax" transform="translate(1620.8 1479) scale(1 1.04)" text-anchor="middle">200</text>
<text class="ax" transform="translate(1926.7 1479) scale(1 1.04)" text-anchor="middle">250</text>
<text class="ax" transform="translate(2232.5 1479) scale(1 1.04)" text-anchor="middle">300</text>
<text class="ax" x="1304.5" y="1597" text-anchor="middle">t [ps]</text>
<g transform="translate(103,774) rotate(-90)">
<text class="ax" transform="translate(-5.2 0) scale(0.75 1)">|</text>
<text x="11.8" y="0" style="font-family:'DejaVu Serif','Liberation Serif',serif;font-size:72px">α</text>
<text x="62.2" y="23.5" style="font-size:64px">j</text>
<text class="ax" transform="translate(78.7 0) scale(0.75 1)">|</text>
<text x="95.3" y="-40" style="font-size:64px">2</text>
</g>
<text class="lg" transform="translate(572.5 1189.6) scale(1 1.04)" text-anchor="end">DQ1</text><line x1="618" y1="1164.7" x2="821" y2="1164.7" stroke="#000" stroke-width="8.9" shape-rendering="crispEdges"/>
<text class="lg" transform="translate(572.5 1264.9) scale(1 1.04)" text-anchor="end">JQF1</text><line x1="618" y1="1240.0" x2="821" y2="1240.0" stroke="#e51e10" stroke-width="9.3" shape-rendering="crispEdges"/>
<text class="lg" transform="translate(572.5 1340.2) scale(1 1.04)" text-anchor="end">DQ2</text><line x1="618" y1="1315.3" x2="821" y2="1315.3" stroke="#9400d3" stroke-width="7.0" shape-rendering="crispEdges"/>
<text class="lg" transform="translate(1227.0 1189.6) scale(1 1.04)" text-anchor="end">JQF2</text><line x1="1272" y1="1164.7" x2="1475" y2="1164.7" stroke="#009e73" stroke-width="5.8" shape-rendering="crispEdges"/>
<text class="lg" transform="translate(1227.0 1264.9) scale(1 1.04)" text-anchor="end">DQ1, wd</text><line x1="1272" y1="1240.0" x2="1475" y2="1240.0" stroke="#000" stroke-width="9.8" stroke-dasharray="18 23" shape-rendering="crispEdges"/>
<text class="lg" transform="translate(1227.0 1340.2) scale(1 1.04)" text-anchor="end">JQF1, wd</text><line x1="1272" y1="1315.3" x2="1475" y2="1315.3" stroke="#e51e10" stroke-width="8.6" stroke-dasharray="18 23" shape-rendering="crispEdges"/>
<text class="lg" transform="translate(1881.5 1189.6) scale(1 1.04)" text-anchor="end">DQ2, wd</text><line x1="1927" y1="1164.7" x2="2130" y2="1164.7" stroke="#9400d3" stroke-width="6.8" stroke-dasharray="14 18.8" shape-rendering="crispEdges"/>
<text class="lg" transform="translate(1881.5 1264.9) scale(1 1.04)" text-anchor="end">JQF2, wd</text><line x1="1927" y1="1240.0" x2="2130" y2="1240.0" stroke="#009e73" stroke-width="5.9" stroke-dasharray="11.1 13.5" shape-rendering="crispEdges"/>
</svg>
</body>
</html>
